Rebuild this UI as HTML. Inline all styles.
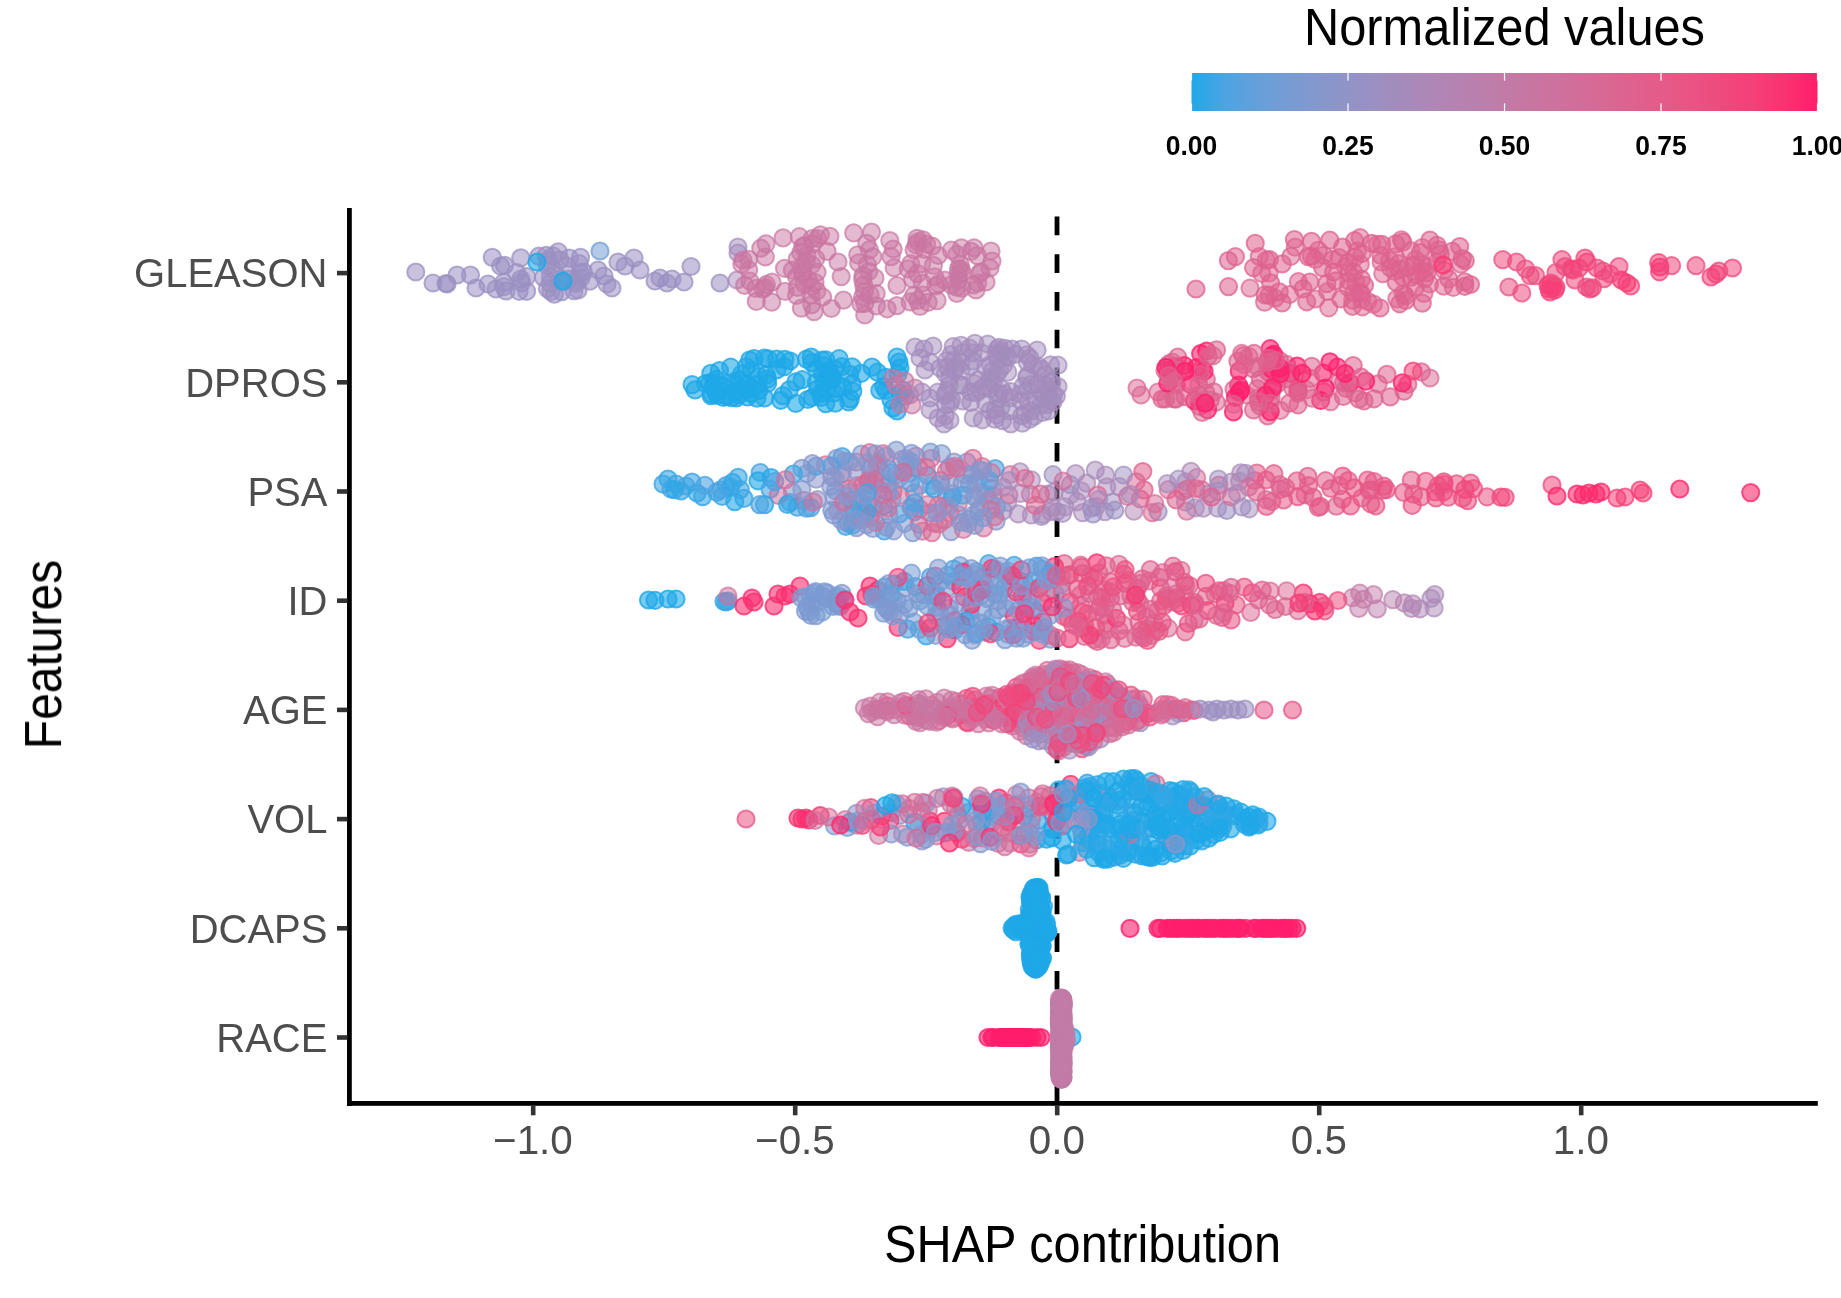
<!DOCTYPE html>
<html><head><meta charset="utf-8"><title>SHAP summary</title>
<style>
html,body{margin:0;padding:0;background:#fff;}
body{width:1841px;height:1298px;overflow:hidden;}
svg{display:block;font-family:"Liberation Sans",sans-serif;}
.at{font-size:39.2px;fill:#4d4d4d;}
.tt{font-size:49px;fill:#000;}
.lt{font-size:26px;font-weight:bold;fill:#000;}
#dots circle{r:8.60px;fill:currentColor;stroke:currentColor;fill-opacity:0.50;stroke-opacity:0.50;stroke-width:2.00px;}
#dots .a{fill-opacity:.45;stroke-opacity:.65}#dots .b{fill-opacity:.5;stroke-opacity:.7}#dots .c{fill-opacity:.55;stroke-opacity:.75}#dots .d{fill-opacity:.6;stroke-opacity:.8}
</style></head><body>
<svg width="1841" height="1298" viewBox="0 0 1841 1298">
<defs><linearGradient id="cb" x1="0" x2="1" y1="0" y2="0"><stop offset="0.000" stop-color="#1ea8e8"/><stop offset="0.050" stop-color="#4aa4e1"/><stop offset="0.100" stop-color="#63a0db"/><stop offset="0.150" stop-color="#759cd4"/><stop offset="0.200" stop-color="#8498ce"/><stop offset="0.250" stop-color="#9193c7"/><stop offset="0.300" stop-color="#9d8fc1"/><stop offset="0.350" stop-color="#a78aba"/><stop offset="0.400" stop-color="#b185b4"/><stop offset="0.450" stop-color="#b980ae"/><stop offset="0.500" stop-color="#c27ba7"/><stop offset="0.550" stop-color="#c975a1"/><stop offset="0.600" stop-color="#d06f9b"/><stop offset="0.650" stop-color="#d76995"/><stop offset="0.700" stop-color="#de628f"/><stop offset="0.750" stop-color="#e45b89"/><stop offset="0.800" stop-color="#ea5383"/><stop offset="0.850" stop-color="#ef497d"/><stop offset="0.900" stop-color="#f53f77"/><stop offset="0.950" stop-color="#fa3171"/><stop offset="1.000" stop-color="#ff1e6b"/></linearGradient></defs>
<rect width="1841" height="1298" fill="#fff"/>
<!-- legend -->
<g opacity="0.999">
<text transform="translate(1504.5,45) scale(0.995,1.065)" text-anchor="middle" class="tt">Normalized values</text>
<rect x="1191.5" y="73.0" width="626.0" height="38.0" fill="url(#cb)"/>
<rect x="1190.9" y="73.0" width="1.2" height="7.6" fill="#fff"/><rect x="1190.9" y="103.4" width="1.2" height="7.6" fill="#fff"/>
<rect x="1347.4" y="73.0" width="1.2" height="7.6" fill="#fff"/><rect x="1347.4" y="103.4" width="1.2" height="7.6" fill="#fff"/>
<rect x="1503.9" y="73.0" width="1.2" height="7.6" fill="#fff"/><rect x="1503.9" y="103.4" width="1.2" height="7.6" fill="#fff"/>
<rect x="1660.4" y="73.0" width="1.2" height="7.6" fill="#fff"/><rect x="1660.4" y="103.4" width="1.2" height="7.6" fill="#fff"/>
<rect x="1816.9" y="73.0" width="1.2" height="7.6" fill="#fff"/><rect x="1816.9" y="103.4" width="1.2" height="7.6" fill="#fff"/>
<text transform="translate(1191.5,155.2) scale(1.02,1.06)" text-anchor="middle" class="lt">0.00</text>
<text transform="translate(1348.0,155.2) scale(1.02,1.06)" text-anchor="middle" class="lt">0.25</text>
<text transform="translate(1504.5,155.2) scale(1.02,1.06)" text-anchor="middle" class="lt">0.50</text>
<text transform="translate(1661.0,155.2) scale(1.02,1.06)" text-anchor="middle" class="lt">0.75</text>
<text transform="translate(1817.5,155.2) scale(1.02,1.06)" text-anchor="middle" class="lt">1.00</text>

</g>
<!-- zero line -->
<line x1="1057" x2="1057" y1="216.6" y2="1101" stroke="#000" stroke-width="4.8" stroke-dasharray="18.6 19.12"/>
<!-- dots -->
<g id="dots">
<g>
<circle class="c" cx="415.8" cy="272.0" r="8.6" color="#9a90c2"/>
<circle class="c" cx="433.0" cy="283.0" r="8.6" color="#9a90c2"/>
<circle class="c" cx="446.0" cy="283.5" r="8.6" color="#9a90c2"/>
<circle class="c" cx="447.0" cy="284.0" r="8.6" color="#9a90c2"/>
<circle class="c" cx="457.0" cy="275.0" r="8.6" color="#9a90c2"/>
<circle class="c" cx="470.5" cy="275.0" r="8.6" color="#9a90c2"/>
<circle class="c" cx="476.0" cy="288.0" r="8.6" color="#9a90c2"/>
<circle class="c" cx="492.3" cy="257.4" r="8.6" color="#9a90c2"/>
<circle class="c" cx="488.0" cy="284.0" r="8.6" color="#9a90c2"/>
<circle class="c" cx="496.0" cy="289.0" r="8.6" color="#9a90c2"/>
<circle class="c" cx="506.0" cy="291.0" r="8.6" color="#9a90c2"/>
<circle class="c" cx="503.7" cy="286.7" r="8.6" color="#9c8fc1"/>
<circle class="c" cx="578.1" cy="289.9" r="8.6" color="#9c8fc1"/>
<circle class="c" cx="538.8" cy="256.2" r="8.6" color="#9b8fc2"/>
<circle class="c" cx="520.8" cy="257.8" r="8.6" color="#9b8fc1"/>
<circle class="c" cx="548.2" cy="260.2" r="8.6" color="#9b8fc2"/>
<circle class="c" cx="569.3" cy="258.1" r="8.6" color="#9990c3"/>
<circle class="c" cx="579.3" cy="263.7" r="8.6" color="#9d8fc1"/>
<circle class="c" cx="552.9" cy="255.9" r="8.6" color="#9b90c2"/>
<circle class="c" cx="500.6" cy="266.0" r="8.6" color="#9a90c3"/>
<circle class="c" cx="554.4" cy="294.1" r="8.6" color="#9c8fc1"/>
<circle class="c" cx="519.1" cy="291.3" r="8.6" color="#9990c3"/>
<circle class="c" cx="575.9" cy="283.5" r="8.6" color="#9b90c2"/>
<circle class="c" cx="583.5" cy="272.1" r="8.6" color="#9a90c2"/>
<circle class="c" cx="580.9" cy="278.0" r="8.6" color="#9c8fc1"/>
<circle class="c" cx="526.6" cy="276.7" r="8.6" color="#9c8fc1"/>
<circle class="c" cx="573.9" cy="290.7" r="8.6" color="#9a90c2"/>
<circle class="c" cx="550.5" cy="276.9" r="8.6" color="#9990c3"/>
<circle class="c" cx="562.8" cy="282.0" r="8.6" color="#9b90c2"/>
<circle class="c" cx="558.2" cy="251.9" r="8.6" color="#9c8fc1"/>
<circle class="c" cx="566.8" cy="266.2" r="8.6" color="#9c8fc1"/>
<circle class="c" cx="589.9" cy="281.2" r="8.6" color="#9c8fc1"/>
<circle class="c" cx="550.9" cy="291.4" r="8.6" color="#9990c3"/>
<circle class="c" cx="560.5" cy="279.1" r="8.6" color="#9a90c3"/>
<circle class="c" cx="546.3" cy="255.4" r="8.6" color="#9b8fc2"/>
<circle class="c" cx="554.6" cy="271.0" r="8.6" color="#9c8fc1"/>
<circle class="c" cx="580.5" cy="257.4" r="8.6" color="#9a90c3"/>
<circle class="c" cx="520.8" cy="279.1" r="8.6" color="#9c8fc1"/>
<circle class="c" cx="526.6" cy="291.3" r="8.6" color="#9990c3"/>
<circle class="c" cx="560.1" cy="260.0" r="8.6" color="#9d8fc1"/>
<circle class="c" cx="543.5" cy="277.5" r="8.6" color="#9b90c2"/>
<circle class="c" cx="547.4" cy="288.6" r="8.6" color="#9b90c2"/>
<circle class="c" cx="580.0" cy="272.7" r="8.6" color="#9b90c2"/>
<circle class="c" cx="547.5" cy="265.7" r="8.6" color="#9d8fc1"/>
<circle class="c" cx="503.8" cy="282.6" r="8.6" color="#9a90c2"/>
<circle class="c" cx="516.6" cy="272.6" r="8.6" color="#9b90c2"/>
<circle class="c" cx="504.5" cy="265.3" r="8.6" color="#9b8fc2"/>
<circle class="c" cx="576.9" cy="281.4" r="8.6" color="#9b90c2"/>
<circle class="c" cx="550.4" cy="283.2" r="8.6" color="#9d8fc1"/>
<circle class="c" cx="521.6" cy="282.6" r="8.6" color="#9990c3"/>
<circle class="c" cx="561.7" cy="291.6" r="8.6" color="#9990c3"/>
<circle class="c" cx="568.6" cy="279.1" r="8.6" color="#9c8fc1"/>
<circle class="d" cx="537.0" cy="262.0" r="8.6" color="#1ea8e8"/>
<circle class="d" cx="563.0" cy="281.0" r="8.6" color="#1ea8e8"/>
<circle class="c" cx="600.0" cy="251.0" r="8.6" color="#729dd6"/>
<circle class="c" cx="598.0" cy="270.0" r="8.6" color="#9a90c2"/>
<circle class="c" cx="607.0" cy="284.0" r="8.6" color="#9a90c2"/>
<circle class="c" cx="612.0" cy="288.0" r="8.6" color="#9a90c2"/>
<circle class="c" cx="618.0" cy="262.0" r="8.6" color="#9a90c2"/>
<circle class="c" cx="625.0" cy="266.0" r="8.6" color="#9a90c2"/>
<circle class="c" cx="634.0" cy="258.0" r="8.6" color="#9a90c2"/>
<circle class="c" cx="640.0" cy="270.0" r="8.6" color="#9a90c2"/>
<circle class="c" cx="655.0" cy="281.0" r="8.6" color="#9a90c2"/>
<circle class="c" cx="660.0" cy="278.0" r="8.6" color="#9a90c2"/>
<circle class="c" cx="667.0" cy="283.0" r="8.6" color="#9a90c2"/>
<circle class="c" cx="672.0" cy="279.0" r="8.6" color="#9a90c2"/>
<circle class="c" cx="684.0" cy="282.0" r="8.6" color="#9a90c2"/>
<circle class="c" cx="691.0" cy="266.5" r="8.6" color="#9a90c2"/>
<circle class="c" cx="604.0" cy="276.0" r="8.6" color="#9a90c2"/>
<circle class="c" cx="720.0" cy="283.0" r="8.6" color="#9a90c2"/>
<circle class="b" cx="737.0" cy="280.0" r="8.6" color="#a989b9"/>
<circle class="b" cx="738.0" cy="247.0" r="8.6" color="#a38cbd"/>
<circle class="b" cx="738.0" cy="253.0" r="8.6" color="#a38cbd"/>
<circle class="b" cx="863.7" cy="285.2" r="8.6" color="#ca74a0"/>
<circle class="b" cx="958.7" cy="279.8" r="8.6" color="#ca75a0"/>
<circle class="b" cx="920.0" cy="306.4" r="8.6" color="#ca74a0"/>
<circle class="b" cx="741.8" cy="264.1" r="8.6" color="#c976a2"/>
<circle class="b" cx="800.7" cy="252.8" r="8.6" color="#c876a2"/>
<circle class="b" cx="864.7" cy="314.9" r="8.6" color="#c976a2"/>
<circle class="b" cx="957.0" cy="254.3" r="8.6" color="#c975a1"/>
<circle class="b" cx="756.3" cy="301.4" r="8.6" color="#c975a1"/>
<circle class="b" cx="838.0" cy="262.0" r="8.6" color="#c876a2"/>
<circle class="b" cx="872.8" cy="256.8" r="8.6" color="#c975a1"/>
<circle class="b" cx="748.7" cy="269.8" r="8.6" color="#c976a2"/>
<circle class="b" cx="760.8" cy="248.2" r="8.6" color="#c975a1"/>
<circle class="b" cx="863.0" cy="275.6" r="8.6" color="#ca75a1"/>
<circle class="b" cx="772.0" cy="282.1" r="8.6" color="#ca75a1"/>
<circle class="b" cx="784.5" cy="268.3" r="8.6" color="#c876a2"/>
<circle class="b" cx="912.6" cy="279.2" r="8.6" color="#c976a2"/>
<circle class="b" cx="876.2" cy="293.6" r="8.6" color="#c975a1"/>
<circle class="b" cx="797.3" cy="287.3" r="8.6" color="#ca74a0"/>
<circle class="b" cx="870.1" cy="294.9" r="8.6" color="#c976a2"/>
<circle class="b" cx="974.1" cy="247.8" r="8.6" color="#c876a2"/>
<circle class="b" cx="841.2" cy="276.6" r="8.6" color="#c876a2"/>
<circle class="b" cx="910.7" cy="263.9" r="8.6" color="#c975a1"/>
<circle class="b" cx="812.2" cy="238.5" r="8.6" color="#cb74a0"/>
<circle class="b" cx="894.1" cy="267.7" r="8.6" color="#ca75a1"/>
<circle class="b" cx="815.8" cy="258.7" r="8.6" color="#c876a2"/>
<circle class="b" cx="951.3" cy="250.2" r="8.6" color="#ca75a1"/>
<circle class="b" cx="810.9" cy="294.9" r="8.6" color="#ca74a0"/>
<circle class="b" cx="817.0" cy="291.0" r="8.6" color="#ca75a1"/>
<circle class="b" cx="921.7" cy="263.6" r="8.6" color="#c975a1"/>
<circle class="b" cx="771.7" cy="302.2" r="8.6" color="#c876a2"/>
<circle class="b" cx="831.3" cy="308.5" r="8.6" color="#c976a2"/>
<circle class="b" cx="960.2" cy="264.6" r="8.6" color="#c976a2"/>
<circle class="b" cx="822.7" cy="297.0" r="8.6" color="#c975a1"/>
<circle class="b" cx="876.3" cy="305.9" r="8.6" color="#c876a2"/>
<circle class="b" cx="913.9" cy="295.3" r="8.6" color="#c876a2"/>
<circle class="b" cx="762.8" cy="289.1" r="8.6" color="#c976a2"/>
<circle class="b" cx="922.3" cy="283.0" r="8.6" color="#c876a2"/>
<circle class="b" cx="802.7" cy="274.4" r="8.6" color="#ca75a1"/>
<circle class="b" cx="817.0" cy="272.3" r="8.6" color="#ca75a1"/>
<circle class="b" cx="922.8" cy="295.1" r="8.6" color="#c975a1"/>
<circle class="b" cx="937.1" cy="300.6" r="8.6" color="#c876a2"/>
<circle class="b" cx="785.0" cy="291.3" r="8.6" color="#c876a2"/>
<circle class="b" cx="977.3" cy="255.6" r="8.6" color="#c975a1"/>
<circle class="b" cx="971.0" cy="251.4" r="8.6" color="#c976a2"/>
<circle class="b" cx="961.5" cy="247.8" r="8.6" color="#c876a2"/>
<circle class="b" cx="765.3" cy="257.0" r="8.6" color="#ca74a0"/>
<circle class="b" cx="802.7" cy="246.5" r="8.6" color="#c876a2"/>
<circle class="b" cx="956.8" cy="293.4" r="8.6" color="#c876a2"/>
<circle class="b" cx="799.4" cy="236.7" r="8.6" color="#ca75a1"/>
<circle class="b" cx="857.7" cy="254.8" r="8.6" color="#c976a1"/>
<circle class="b" cx="858.7" cy="262.9" r="8.6" color="#ca74a0"/>
<circle class="b" cx="924.2" cy="249.5" r="8.6" color="#ca75a1"/>
<circle class="b" cx="804.3" cy="283.6" r="8.6" color="#c975a1"/>
<circle class="b" cx="871.5" cy="232.1" r="8.6" color="#c876a2"/>
<circle class="b" cx="935.9" cy="286.0" r="8.6" color="#ca74a0"/>
<circle class="b" cx="864.8" cy="303.4" r="8.6" color="#ca74a0"/>
<circle class="b" cx="843.5" cy="300.1" r="8.6" color="#c876a2"/>
<circle class="b" cx="817.4" cy="238.5" r="8.6" color="#c976a2"/>
<circle class="b" cx="916.1" cy="244.8" r="8.6" color="#cb74a0"/>
<circle class="b" cx="917.0" cy="238.3" r="8.6" color="#c876a2"/>
<circle class="b" cx="853.7" cy="232.9" r="8.6" color="#ca75a1"/>
<circle class="b" cx="979.3" cy="273.8" r="8.6" color="#c876a2"/>
<circle class="b" cx="867.4" cy="264.7" r="8.6" color="#c975a1"/>
<circle class="b" cx="801.4" cy="308.2" r="8.6" color="#c975a1"/>
<circle class="b" cx="813.0" cy="243.8" r="8.6" color="#c975a1"/>
<circle class="b" cx="889.8" cy="240.5" r="8.6" color="#c975a1"/>
<circle class="b" cx="802.6" cy="265.2" r="8.6" color="#cb74a0"/>
<circle class="b" cx="933.4" cy="265.4" r="8.6" color="#c976a1"/>
<circle class="b" cx="811.9" cy="264.8" r="8.6" color="#c976a2"/>
<circle class="b" cx="922.9" cy="239.8" r="8.6" color="#ca75a1"/>
<circle class="b" cx="917.5" cy="273.7" r="8.6" color="#cb74a0"/>
<circle class="b" cx="896.9" cy="305.6" r="8.6" color="#c876a2"/>
<circle class="b" cx="864.6" cy="291.6" r="8.6" color="#c975a1"/>
<circle class="b" cx="944.8" cy="280.1" r="8.6" color="#c976a1"/>
<circle class="b" cx="797.3" cy="259.0" r="8.6" color="#ca75a0"/>
<circle class="b" cx="866.8" cy="243.3" r="8.6" color="#c876a2"/>
<circle class="b" cx="977.7" cy="283.0" r="8.6" color="#c976a2"/>
<circle class="b" cx="891.1" cy="256.7" r="8.6" color="#c975a1"/>
<circle class="b" cx="874.9" cy="277.9" r="8.6" color="#c876a2"/>
<circle class="b" cx="811.7" cy="286.5" r="8.6" color="#c876a2"/>
<circle class="b" cx="748.7" cy="259.3" r="8.6" color="#c876a2"/>
<circle class="b" cx="862.7" cy="279.4" r="8.6" color="#ca75a0"/>
<circle class="b" cx="744.6" cy="285.4" r="8.6" color="#c876a2"/>
<circle class="b" cx="792.4" cy="270.2" r="8.6" color="#ca74a0"/>
<circle class="b" cx="973.3" cy="285.0" r="8.6" color="#c876a2"/>
<circle class="b" cx="962.0" cy="272.4" r="8.6" color="#ca75a0"/>
<circle class="b" cx="755.9" cy="288.4" r="8.6" color="#ca75a1"/>
<circle class="b" cx="808.1" cy="280.2" r="8.6" color="#ca75a1"/>
<circle class="b" cx="829.9" cy="236.4" r="8.6" color="#c976a2"/>
<circle class="b" cx="827.0" cy="251.4" r="8.6" color="#ca74a0"/>
<circle class="b" cx="766.3" cy="284.7" r="8.6" color="#c975a1"/>
<circle class="b" cx="934.7" cy="276.8" r="8.6" color="#ca75a1"/>
<circle class="b" cx="928.1" cy="302.3" r="8.6" color="#ca74a0"/>
<circle class="b" cx="811.8" cy="304.6" r="8.6" color="#c876a2"/>
<circle class="b" cx="820.4" cy="234.8" r="8.6" color="#ca75a1"/>
<circle class="b" cx="868.7" cy="271.5" r="8.6" color="#c876a2"/>
<circle class="b" cx="961.8" cy="288.1" r="8.6" color="#c975a1"/>
<circle class="b" cx="893.2" cy="249.0" r="8.6" color="#cb74a0"/>
<circle class="b" cx="951.4" cy="284.9" r="8.6" color="#ca75a1"/>
<circle class="b" cx="958.5" cy="268.8" r="8.6" color="#ca75a1"/>
<circle class="b" cx="764.9" cy="287.5" r="8.6" color="#ca74a0"/>
<circle class="b" cx="910.2" cy="301.9" r="8.6" color="#c876a2"/>
<circle class="b" cx="887.2" cy="308.8" r="8.6" color="#c876a2"/>
<circle class="b" cx="908.2" cy="268.9" r="8.6" color="#c976a2"/>
<circle class="b" cx="932.2" cy="246.2" r="8.6" color="#cb74a0"/>
<circle class="b" cx="807.0" cy="255.0" r="8.6" color="#c976a2"/>
<circle class="b" cx="961.0" cy="269.3" r="8.6" color="#c975a1"/>
<circle class="b" cx="958.1" cy="274.6" r="8.6" color="#c976a1"/>
<circle class="b" cx="938.5" cy="283.8" r="8.6" color="#ca75a0"/>
<circle class="b" cx="862.6" cy="296.9" r="8.6" color="#c976a2"/>
<circle class="b" cx="796.6" cy="295.4" r="8.6" color="#ca75a1"/>
<circle class="b" cx="749.9" cy="281.2" r="8.6" color="#cb74a0"/>
<circle class="b" cx="914.1" cy="249.9" r="8.6" color="#ca75a1"/>
<circle class="b" cx="926.6" cy="244.2" r="8.6" color="#ca75a0"/>
<circle class="b" cx="956.5" cy="287.1" r="8.6" color="#c876a2"/>
<circle class="b" cx="815.0" cy="282.6" r="8.6" color="#ca74a0"/>
<circle class="b" cx="804.8" cy="245.4" r="8.6" color="#c975a1"/>
<circle class="b" cx="917.8" cy="241.9" r="8.6" color="#c976a2"/>
<circle class="b" cx="802.6" cy="271.8" r="8.6" color="#c975a1"/>
<circle class="b" cx="783.1" cy="237.9" r="8.6" color="#ca75a1"/>
<circle class="b" cx="766.1" cy="243.8" r="8.6" color="#c876a2"/>
<circle class="b" cx="796.5" cy="276.7" r="8.6" color="#c976a1"/>
<circle class="b" cx="814.1" cy="311.6" r="8.6" color="#c876a2"/>
<circle class="b" cx="897.0" cy="285.5" r="8.6" color="#ca74a0"/>
<circle class="b" cx="917.8" cy="300.4" r="8.6" color="#c876a2"/>
<circle class="b" cx="938.2" cy="255.5" r="8.6" color="#c975a1"/>
<circle class="b" cx="869.4" cy="249.9" r="8.6" color="#c876a2"/>
<circle class="b" cx="860.8" cy="303.7" r="8.6" color="#c975a1"/>
<circle class="b" cx="742.9" cy="260.0" r="8.6" color="#ca75a0"/>
<circle class="b" cx="806.2" cy="261.6" r="8.6" color="#c876a2"/>
<circle class="b" cx="991.0" cy="251.0" r="8.6" color="#c975a1"/>
<circle class="b" cx="992.0" cy="261.0" r="8.6" color="#c975a1"/>
<circle class="b" cx="990.0" cy="268.0" r="8.6" color="#c975a1"/>
<circle class="b" cx="986.0" cy="282.0" r="8.6" color="#c975a1"/>
<circle class="b" cx="976.0" cy="290.0" r="8.6" color="#c975a1"/>
<circle class="b" cx="981.0" cy="272.0" r="8.6" color="#c975a1"/>
<circle class="c" cx="1196.0" cy="289.0" r="8.6" color="#de628f"/>
<circle class="c" cx="1352.5" cy="306.3" r="8.6" color="#df618e"/>
<circle class="b" cx="1460.8" cy="264.2" r="8.6" color="#dd6390"/>
<circle class="b" cx="1315.6" cy="299.0" r="8.6" color="#dd6390"/>
<circle class="c" cx="1403.1" cy="293.8" r="8.6" color="#df618e"/>
<circle class="b" cx="1259.3" cy="256.5" r="8.6" color="#dd638f"/>
<circle class="c" cx="1395.9" cy="243.8" r="8.6" color="#de618e"/>
<circle class="c" cx="1380.9" cy="255.4" r="8.6" color="#de628e"/>
<circle class="c" cx="1282.2" cy="263.9" r="8.6" color="#de628e"/>
<circle class="c" cx="1269.0" cy="295.2" r="8.6" color="#df618e"/>
<circle class="c" cx="1437.0" cy="245.4" r="8.6" color="#de618e"/>
<circle class="c" cx="1464.8" cy="286.3" r="8.6" color="#de628e"/>
<circle class="c" cx="1326.8" cy="283.7" r="8.6" color="#de628e"/>
<circle class="b" cx="1318.3" cy="250.4" r="8.6" color="#dd638f"/>
<circle class="b" cx="1398.7" cy="263.6" r="8.6" color="#dc6490"/>
<circle class="c" cx="1332.8" cy="259.7" r="8.6" color="#de618e"/>
<circle class="c" cx="1426.8" cy="266.6" r="8.6" color="#de628e"/>
<circle class="c" cx="1348.4" cy="262.5" r="8.6" color="#de628e"/>
<circle class="b" cx="1429.6" cy="284.0" r="8.6" color="#dd638f"/>
<circle class="b" cx="1359.0" cy="292.0" r="8.6" color="#dd638f"/>
<circle class="c" cx="1253.6" cy="267.7" r="8.6" color="#de628e"/>
<circle class="b" cx="1275.2" cy="298.2" r="8.6" color="#dd638f"/>
<circle class="c" cx="1424.6" cy="278.6" r="8.6" color="#df618e"/>
<circle class="c" cx="1381.7" cy="244.4" r="8.6" color="#df618e"/>
<circle class="c" cx="1405.8" cy="300.4" r="8.6" color="#df618e"/>
<circle class="b" cx="1394.6" cy="271.1" r="8.6" color="#dd638f"/>
<circle class="c" cx="1340.8" cy="299.0" r="8.6" color="#de628f"/>
<circle class="b" cx="1345.5" cy="266.6" r="8.6" color="#dc6490"/>
<circle class="c" cx="1342.5" cy="247.0" r="8.6" color="#de628f"/>
<circle class="c" cx="1396.2" cy="282.1" r="8.6" color="#de628e"/>
<circle class="b" cx="1422.3" cy="247.6" r="8.6" color="#dd638f"/>
<circle class="b" cx="1362.4" cy="306.8" r="8.6" color="#dd638f"/>
<circle class="b" cx="1415.6" cy="259.6" r="8.6" color="#dd6390"/>
<circle class="b" cx="1269.0" cy="272.9" r="8.6" color="#dd638f"/>
<circle class="c" cx="1322.6" cy="267.6" r="8.6" color="#df618e"/>
<circle class="b" cx="1352.8" cy="300.2" r="8.6" color="#dd628f"/>
<circle class="b" cx="1396.8" cy="298.8" r="8.6" color="#dd638f"/>
<circle class="c" cx="1452.1" cy="251.4" r="8.6" color="#df618e"/>
<circle class="c" cx="1269.4" cy="259.5" r="8.6" color="#dd628f"/>
<circle class="c" cx="1459.7" cy="246.5" r="8.6" color="#de618e"/>
<circle class="c" cx="1364.5" cy="285.3" r="8.6" color="#de628e"/>
<circle class="c" cx="1427.1" cy="272.6" r="8.6" color="#df618e"/>
<circle class="c" cx="1353.6" cy="272.3" r="8.6" color="#de628f"/>
<circle class="c" cx="1329.8" cy="240.2" r="8.6" color="#de628f"/>
<circle class="c" cx="1362.1" cy="253.5" r="8.6" color="#de618e"/>
<circle class="b" cx="1360.1" cy="237.7" r="8.6" color="#dd638f"/>
<circle class="b" cx="1348.8" cy="281.0" r="8.6" color="#dd638f"/>
<circle class="c" cx="1389.7" cy="260.6" r="8.6" color="#de628e"/>
<circle class="c" cx="1354.6" cy="240.7" r="8.6" color="#de618e"/>
<circle class="c" cx="1339.2" cy="257.7" r="8.6" color="#de628e"/>
<circle class="c" cx="1405.4" cy="295.9" r="8.6" color="#dd628f"/>
<circle class="c" cx="1402.8" cy="242.2" r="8.6" color="#de628f"/>
<circle class="c" cx="1228.5" cy="286.6" r="8.6" color="#df618e"/>
<circle class="b" cx="1348.3" cy="287.5" r="8.6" color="#dd6390"/>
<circle class="c" cx="1464.7" cy="281.8" r="8.6" color="#de628e"/>
<circle class="b" cx="1327.6" cy="291.5" r="8.6" color="#dd6390"/>
<circle class="c" cx="1270.6" cy="282.8" r="8.6" color="#de628e"/>
<circle class="b" cx="1440.4" cy="254.1" r="8.6" color="#dd628f"/>
<circle class="c" cx="1421.8" cy="270.9" r="8.6" color="#de628e"/>
<circle class="b" cx="1444.3" cy="270.5" r="8.6" color="#dc6390"/>
<circle class="b" cx="1410.8" cy="250.5" r="8.6" color="#dd6390"/>
<circle class="c" cx="1335.8" cy="280.9" r="8.6" color="#de628f"/>
<circle class="b" cx="1362.0" cy="299.3" r="8.6" color="#dd6390"/>
<circle class="c" cx="1308.3" cy="256.6" r="8.6" color="#de628f"/>
<circle class="c" cx="1422.1" cy="264.6" r="8.6" color="#df618e"/>
<circle class="c" cx="1403.2" cy="277.4" r="8.6" color="#de628f"/>
<circle class="b" cx="1353.8" cy="292.9" r="8.6" color="#dd638f"/>
<circle class="b" cx="1381.1" cy="262.0" r="8.6" color="#dd6390"/>
<circle class="b" cx="1289.6" cy="294.5" r="8.6" color="#dd638f"/>
<circle class="c" cx="1309.9" cy="282.0" r="8.6" color="#de628f"/>
<circle class="b" cx="1328.7" cy="307.8" r="8.6" color="#dd638f"/>
<circle class="b" cx="1323.7" cy="255.3" r="8.6" color="#dd638f"/>
<circle class="c" cx="1228.4" cy="260.6" r="8.6" color="#de628e"/>
<circle class="b" cx="1367.8" cy="301.4" r="8.6" color="#dd638f"/>
<circle class="c" cx="1298.4" cy="281.7" r="8.6" color="#de628f"/>
<circle class="c" cx="1311.5" cy="241.4" r="8.6" color="#de628e"/>
<circle class="b" cx="1360.3" cy="264.4" r="8.6" color="#dd638f"/>
<circle class="c" cx="1410.8" cy="277.5" r="8.6" color="#de628f"/>
<circle class="c" cx="1448.8" cy="279.0" r="8.6" color="#df618e"/>
<circle class="b" cx="1264.6" cy="302.2" r="8.6" color="#dd638f"/>
<circle class="c" cx="1255.2" cy="243.3" r="8.6" color="#df618d"/>
<circle class="b" cx="1261.7" cy="273.4" r="8.6" color="#dd638f"/>
<circle class="c" cx="1303.1" cy="288.8" r="8.6" color="#de628e"/>
<circle class="c" cx="1380.1" cy="308.0" r="8.6" color="#de628e"/>
<circle class="c" cx="1399.6" cy="303.8" r="8.6" color="#de628e"/>
<circle class="c" cx="1470.5" cy="284.5" r="8.6" color="#dd628f"/>
<circle class="b" cx="1355.8" cy="282.4" r="8.6" color="#dd638f"/>
<circle class="c" cx="1265.1" cy="294.9" r="8.6" color="#de628f"/>
<circle class="b" cx="1453.3" cy="287.3" r="8.6" color="#dd638f"/>
<circle class="b" cx="1250.0" cy="288.1" r="8.6" color="#dc6490"/>
<circle class="c" cx="1465.3" cy="260.7" r="8.6" color="#de618e"/>
<circle class="c" cx="1416.2" cy="274.7" r="8.6" color="#de628e"/>
<circle class="b" cx="1290.9" cy="256.3" r="8.6" color="#dd638f"/>
<circle class="b" cx="1394.7" cy="256.8" r="8.6" color="#dd638f"/>
<circle class="b" cx="1315.2" cy="259.4" r="8.6" color="#dd6390"/>
<circle class="c" cx="1371.4" cy="243.3" r="8.6" color="#de618e"/>
<circle class="b" cx="1407.3" cy="267.3" r="8.6" color="#dd638f"/>
<circle class="c" cx="1279.2" cy="291.9" r="8.6" color="#de628e"/>
<circle class="c" cx="1413.5" cy="264.9" r="8.6" color="#de628e"/>
<circle class="b" cx="1401.4" cy="239.8" r="8.6" color="#dd638f"/>
<circle class="c" cx="1422.3" cy="303.2" r="8.6" color="#de628e"/>
<circle class="c" cx="1438.9" cy="249.8" r="8.6" color="#df618d"/>
<circle class="c" cx="1306.7" cy="301.8" r="8.6" color="#de618e"/>
<circle class="c" cx="1354.9" cy="257.1" r="8.6" color="#de628e"/>
<circle class="b" cx="1295.2" cy="247.1" r="8.6" color="#dd638f"/>
<circle class="c" cx="1361.2" cy="293.4" r="8.6" color="#de628f"/>
<circle class="b" cx="1266.3" cy="260.1" r="8.6" color="#dd638f"/>
<circle class="c" cx="1361.4" cy="279.1" r="8.6" color="#df618e"/>
<circle class="b" cx="1357.2" cy="251.0" r="8.6" color="#dd638f"/>
<circle class="b" cx="1443.7" cy="286.2" r="8.6" color="#dd628f"/>
<circle class="c" cx="1235.4" cy="256.7" r="8.6" color="#de628e"/>
<circle class="c" cx="1294.4" cy="239.5" r="8.6" color="#de628f"/>
<circle class="c" cx="1333.6" cy="272.0" r="8.6" color="#de628e"/>
<circle class="b" cx="1390.4" cy="267.8" r="8.6" color="#dd638f"/>
<circle class="b" cx="1373.4" cy="304.1" r="8.6" color="#dd6390"/>
<circle class="c" cx="1462.3" cy="258.6" r="8.6" color="#de628e"/>
<circle class="c" cx="1282.1" cy="302.9" r="8.6" color="#de618e"/>
<circle class="b" cx="1382.8" cy="273.7" r="8.6" color="#dd638f"/>
<circle class="c" cx="1429.9" cy="240.1" r="8.6" color="#de628f"/>
<circle class="b" cx="1377.6" cy="244.4" r="8.6" color="#dd638f"/>
<circle class="b" cx="1400.1" cy="269.4" r="8.6" color="#dd638f"/>
<circle class="c" cx="1311.4" cy="256.1" r="8.6" color="#df618e"/>
<circle class="b" cx="1348.8" cy="273.2" r="8.6" color="#dd638f"/>
<circle class="b" cx="1420.3" cy="252.7" r="8.6" color="#dd6390"/>
<circle class="c" cx="1415.5" cy="287.1" r="8.6" color="#de618e"/>
<circle class="b" cx="1423.9" cy="293.4" r="8.6" color="#dd638f"/>
<circle class="c" cx="1436.8" cy="262.1" r="8.6" color="#de628e"/>
<circle class="d" cx="1443.0" cy="265.0" r="8.6" color="#f73a74"/>
<circle class="c" cx="1502.8" cy="259.7" r="8.6" color="#ec4f80"/>
<circle class="c" cx="1516.5" cy="262.0" r="8.6" color="#ec4f80"/>
<circle class="c" cx="1525.6" cy="268.8" r="8.6" color="#ec4f80"/>
<circle class="c" cx="1530.2" cy="275.6" r="8.6" color="#ec4f80"/>
<circle class="c" cx="1535.5" cy="275.6" r="8.6" color="#ec4f80"/>
<circle class="c" cx="1508.9" cy="287.0" r="8.6" color="#ea5383"/>
<circle class="c" cx="1521.8" cy="293.0" r="8.6" color="#ec4f80"/>
<circle class="c" cx="1548.0" cy="285.0" r="8.6" color="#f53f77"/>
<circle class="c" cx="1552.0" cy="288.0" r="8.6" color="#f53f77"/>
<circle class="c" cx="1555.0" cy="290.0" r="8.6" color="#f53f77"/>
<circle class="c" cx="1550.0" cy="292.0" r="8.6" color="#f53f77"/>
<circle class="c" cx="1553.0" cy="285.0" r="8.6" color="#f53f77"/>
<circle class="c" cx="1549.0" cy="289.0" r="8.6" color="#f53f77"/>
<circle class="c" cx="1556.0" cy="287.0" r="8.6" color="#f53f77"/>
<circle class="c" cx="1551.0" cy="283.0" r="8.6" color="#f53f77"/>
<circle class="c" cx="1562.0" cy="259.7" r="8.6" color="#ef497d"/>
<circle class="c" cx="1565.0" cy="266.5" r="8.6" color="#ef497d"/>
<circle class="c" cx="1571.0" cy="268.8" r="8.6" color="#f34379"/>
<circle class="c" cx="1573.0" cy="270.0" r="8.6" color="#f34379"/>
<circle class="c" cx="1579.0" cy="268.0" r="8.6" color="#f34379"/>
<circle class="c" cx="1585.0" cy="258.0" r="8.6" color="#f34379"/>
<circle class="c" cx="1587.0" cy="262.0" r="8.6" color="#f34379"/>
<circle class="c" cx="1556.0" cy="272.6" r="8.6" color="#ec4f80"/>
<circle class="c" cx="1603.0" cy="271.0" r="8.6" color="#ef497d"/>
<circle class="c" cx="1604.0" cy="278.7" r="8.6" color="#ef497d"/>
<circle class="c" cx="1586.5" cy="287.0" r="8.6" color="#ef497d"/>
<circle class="c" cx="1592.5" cy="287.8" r="8.6" color="#ef497d"/>
<circle class="c" cx="1590.0" cy="289.0" r="8.6" color="#ef497d"/>
<circle class="c" cx="1619.0" cy="266.5" r="8.6" color="#ef497d"/>
<circle class="d" cx="1621.4" cy="280.0" r="8.6" color="#f73a74"/>
<circle class="d" cx="1626.8" cy="283.0" r="8.6" color="#f73a74"/>
<circle class="c" cx="1630.6" cy="286.0" r="8.6" color="#f34379"/>
<circle class="c" cx="1658.7" cy="262.7" r="8.6" color="#f53f77"/>
<circle class="c" cx="1659.5" cy="271.8" r="8.6" color="#f53f77"/>
<circle class="d" cx="1660.0" cy="267.0" r="8.6" color="#f73a74"/>
<circle class="c" cx="1671.6" cy="265.7" r="8.6" color="#ef497d"/>
<circle class="c" cx="1696.0" cy="265.7" r="8.6" color="#ef497d"/>
<circle class="c" cx="1711.0" cy="277.0" r="8.6" color="#f34379"/>
<circle class="c" cx="1718.8" cy="271.0" r="8.6" color="#f34379"/>
<circle class="c" cx="1716.0" cy="274.0" r="8.6" color="#f34379"/>
<circle class="c" cx="1732.5" cy="268.0" r="8.6" color="#ef497d"/>
<circle class="c" cx="1597.0" cy="268.0" r="8.6" color="#ef497d"/>
<circle class="c" cx="1610.0" cy="274.0" r="8.6" color="#ef497d"/>
<circle class="c" cx="1575.0" cy="280.0" r="8.6" color="#ef497d"/>
</g>
<g>
<circle class="d" cx="740.7" cy="389.7" r="8.6" color="#1ea8e8"/>
<circle class="d" cx="886.0" cy="390.3" r="8.6" color="#1ea8e8"/>
<circle class="d" cx="795.9" cy="381.8" r="8.6" color="#1ea8e8"/>
<circle class="d" cx="711.0" cy="395.7" r="8.6" color="#1ea8e8"/>
<circle class="d" cx="692.1" cy="384.6" r="8.6" color="#1ea8e8"/>
<circle class="d" cx="852.0" cy="384.1" r="8.6" color="#1ea8e8"/>
<circle class="d" cx="767.6" cy="383.4" r="8.6" color="#1ea8e8"/>
<circle class="d" cx="754.1" cy="358.5" r="8.6" color="#1ea8e8"/>
<circle class="d" cx="741.5" cy="374.1" r="8.6" color="#1ea8e8"/>
<circle class="d" cx="821.3" cy="393.2" r="8.6" color="#1ea8e8"/>
<circle class="d" cx="719.5" cy="370.6" r="8.6" color="#1ea8e8"/>
<circle class="d" cx="747.6" cy="396.9" r="8.6" color="#1ea8e8"/>
<circle class="d" cx="705.6" cy="383.6" r="8.6" color="#1ea8e8"/>
<circle class="d" cx="734.4" cy="381.5" r="8.6" color="#1ea8e8"/>
<circle class="d" cx="825.8" cy="359.8" r="8.6" color="#1ea8e8"/>
<circle class="d" cx="825.8" cy="403.7" r="8.6" color="#1ea8e8"/>
<circle class="d" cx="784.8" cy="359.4" r="8.6" color="#1ea8e8"/>
<circle class="d" cx="776.6" cy="359.2" r="8.6" color="#1ea8e8"/>
<circle class="d" cx="852.1" cy="366.9" r="8.6" color="#1ea8e8"/>
<circle class="d" cx="746.3" cy="366.9" r="8.6" color="#1ea8e8"/>
<circle class="d" cx="739.6" cy="380.2" r="8.6" color="#1ea8e8"/>
<circle class="d" cx="834.1" cy="393.0" r="8.6" color="#1ea8e8"/>
<circle class="d" cx="839.1" cy="358.7" r="8.6" color="#1ea8e8"/>
<circle class="d" cx="764.6" cy="398.0" r="8.6" color="#1ea8e8"/>
<circle class="d" cx="710.9" cy="373.4" r="8.6" color="#1ea8e8"/>
<circle class="d" cx="816.3" cy="382.5" r="8.6" color="#1ea8e8"/>
<circle class="d" cx="802.1" cy="379.7" r="8.6" color="#1ea8e8"/>
<circle class="d" cx="736.4" cy="397.9" r="8.6" color="#1ea8e8"/>
<circle class="d" cx="822.6" cy="374.5" r="8.6" color="#1ea8e8"/>
<circle class="d" cx="750.8" cy="393.3" r="8.6" color="#1ea8e8"/>
<circle class="d" cx="756.9" cy="398.2" r="8.6" color="#1ea8e8"/>
<circle class="d" cx="849.7" cy="374.4" r="8.6" color="#1ea8e8"/>
<circle class="d" cx="848.7" cy="401.9" r="8.6" color="#1ea8e8"/>
<circle class="d" cx="757.0" cy="384.4" r="8.6" color="#1ea8e8"/>
<circle class="d" cx="722.6" cy="386.3" r="8.6" color="#1ea8e8"/>
<circle class="d" cx="886.0" cy="377.3" r="8.6" color="#1ea8e8"/>
<circle class="d" cx="734.7" cy="384.0" r="8.6" color="#1ea8e8"/>
<circle class="d" cx="751.3" cy="370.8" r="8.6" color="#1ea8e8"/>
<circle class="d" cx="883.7" cy="386.5" r="8.6" color="#1ea8e8"/>
<circle class="d" cx="827.8" cy="376.9" r="8.6" color="#1ea8e8"/>
<circle class="d" cx="718.8" cy="390.9" r="8.6" color="#1ea8e8"/>
<circle class="d" cx="877.5" cy="372.2" r="8.6" color="#1ea8e8"/>
<circle class="d" cx="872.0" cy="367.1" r="8.6" color="#1ea8e8"/>
<circle class="d" cx="824.0" cy="383.0" r="8.6" color="#1ea8e8"/>
<circle class="d" cx="842.8" cy="386.9" r="8.6" color="#1ea8e8"/>
<circle class="d" cx="709.6" cy="382.9" r="8.6" color="#1ea8e8"/>
<circle class="d" cx="837.1" cy="388.6" r="8.6" color="#1ea8e8"/>
<circle class="d" cx="789.3" cy="389.9" r="8.6" color="#1ea8e8"/>
<circle class="d" cx="776.9" cy="369.7" r="8.6" color="#1ea8e8"/>
<circle class="d" cx="806.5" cy="359.1" r="8.6" color="#1ea8e8"/>
<circle class="d" cx="828.9" cy="370.6" r="8.6" color="#1ea8e8"/>
<circle class="d" cx="832.3" cy="379.8" r="8.6" color="#1ea8e8"/>
<circle class="d" cx="759.1" cy="376.6" r="8.6" color="#1ea8e8"/>
<circle class="d" cx="830.5" cy="378.0" r="8.6" color="#1ea8e8"/>
<circle class="d" cx="695.1" cy="389.9" r="8.6" color="#1ea8e8"/>
<circle class="d" cx="780.7" cy="400.3" r="8.6" color="#1ea8e8"/>
<circle class="d" cx="717.3" cy="395.4" r="8.6" color="#1ea8e8"/>
<circle class="d" cx="713.3" cy="386.4" r="8.6" color="#1ea8e8"/>
<circle class="d" cx="784.2" cy="366.7" r="8.6" color="#1ea8e8"/>
<circle class="d" cx="822.1" cy="360.1" r="8.6" color="#1ea8e8"/>
<circle class="d" cx="861.2" cy="373.3" r="8.6" color="#1ea8e8"/>
<circle class="d" cx="795.8" cy="403.4" r="8.6" color="#1ea8e8"/>
<circle class="d" cx="734.8" cy="391.7" r="8.6" color="#1ea8e8"/>
<circle class="d" cx="826.0" cy="390.1" r="8.6" color="#1ea8e8"/>
<circle class="d" cx="715.5" cy="391.8" r="8.6" color="#1ea8e8"/>
<circle class="d" cx="811.8" cy="362.6" r="8.6" color="#1ea8e8"/>
<circle class="d" cx="807.8" cy="399.5" r="8.6" color="#1ea8e8"/>
<circle class="d" cx="766.4" cy="374.9" r="8.6" color="#1ea8e8"/>
<circle class="d" cx="821.4" cy="397.5" r="8.6" color="#1ea8e8"/>
<circle class="d" cx="834.5" cy="368.8" r="8.6" color="#1ea8e8"/>
<circle class="d" cx="830.1" cy="374.8" r="8.6" color="#1ea8e8"/>
<circle class="d" cx="816.4" cy="368.8" r="8.6" color="#1ea8e8"/>
<circle class="d" cx="841.7" cy="366.7" r="8.6" color="#1ea8e8"/>
<circle class="d" cx="751.2" cy="388.0" r="8.6" color="#1ea8e8"/>
<circle class="d" cx="811.2" cy="357.0" r="8.6" color="#1ea8e8"/>
<circle class="d" cx="768.1" cy="358.8" r="8.6" color="#1ea8e8"/>
<circle class="d" cx="879.8" cy="390.5" r="8.6" color="#1ea8e8"/>
<circle class="d" cx="716.1" cy="379.3" r="8.6" color="#1ea8e8"/>
<circle class="d" cx="726.5" cy="396.1" r="8.6" color="#1ea8e8"/>
<circle class="d" cx="817.7" cy="389.0" r="8.6" color="#1ea8e8"/>
<circle class="d" cx="758.8" cy="390.4" r="8.6" color="#1ea8e8"/>
<circle class="d" cx="723.3" cy="397.5" r="8.6" color="#1ea8e8"/>
<circle class="d" cx="748.0" cy="384.5" r="8.6" color="#1ea8e8"/>
<circle class="d" cx="790.1" cy="361.0" r="8.6" color="#1ea8e8"/>
<circle class="d" cx="852.8" cy="391.4" r="8.6" color="#1ea8e8"/>
<circle class="d" cx="746.0" cy="389.7" r="8.6" color="#1ea8e8"/>
<circle class="d" cx="715.3" cy="383.0" r="8.6" color="#1ea8e8"/>
<circle class="d" cx="835.3" cy="403.1" r="8.6" color="#1ea8e8"/>
<circle class="d" cx="730.7" cy="367.2" r="8.6" color="#1ea8e8"/>
<circle class="d" cx="731.6" cy="397.7" r="8.6" color="#1ea8e8"/>
<circle class="d" cx="832.4" cy="377.6" r="8.6" color="#1ea8e8"/>
<circle class="d" cx="767.4" cy="379.1" r="8.6" color="#1ea8e8"/>
<circle class="d" cx="749.6" cy="360.0" r="8.6" color="#1ea8e8"/>
<circle class="d" cx="711.9" cy="394.5" r="8.6" color="#1ea8e8"/>
<circle class="d" cx="812.3" cy="397.5" r="8.6" color="#1ea8e8"/>
<circle class="d" cx="764.5" cy="358.0" r="8.6" color="#1ea8e8"/>
<circle class="d" cx="823.5" cy="365.7" r="8.6" color="#1ea8e8"/>
<circle class="d" cx="782.9" cy="395.6" r="8.6" color="#1ea8e8"/>
<circle class="d" cx="850.3" cy="398.9" r="8.6" color="#1ea8e8"/>
<circle class="d" cx="738.7" cy="394.8" r="8.6" color="#1ea8e8"/>
<circle class="d" cx="897.0" cy="357.0" r="8.6" color="#1ea8e8"/>
<circle class="d" cx="899.0" cy="362.0" r="8.6" color="#1ea8e8"/>
<circle class="d" cx="900.0" cy="368.0" r="8.6" color="#1ea8e8"/>
<circle class="d" cx="898.0" cy="374.0" r="8.6" color="#1ea8e8"/>
<circle class="d" cx="903.0" cy="390.0" r="8.6" color="#1ea8e8"/>
<circle class="d" cx="905.0" cy="396.0" r="8.6" color="#1ea8e8"/>
<circle class="d" cx="900.0" cy="393.0" r="8.6" color="#1ea8e8"/>
<circle class="d" cx="893.0" cy="408.0" r="8.6" color="#1ea8e8"/>
<circle class="d" cx="897.0" cy="411.0" r="8.6" color="#1ea8e8"/>
<circle class="d" cx="891.0" cy="400.0" r="8.6" color="#1ea8e8"/>
<circle class="b" cx="893.0" cy="378.0" r="8.6" color="#c975a1"/>
<circle class="b" cx="896.0" cy="385.0" r="8.6" color="#c975a1"/>
<circle class="b" cx="905.0" cy="381.0" r="8.6" color="#c975a1"/>
<circle class="b" cx="910.0" cy="395.0" r="8.6" color="#c975a1"/>
<circle class="b" cx="912.0" cy="405.0" r="8.6" color="#c975a1"/>
<circle class="b" cx="900.0" cy="404.0" r="8.6" color="#c975a1"/>
<circle class="b" cx="915.0" cy="388.0" r="8.6" color="#c27ba7"/>
<circle class="b" cx="915.0" cy="347.0" r="8.6" color="#a38cbd"/>
<circle class="b" cx="924.0" cy="349.0" r="8.6" color="#a38cbd"/>
<circle class="b" cx="933.0" cy="346.0" r="8.6" color="#a38cbd"/>
<circle class="b" cx="920.0" cy="358.0" r="8.6" color="#a38cbd"/>
<circle class="b" cx="930.0" cy="362.0" r="8.6" color="#a38cbd"/>
<circle class="b" cx="940.0" cy="368.0" r="8.6" color="#a38cbd"/>
<circle class="b" cx="922.0" cy="392.0" r="8.6" color="#a38cbd"/>
<circle class="b" cx="930.0" cy="398.0" r="8.6" color="#a38cbd"/>
<circle class="b" cx="938.0" cy="392.0" r="8.6" color="#a38cbd"/>
<circle class="b" cx="930.0" cy="410.0" r="8.6" color="#a38cbd"/>
<circle class="b" cx="938.0" cy="418.0" r="8.6" color="#a38cbd"/>
<circle class="b" cx="944.0" cy="424.0" r="8.6" color="#a38cbd"/>
<circle class="b" cx="925.0" cy="370.0" r="8.6" color="#a38cbd"/>
<circle class="b" cx="1031.1" cy="384.3" r="8.6" color="#a28dbe"/>
<circle class="b" cx="970.0" cy="366.4" r="8.6" color="#a28cbe"/>
<circle class="b" cx="1021.6" cy="415.9" r="8.6" color="#a38cbd"/>
<circle class="b" cx="1021.7" cy="349.0" r="8.6" color="#a38cbd"/>
<circle class="b" cx="951.5" cy="399.8" r="8.6" color="#a28cbd"/>
<circle class="b" cx="1041.0" cy="404.8" r="8.6" color="#a28cbd"/>
<circle class="b" cx="949.2" cy="385.4" r="8.6" color="#a38cbd"/>
<circle class="b" cx="954.3" cy="370.2" r="8.6" color="#a58bbc"/>
<circle class="b" cx="990.4" cy="364.6" r="8.6" color="#a28cbd"/>
<circle class="b" cx="1053.7" cy="394.8" r="8.6" color="#a38cbd"/>
<circle class="b" cx="1050.6" cy="364.8" r="8.6" color="#a48cbc"/>
<circle class="b" cx="1027.3" cy="362.2" r="8.6" color="#a18dbe"/>
<circle class="b" cx="945.4" cy="373.8" r="8.6" color="#a28cbd"/>
<circle class="b" cx="1037.1" cy="350.0" r="8.6" color="#a28cbd"/>
<circle class="b" cx="1036.1" cy="399.9" r="8.6" color="#a18dbe"/>
<circle class="b" cx="973.3" cy="417.9" r="8.6" color="#a48cbc"/>
<circle class="b" cx="987.8" cy="344.0" r="8.6" color="#a18dbe"/>
<circle class="b" cx="1045.3" cy="374.6" r="8.6" color="#a18dbe"/>
<circle class="b" cx="1023.1" cy="386.0" r="8.6" color="#a38cbd"/>
<circle class="b" cx="1001.0" cy="407.3" r="8.6" color="#a48bbc"/>
<circle class="b" cx="1044.7" cy="395.7" r="8.6" color="#a38cbd"/>
<circle class="b" cx="1011.8" cy="349.0" r="8.6" color="#a18dbe"/>
<circle class="b" cx="1047.0" cy="404.6" r="8.6" color="#a38cbd"/>
<circle class="b" cx="1034.0" cy="416.5" r="8.6" color="#a18dbe"/>
<circle class="b" cx="969.5" cy="348.1" r="8.6" color="#a38cbd"/>
<circle class="b" cx="1000.5" cy="351.7" r="8.6" color="#a18dbe"/>
<circle class="b" cx="981.7" cy="352.8" r="8.6" color="#a58bbc"/>
<circle class="b" cx="1009.6" cy="397.9" r="8.6" color="#a38cbd"/>
<circle class="b" cx="961.0" cy="370.8" r="8.6" color="#a38cbd"/>
<circle class="b" cx="950.0" cy="420.0" r="8.6" color="#a28dbe"/>
<circle class="b" cx="1052.9" cy="401.9" r="8.6" color="#a38cbd"/>
<circle class="b" cx="1029.6" cy="419.3" r="8.6" color="#a18dbe"/>
<circle class="b" cx="995.4" cy="409.5" r="8.6" color="#a18dbe"/>
<circle class="b" cx="946.0" cy="404.7" r="8.6" color="#a38cbd"/>
<circle class="b" cx="950.8" cy="354.7" r="8.6" color="#a48bbc"/>
<circle class="b" cx="1025.1" cy="412.7" r="8.6" color="#a28cbd"/>
<circle class="b" cx="1009.1" cy="411.0" r="8.6" color="#a18dbe"/>
<circle class="b" cx="1026.7" cy="377.9" r="8.6" color="#a18dbe"/>
<circle class="b" cx="994.8" cy="419.1" r="8.6" color="#a58bbc"/>
<circle class="b" cx="961.1" cy="345.4" r="8.6" color="#a58bbc"/>
<circle class="b" cx="960.6" cy="362.9" r="8.6" color="#a48cbc"/>
<circle class="b" cx="1038.7" cy="366.7" r="8.6" color="#a38cbd"/>
<circle class="b" cx="1038.7" cy="389.2" r="8.6" color="#a38cbd"/>
<circle class="b" cx="946.8" cy="391.6" r="8.6" color="#a28cbd"/>
<circle class="b" cx="973.1" cy="352.8" r="8.6" color="#a28dbe"/>
<circle class="b" cx="1048.7" cy="389.6" r="8.6" color="#a38cbd"/>
<circle class="b" cx="989.9" cy="388.6" r="8.6" color="#a18dbe"/>
<circle class="b" cx="962.5" cy="400.9" r="8.6" color="#a48cbc"/>
<circle class="b" cx="1010.5" cy="391.6" r="8.6" color="#a38cbd"/>
<circle class="b" cx="962.9" cy="352.7" r="8.6" color="#a38cbd"/>
<circle class="b" cx="1003.5" cy="365.2" r="8.6" color="#a48bbc"/>
<circle class="b" cx="999.2" cy="347.3" r="8.6" color="#a38cbd"/>
<circle class="b" cx="961.5" cy="385.1" r="8.6" color="#a48cbc"/>
<circle class="b" cx="978.1" cy="379.8" r="8.6" color="#a38cbd"/>
<circle class="b" cx="1058.0" cy="386.6" r="8.6" color="#a38cbd"/>
<circle class="b" cx="1007.8" cy="372.1" r="8.6" color="#a58bbc"/>
<circle class="b" cx="1010.8" cy="423.9" r="8.6" color="#a48cbc"/>
<circle class="b" cx="1020.9" cy="400.9" r="8.6" color="#a48cbd"/>
<circle class="b" cx="1019.9" cy="394.0" r="8.6" color="#a48cbd"/>
<circle class="b" cx="1004.9" cy="348.3" r="8.6" color="#a38cbd"/>
<circle class="b" cx="1000.6" cy="354.2" r="8.6" color="#a28dbe"/>
<circle class="b" cx="959.3" cy="384.6" r="8.6" color="#a48bbc"/>
<circle class="b" cx="1058.0" cy="365.2" r="8.6" color="#a18dbe"/>
<circle class="b" cx="990.2" cy="377.7" r="8.6" color="#a48bbc"/>
<circle class="b" cx="1050.1" cy="381.9" r="8.6" color="#a28dbe"/>
<circle class="b" cx="983.7" cy="386.8" r="8.6" color="#a28dbe"/>
<circle class="b" cx="1051.9" cy="382.6" r="8.6" color="#a38cbd"/>
<circle class="b" cx="976.4" cy="393.0" r="8.6" color="#a28cbe"/>
<circle class="b" cx="998.2" cy="360.2" r="8.6" color="#a28dbe"/>
<circle class="b" cx="1032.9" cy="365.0" r="8.6" color="#a48cbd"/>
<circle class="b" cx="1001.6" cy="389.1" r="8.6" color="#a28cbe"/>
<circle class="b" cx="1002.5" cy="420.6" r="8.6" color="#a38cbd"/>
<circle class="b" cx="974.9" cy="343.3" r="8.6" color="#a58bbc"/>
<circle class="b" cx="953.2" cy="346.5" r="8.6" color="#a38cbd"/>
<circle class="b" cx="1030.9" cy="411.2" r="8.6" color="#a48cbc"/>
<circle class="b" cx="990.4" cy="380.9" r="8.6" color="#a18dbe"/>
<circle class="b" cx="953.6" cy="360.3" r="8.6" color="#a48cbc"/>
<circle class="b" cx="973.3" cy="361.2" r="8.6" color="#a18dbe"/>
<circle class="b" cx="1027.5" cy="390.3" r="8.6" color="#a28dbe"/>
<circle class="b" cx="993.2" cy="383.4" r="8.6" color="#a48cbd"/>
<circle class="b" cx="1008.1" cy="357.4" r="8.6" color="#a18dbe"/>
<circle class="b" cx="1022.3" cy="423.1" r="8.6" color="#a48cbc"/>
<circle class="b" cx="1048.0" cy="400.4" r="8.6" color="#a18dbe"/>
<circle class="b" cx="1005.6" cy="356.2" r="8.6" color="#a48bbc"/>
<circle class="b" cx="1042.7" cy="412.4" r="8.6" color="#a28dbe"/>
<circle class="b" cx="996.7" cy="374.0" r="8.6" color="#a48bbc"/>
<circle class="b" cx="1045.0" cy="385.1" r="8.6" color="#a48cbc"/>
<circle class="b" cx="1037.9" cy="384.3" r="8.6" color="#a48cbc"/>
<circle class="b" cx="997.9" cy="398.1" r="8.6" color="#a28dbe"/>
<circle class="b" cx="997.2" cy="349.0" r="8.6" color="#a58bbc"/>
<circle class="b" cx="985.7" cy="402.9" r="8.6" color="#a28dbe"/>
<circle class="b" cx="1048.4" cy="410.8" r="8.6" color="#a48cbc"/>
<circle class="b" cx="950.1" cy="403.5" r="8.6" color="#a18dbe"/>
<circle class="b" cx="974.4" cy="383.6" r="8.6" color="#a58bbc"/>
<circle class="b" cx="946.6" cy="360.5" r="8.6" color="#a38cbd"/>
<circle class="b" cx="1003.8" cy="394.1" r="8.6" color="#a48cbc"/>
<circle class="b" cx="996.3" cy="414.8" r="8.6" color="#a48bbc"/>
<circle class="b" cx="945.0" cy="395.3" r="8.6" color="#a38cbd"/>
<circle class="b" cx="970.9" cy="392.0" r="8.6" color="#a38cbd"/>
<circle class="b" cx="986.0" cy="367.4" r="8.6" color="#a48cbd"/>
<circle class="b" cx="1028.3" cy="401.3" r="8.6" color="#a38cbd"/>
<circle class="b" cx="990.2" cy="410.6" r="8.6" color="#a28cbe"/>
<circle class="b" cx="947.9" cy="367.0" r="8.6" color="#a58bbc"/>
<circle class="b" cx="1051.1" cy="399.0" r="8.6" color="#a18dbe"/>
<circle class="b" cx="982.3" cy="419.8" r="8.6" color="#a48cbd"/>
<circle class="b" cx="1030.0" cy="358.1" r="8.6" color="#a38cbd"/>
<circle class="b" cx="1026.8" cy="354.8" r="8.6" color="#a48cbc"/>
<circle class="b" cx="979.7" cy="390.1" r="8.6" color="#a48cbc"/>
<circle class="b" cx="955.8" cy="367.1" r="8.6" color="#a28dbe"/>
<circle class="b" cx="945.0" cy="415.9" r="8.6" color="#a28cbd"/>
<circle class="b" cx="998.0" cy="393.4" r="8.6" color="#a38cbd"/>
<circle class="b" cx="1015.1" cy="354.2" r="8.6" color="#a18dbe"/>
<circle class="b" cx="1027.3" cy="375.7" r="8.6" color="#a48cbc"/>
<circle class="b" cx="1041.8" cy="369.4" r="8.6" color="#a48bbc"/>
<circle class="b" cx="970.8" cy="402.4" r="8.6" color="#a28cbd"/>
<circle class="b" cx="996.1" cy="353.8" r="8.6" color="#a28cbd"/>
<circle class="b" cx="999.5" cy="370.1" r="8.6" color="#a28dbe"/>
<circle class="b" cx="1056.3" cy="396.2" r="8.6" color="#a38cbd"/>
<circle class="b" cx="992.3" cy="371.1" r="8.6" color="#a18dbe"/>
<circle class="b" cx="949.6" cy="377.6" r="8.6" color="#a38cbd"/>
<circle class="b" cx="1137.0" cy="388.0" r="8.6" color="#db6591"/>
<circle class="b" cx="1141.0" cy="395.0" r="8.6" color="#db6591"/>
<circle class="b" cx="1158.0" cy="392.0" r="8.6" color="#db6591"/>
<circle class="c" cx="1162.0" cy="399.0" r="8.6" color="#e45b89"/>
<circle class="c" cx="1174.2" cy="378.2" r="8.6" color="#de628e"/>
<circle class="b" cx="1286.5" cy="364.3" r="8.6" color="#dd638f"/>
<circle class="d" cx="1239.2" cy="371.1" r="8.6" color="#fe216c"/>
<circle class="d" cx="1200.6" cy="353.7" r="8.6" color="#ff1e6b"/>
<circle class="c" cx="1286.5" cy="378.6" r="8.6" color="#de628e"/>
<circle class="c" cx="1176.3" cy="385.0" r="8.6" color="#df618e"/>
<circle class="b" cx="1200.1" cy="402.0" r="8.6" color="#dd628f"/>
<circle class="c" cx="1199.4" cy="406.4" r="8.6" color="#de618e"/>
<circle class="c" cx="1165.0" cy="370.7" r="8.6" color="#df618e"/>
<circle class="c" cx="1257.4" cy="388.7" r="8.6" color="#df618e"/>
<circle class="c" cx="1259.9" cy="406.0" r="8.6" color="#de628e"/>
<circle class="d" cx="1238.6" cy="385.2" r="8.6" color="#ff206b"/>
<circle class="b" cx="1280.3" cy="410.3" r="8.6" color="#dd628f"/>
<circle class="c" cx="1177.7" cy="357.2" r="8.6" color="#de618e"/>
<circle class="c" cx="1206.3" cy="379.6" r="8.6" color="#de618e"/>
<circle class="b" cx="1267.5" cy="371.4" r="8.6" color="#dd638f"/>
<circle class="c" cx="1271.1" cy="397.9" r="8.6" color="#de618e"/>
<circle class="b" cx="1216.1" cy="402.2" r="8.6" color="#dc6490"/>
<circle class="b" cx="1246.3" cy="394.8" r="8.6" color="#dd638f"/>
<circle class="d" cx="1233.5" cy="411.9" r="8.6" color="#ff1e6b"/>
<circle class="c" cx="1201.8" cy="368.6" r="8.6" color="#de628e"/>
<circle class="c" cx="1260.3" cy="379.4" r="8.6" color="#de618e"/>
<circle class="b" cx="1234.0" cy="389.3" r="8.6" color="#dd6390"/>
<circle class="c" cx="1278.7" cy="377.1" r="8.6" color="#dd628f"/>
<circle class="c" cx="1267.7" cy="415.9" r="8.6" color="#de628e"/>
<circle class="d" cx="1184.3" cy="365.5" r="8.6" color="#ff1f6b"/>
<circle class="c" cx="1165.6" cy="399.0" r="8.6" color="#de618e"/>
<circle class="d" cx="1196.4" cy="367.6" r="8.6" color="#fe216c"/>
<circle class="b" cx="1272.0" cy="390.0" r="8.6" color="#dd638f"/>
<circle class="d" cx="1190.4" cy="384.3" r="8.6" color="#ff1f6b"/>
<circle class="d" cx="1271.7" cy="355.8" r="8.6" color="#ff1e6b"/>
<circle class="d" cx="1270.2" cy="348.7" r="8.6" color="#ff1f6b"/>
<circle class="d" cx="1207.6" cy="409.6" r="8.6" color="#ff1e6b"/>
<circle class="d" cx="1175.6" cy="366.8" r="8.6" color="#ff1e6b"/>
<circle class="c" cx="1213.7" cy="391.9" r="8.6" color="#de628e"/>
<circle class="b" cx="1241.8" cy="353.3" r="8.6" color="#dd638f"/>
<circle class="c" cx="1298.0" cy="387.7" r="8.6" color="#dd628f"/>
<circle class="d" cx="1291.2" cy="373.3" r="8.6" color="#ff1e6b"/>
<circle class="b" cx="1248.9" cy="356.5" r="8.6" color="#dd638f"/>
<circle class="c" cx="1174.0" cy="398.6" r="8.6" color="#df618e"/>
<circle class="c" cx="1168.6" cy="364.2" r="8.6" color="#dd628f"/>
<circle class="d" cx="1167.8" cy="383.0" r="8.6" color="#ff1e6b"/>
<circle class="d" cx="1204.1" cy="371.1" r="8.6" color="#ff1e6b"/>
<circle class="b" cx="1170.3" cy="378.3" r="8.6" color="#dd638f"/>
<circle class="b" cx="1244.2" cy="364.6" r="8.6" color="#dd638f"/>
<circle class="c" cx="1180.0" cy="370.3" r="8.6" color="#de628f"/>
<circle class="d" cx="1206.7" cy="351.0" r="8.6" color="#ff1e6b"/>
<circle class="b" cx="1175.8" cy="399.1" r="8.6" color="#dd638f"/>
<circle class="d" cx="1194.4" cy="400.7" r="8.6" color="#ff1e6b"/>
<circle class="c" cx="1208.2" cy="356.5" r="8.6" color="#de628f"/>
<circle class="c" cx="1279.5" cy="360.5" r="8.6" color="#de628e"/>
<circle class="b" cx="1258.3" cy="397.8" r="8.6" color="#dc6390"/>
<circle class="b" cx="1172.2" cy="362.1" r="8.6" color="#dd638f"/>
<circle class="c" cx="1271.1" cy="363.8" r="8.6" color="#de628f"/>
<circle class="d" cx="1297.2" cy="366.1" r="8.6" color="#ff1e6b"/>
<circle class="d" cx="1270.2" cy="411.6" r="8.6" color="#ff1e6b"/>
<circle class="b" cx="1270.9" cy="374.2" r="8.6" color="#dd6390"/>
<circle class="d" cx="1271.9" cy="369.3" r="8.6" color="#fe216c"/>
<circle class="c" cx="1167.9" cy="372.6" r="8.6" color="#de628e"/>
<circle class="c" cx="1243.4" cy="355.7" r="8.6" color="#df618e"/>
<circle class="c" cx="1200.4" cy="374.7" r="8.6" color="#df618d"/>
<circle class="c" cx="1276.8" cy="384.3" r="8.6" color="#de628f"/>
<circle class="c" cx="1210.2" cy="400.2" r="8.6" color="#de628e"/>
<circle class="c" cx="1253.1" cy="368.6" r="8.6" color="#de628e"/>
<circle class="d" cx="1298.0" cy="391.3" r="8.6" color="#ff1f6b"/>
<circle class="c" cx="1289.1" cy="371.2" r="8.6" color="#de628e"/>
<circle class="b" cx="1292.9" cy="388.3" r="8.6" color="#dd638f"/>
<circle class="d" cx="1279.9" cy="368.1" r="8.6" color="#fe216c"/>
<circle class="c" cx="1298.0" cy="404.8" r="8.6" color="#de628f"/>
<circle class="d" cx="1166.0" cy="367.3" r="8.6" color="#ff1e6b"/>
<circle class="d" cx="1184.8" cy="371.4" r="8.6" color="#ff1e6b"/>
<circle class="b" cx="1205.9" cy="393.0" r="8.6" color="#dd638f"/>
<circle class="c" cx="1185.0" cy="396.6" r="8.6" color="#dd628f"/>
<circle class="d" cx="1273.6" cy="354.3" r="8.6" color="#ff1e6b"/>
<circle class="d" cx="1235.5" cy="397.3" r="8.6" color="#ff1e6b"/>
<circle class="c" cx="1216.5" cy="349.9" r="8.6" color="#de628e"/>
<circle class="c" cx="1237.9" cy="361.4" r="8.6" color="#df618e"/>
<circle class="d" cx="1272.6" cy="387.5" r="8.6" color="#fe216c"/>
<circle class="d" cx="1280.3" cy="373.7" r="8.6" color="#ff1e6b"/>
<circle class="c" cx="1254.0" cy="353.3" r="8.6" color="#de628e"/>
<circle class="c" cx="1253.5" cy="409.9" r="8.6" color="#de628e"/>
<circle class="c" cx="1275.8" cy="360.5" r="8.6" color="#de628e"/>
<circle class="d" cx="1239.4" cy="392.2" r="8.6" color="#ff1e6b"/>
<circle class="b" cx="1202.1" cy="412.4" r="8.6" color="#dd638f"/>
<circle class="d" cx="1240.8" cy="390.0" r="8.6" color="#ff1e6b"/>
<circle class="c" cx="1173.9" cy="381.6" r="8.6" color="#de628f"/>
<circle class="c" cx="1298.0" cy="393.1" r="8.6" color="#de628e"/>
<circle class="b" cx="1169.0" cy="375.5" r="8.6" color="#dd638f"/>
<circle class="b" cx="1213.0" cy="355.8" r="8.6" color="#dd638f"/>
<circle class="c" cx="1289.5" cy="403.1" r="8.6" color="#df618e"/>
<circle class="c" cx="1198.8" cy="395.1" r="8.6" color="#de628e"/>
<circle class="d" cx="1265.6" cy="395.4" r="8.6" color="#ff1f6b"/>
<circle class="c" cx="1198.7" cy="384.9" r="8.6" color="#de628e"/>
<circle class="c" cx="1267.1" cy="362.5" r="8.6" color="#de628e"/>
<circle class="d" cx="1205.1" cy="403.2" r="8.6" color="#ff1e6b"/>
<circle class="c" cx="1258.4" cy="401.9" r="8.6" color="#df618e"/>
<circle class="b" cx="1257.3" cy="366.8" r="8.6" color="#dd6390"/>
<circle class="b" cx="1270.2" cy="403.4" r="8.6" color="#dd638f"/>
<circle class="c" cx="1233.5" cy="404.4" r="8.6" color="#de628e"/>
<circle class="c" cx="1268.7" cy="358.3" r="8.6" color="#de628f"/>
<circle class="b" cx="1355.1" cy="392.9" r="8.6" color="#dd6390"/>
<circle class="b" cx="1306.5" cy="389.8" r="8.6" color="#dc6490"/>
<circle class="d" cx="1323.3" cy="373.2" r="8.6" color="#fe226c"/>
<circle class="d" cx="1337.6" cy="367.2" r="8.6" color="#ff206b"/>
<circle class="c" cx="1407.8" cy="384.3" r="8.6" color="#de628f"/>
<circle class="c" cx="1378.1" cy="383.8" r="8.6" color="#de628e"/>
<circle class="c" cx="1421.4" cy="371.8" r="8.6" color="#df618e"/>
<circle class="b" cx="1339.7" cy="381.0" r="8.6" color="#dd6390"/>
<circle class="d" cx="1349.9" cy="382.9" r="8.6" color="#ff1e6b"/>
<circle class="c" cx="1310.5" cy="378.4" r="8.6" color="#de628e"/>
<circle class="c" cx="1343.3" cy="396.4" r="8.6" color="#de628f"/>
<circle class="c" cx="1311.8" cy="366.3" r="8.6" color="#de628f"/>
<circle class="c" cx="1374.1" cy="398.8" r="8.6" color="#de618e"/>
<circle class="c" cx="1353.2" cy="365.5" r="8.6" color="#de628e"/>
<circle class="c" cx="1343.6" cy="382.7" r="8.6" color="#df618e"/>
<circle class="c" cx="1404.0" cy="391.2" r="8.6" color="#df618e"/>
<circle class="d" cx="1302.0" cy="373.4" r="8.6" color="#ff1f6b"/>
<circle class="c" cx="1346.0" cy="388.3" r="8.6" color="#df618d"/>
<circle class="c" cx="1386.9" cy="374.4" r="8.6" color="#de628f"/>
<circle class="d" cx="1330.0" cy="361.8" r="8.6" color="#ff1e6b"/>
<circle class="c" cx="1364.1" cy="400.8" r="8.6" color="#de628e"/>
<circle class="b" cx="1323.9" cy="391.9" r="8.6" color="#dd638f"/>
<circle class="c" cx="1390.2" cy="396.9" r="8.6" color="#de628e"/>
<circle class="d" cx="1320.7" cy="400.5" r="8.6" color="#ff1e6b"/>
<circle class="d" cx="1325.4" cy="388.1" r="8.6" color="#ff1e6b"/>
<circle class="b" cx="1312.2" cy="398.1" r="8.6" color="#dd638f"/>
<circle class="d" cx="1402.3" cy="382.9" r="8.6" color="#fe226c"/>
<circle class="d" cx="1365.7" cy="381.1" r="8.6" color="#ff1e6b"/>
<circle class="b" cx="1330.6" cy="401.6" r="8.6" color="#dd638f"/>
<circle class="d" cx="1345.1" cy="373.5" r="8.6" color="#ff1e6b"/>
<circle class="c" cx="1359.0" cy="399.2" r="8.6" color="#de628f"/>
<circle class="c" cx="1361.2" cy="377.2" r="8.6" color="#df618e"/>
<circle class="c" cx="1413.0" cy="371.0" r="8.6" color="#f53f77"/>
<circle class="b" cx="1430.0" cy="378.0" r="8.6" color="#db6591"/>
</g>
<g>
<circle class="d" cx="663.0" cy="484.0" r="8.6" color="#3da6e4"/>
<circle class="d" cx="668.0" cy="479.0" r="8.6" color="#35a6e5"/>
<circle class="d" cx="671.0" cy="489.0" r="8.6" color="#44a5e3"/>
<circle class="d" cx="676.0" cy="484.0" r="8.6" color="#3da6e4"/>
<circle class="d" cx="681.0" cy="491.0" r="8.6" color="#35a6e5"/>
<circle class="d" cx="686.0" cy="486.0" r="8.6" color="#4aa4e1"/>
<circle class="d" cx="692.0" cy="482.0" r="8.6" color="#3da6e4"/>
<circle class="d" cx="697.0" cy="493.0" r="8.6" color="#35a6e5"/>
<circle class="c" cx="969.2" cy="483.9" r="8.6" color="#8896cc"/>
<circle class="b" cx="1104.9" cy="511.7" r="8.6" color="#a38cbd"/>
<circle class="b" cx="1119.2" cy="486.6" r="8.6" color="#ac88b7"/>
<circle class="c" cx="1374.1" cy="481.5" r="8.6" color="#e45b88"/>
<circle class="b" cx="856.8" cy="485.5" r="8.6" color="#d86894"/>
<circle class="c" cx="996.1" cy="521.2" r="8.6" color="#8b95ca"/>
<circle class="c" cx="1456.5" cy="483.8" r="8.6" color="#eb5081"/>
<circle class="c" cx="870.4" cy="518.2" r="8.6" color="#8099cf"/>
<circle class="d" cx="927.5" cy="475.5" r="8.6" color="#25a8e7"/>
<circle class="d" cx="760.2" cy="472.5" r="8.6" color="#4ca4e1"/>
<circle class="b" cx="934.3" cy="523.3" r="8.6" color="#d16f9a"/>
<circle class="b" cx="1239.7" cy="481.3" r="8.6" color="#af86b5"/>
<circle class="c" cx="1487.0" cy="496.8" r="8.6" color="#e85584"/>
<circle class="c" cx="909.1" cy="473.2" r="8.6" color="#8996cb"/>
<circle class="c" cx="1218.8" cy="485.2" r="8.6" color="#e15e8b"/>
<circle class="c" cx="1500.9" cy="497.1" r="8.6" color="#f34379"/>
<circle class="c" cx="1140.3" cy="499.0" r="8.6" color="#e05f8c"/>
<circle class="c" cx="1283.6" cy="500.0" r="8.6" color="#e35c89"/>
<circle class="c" cx="952.3" cy="493.9" r="8.6" color="#7f99d0"/>
<circle class="b" cx="911.7" cy="508.1" r="8.6" color="#cf719c"/>
<circle class="b" cx="982.3" cy="466.5" r="8.6" color="#d66a96"/>
<circle class="c" cx="1348.3" cy="480.6" r="8.6" color="#e15e8b"/>
<circle class="c" cx="1256.2" cy="491.9" r="8.6" color="#e15e8b"/>
<circle class="c" cx="975.5" cy="498.1" r="8.6" color="#8199cf"/>
<circle class="d" cx="790.1" cy="502.5" r="8.6" color="#3fa5e4"/>
<circle class="c" cx="904.6" cy="523.3" r="8.6" color="#8597cd"/>
<circle class="b" cx="1062.6" cy="513.3" r="8.6" color="#a78aba"/>
<circle class="d" cx="758.0" cy="480.8" r="8.6" color="#21a8e8"/>
<circle class="c" cx="1313.0" cy="497.4" r="8.6" color="#e35b89"/>
<circle class="d" cx="899.5" cy="514.0" r="8.6" color="#51a3e0"/>
<circle class="b" cx="918.7" cy="467.4" r="8.6" color="#d36d99"/>
<circle class="b" cx="842.3" cy="473.6" r="8.6" color="#ce719d"/>
<circle class="c" cx="861.2" cy="511.7" r="8.6" color="#7d9ad1"/>
<circle class="b" cx="1112.7" cy="502.0" r="8.6" color="#a08dbf"/>
<circle class="b" cx="1203.2" cy="508.1" r="8.6" color="#a989b9"/>
<circle class="c" cx="1403.7" cy="492.4" r="8.6" color="#e85584"/>
<circle class="c" cx="966.9" cy="462.1" r="8.6" color="#7e9ad1"/>
<circle class="c" cx="1342.4" cy="499.2" r="8.6" color="#e65886"/>
<circle class="b" cx="916.0" cy="456.0" r="8.6" color="#d46c97"/>
<circle class="d" cx="875.0" cy="479.5" r="8.6" color="#3ba6e4"/>
<circle class="c" cx="1375.8" cy="505.8" r="8.6" color="#ea5282"/>
<circle class="b" cx="1075.7" cy="473.5" r="8.6" color="#a889b9"/>
<circle class="b" cx="943.4" cy="506.3" r="8.6" color="#d66a96"/>
<circle class="c" cx="873.9" cy="507.6" r="8.6" color="#7a9bd2"/>
<circle class="c" cx="1307.8" cy="476.4" r="8.6" color="#e15e8b"/>
<circle class="b" cx="856.4" cy="462.2" r="8.6" color="#d66a96"/>
<circle class="c" cx="1182.9" cy="491.4" r="8.6" color="#de618e"/>
<circle class="b" cx="958.5" cy="502.9" r="8.6" color="#d26e9a"/>
<circle class="c" cx="1421.4" cy="496.8" r="8.6" color="#e45b89"/>
<circle class="c" cx="1256.8" cy="473.0" r="8.6" color="#e15f8c"/>
<circle class="b" cx="1136.2" cy="481.8" r="8.6" color="#db6591"/>
<circle class="c" cx="980.0" cy="508.2" r="8.6" color="#7e99d0"/>
<circle class="c" cx="878.3" cy="462.4" r="8.6" color="#8099d0"/>
<circle class="c" cx="856.5" cy="527.6" r="8.6" color="#8e95c9"/>
<circle class="c" cx="941.6" cy="453.5" r="8.6" color="#7e9ad0"/>
<circle class="c" cx="849.2" cy="462.1" r="8.6" color="#8797cc"/>
<circle class="b" cx="900.2" cy="495.5" r="8.6" color="#d66a96"/>
<circle class="b" cx="1007.7" cy="502.5" r="8.6" color="#9d8fc0"/>
<circle class="c" cx="1273.9" cy="473.7" r="8.6" color="#e25d8a"/>
<circle class="b" cx="983.5" cy="527.9" r="8.6" color="#d66a95"/>
<circle class="d" cx="743.9" cy="498.4" r="8.6" color="#3ba6e4"/>
<circle class="b" cx="1020.1" cy="471.8" r="8.6" color="#a989b9"/>
<circle class="c" cx="1308.5" cy="485.5" r="8.6" color="#e45a88"/>
<circle class="d" cx="771.1" cy="477.6" r="8.6" color="#28a7e7"/>
<circle class="c" cx="978.3" cy="511.5" r="8.6" color="#8897cc"/>
<circle class="b" cx="1201.9" cy="489.8" r="8.6" color="#dd638f"/>
<circle class="d" cx="852.3" cy="499.8" r="8.6" color="#3fa5e4"/>
<circle class="d" cx="884.3" cy="531.0" r="8.6" color="#4da4e1"/>
<circle class="b" cx="1168.3" cy="489.7" r="8.6" color="#d76995"/>
<circle class="d" cx="770.0" cy="489.4" r="8.6" color="#46a5e2"/>
<circle class="d" cx="883.6" cy="506.0" r="8.6" color="#2da7e6"/>
<circle class="c" cx="830.8" cy="486.5" r="8.6" color="#8797cc"/>
<circle class="b" cx="1008.9" cy="495.0" r="8.6" color="#db6591"/>
<circle class="c" cx="886.1" cy="456.2" r="8.6" color="#8298cf"/>
<circle class="b" cx="1082.6" cy="512.6" r="8.6" color="#a989b9"/>
<circle class="b" cx="1105.6" cy="475.0" r="8.6" color="#a889ba"/>
<circle class="b" cx="1178.6" cy="479.1" r="8.6" color="#a28dbe"/>
<circle class="c" cx="979.1" cy="478.5" r="8.6" color="#8996cb"/>
<circle class="c" cx="896.1" cy="474.8" r="8.6" color="#8e94c9"/>
<circle class="c" cx="911.5" cy="453.4" r="8.6" color="#7e9ad1"/>
<circle class="b" cx="1185.9" cy="481.9" r="8.6" color="#a28cbe"/>
<circle class="d" cx="722.1" cy="496.3" r="8.6" color="#3da6e4"/>
<circle class="c" cx="951.0" cy="531.6" r="8.6" color="#8b95ca"/>
<circle class="c" cx="1470.7" cy="483.1" r="8.6" color="#ea5182"/>
<circle class="b" cx="1056.8" cy="511.7" r="8.6" color="#a38cbd"/>
<circle class="b" cx="972.8" cy="458.3" r="8.6" color="#d86894"/>
<circle class="c" cx="1003.3" cy="510.8" r="8.6" color="#9d8fc1"/>
<circle class="c" cx="1448.2" cy="497.2" r="8.6" color="#e85685"/>
<circle class="c" cx="792.4" cy="492.2" r="8.6" color="#7f99d0"/>
<circle class="d" cx="726.2" cy="485.5" r="8.6" color="#4ba4e1"/>
<circle class="b" cx="1081.1" cy="490.9" r="8.6" color="#a78aba"/>
<circle class="c" cx="958.3" cy="514.7" r="8.6" color="#8e95c9"/>
<circle class="b" cx="1010.3" cy="474.5" r="8.6" color="#d36d98"/>
<circle class="d" cx="842.2" cy="456.5" r="8.6" color="#47a5e2"/>
<circle class="b" cx="1077.1" cy="501.7" r="8.6" color="#ac88b7"/>
<circle class="c" cx="861.4" cy="454.0" r="8.6" color="#7a9bd2"/>
<circle class="c" cx="1254.6" cy="480.5" r="8.6" color="#e05f8c"/>
<circle class="c" cx="1093.1" cy="513.9" r="8.6" color="#9b8fc2"/>
<circle class="c" cx="929.3" cy="512.9" r="8.6" color="#8b95ca"/>
<circle class="b" cx="927.5" cy="504.6" r="8.6" color="#d26d99"/>
<circle class="b" cx="1106.8" cy="486.9" r="8.6" color="#a68bbb"/>
<circle class="b" cx="1185.5" cy="502.0" r="8.6" color="#a68bbb"/>
<circle class="c" cx="912.7" cy="467.7" r="8.6" color="#7b9ad2"/>
<circle class="b" cx="944.5" cy="520.0" r="8.6" color="#d86894"/>
<circle class="b" cx="1249.3" cy="508.8" r="8.6" color="#a18dbe"/>
<circle class="c" cx="972.3" cy="474.4" r="8.6" color="#8b95ca"/>
<circle class="c" cx="833.5" cy="514.8" r="8.6" color="#7d9ad1"/>
<circle class="c" cx="1462.6" cy="498.2" r="8.6" color="#ee4c7e"/>
<circle class="b" cx="1086.6" cy="483.2" r="8.6" color="#ac88b7"/>
<circle class="d" cx="887.8" cy="484.4" r="8.6" color="#57a2de"/>
<circle class="c" cx="989.2" cy="500.0" r="8.6" color="#8498ce"/>
<circle class="b" cx="883.3" cy="453.7" r="8.6" color="#d36d98"/>
<circle class="b" cx="878.5" cy="489.0" r="8.6" color="#d56b97"/>
<circle class="c" cx="962.1" cy="483.1" r="8.6" color="#8099d0"/>
<circle class="c" cx="835.5" cy="490.7" r="8.6" color="#7f99d0"/>
<circle class="c" cx="836.8" cy="458.4" r="8.6" color="#8298cf"/>
<circle class="b" cx="1217.6" cy="508.1" r="8.6" color="#a38cbd"/>
<circle class="c" cx="972.6" cy="515.3" r="8.6" color="#8b96cb"/>
<circle class="c" cx="1330.9" cy="488.5" r="8.6" color="#e35c89"/>
<circle class="b" cx="1047.8" cy="494.2" r="8.6" color="#aa89b9"/>
<circle class="b" cx="1054.0" cy="492.1" r="8.6" color="#ac88b7"/>
<circle class="c" cx="872.9" cy="528.5" r="8.6" color="#8597cd"/>
<circle class="c" cx="1320.3" cy="506.3" r="8.6" color="#e85484"/>
<circle class="b" cx="1240.7" cy="472.9" r="8.6" color="#ae87b6"/>
<circle class="c" cx="1285.8" cy="487.7" r="8.6" color="#e0608d"/>
<circle class="b" cx="1042.7" cy="514.3" r="8.6" color="#a08dbe"/>
<circle class="b" cx="914.2" cy="492.8" r="8.6" color="#d26e9a"/>
<circle class="d" cx="870.4" cy="469.2" r="8.6" color="#4aa4e1"/>
<circle class="c" cx="1383.8" cy="486.1" r="8.6" color="#e85584"/>
<circle class="b" cx="931.0" cy="458.3" r="8.6" color="#d26e99"/>
<circle class="b" cx="1208.8" cy="493.8" r="8.6" color="#a18dbe"/>
<circle class="c" cx="1435.9" cy="498.0" r="8.6" color="#ed4e7f"/>
<circle class="b" cx="1217.7" cy="491.2" r="8.6" color="#a08dbf"/>
<circle class="c" cx="807.2" cy="473.3" r="8.6" color="#7c9ad1"/>
<circle class="c" cx="949.3" cy="467.1" r="8.6" color="#8b96cb"/>
<circle class="c" cx="1370.8" cy="503.8" r="8.6" color="#e65886"/>
<circle class="b" cx="1031.4" cy="479.9" r="8.6" color="#a78aba"/>
<circle class="b" cx="1030.4" cy="494.4" r="8.6" color="#d36d99"/>
<circle class="c" cx="919.7" cy="485.5" r="8.6" color="#7c9ad1"/>
<circle class="c" cx="931.2" cy="485.9" r="8.6" color="#8199cf"/>
<circle class="c" cx="892.1" cy="498.7" r="8.6" color="#8199cf"/>
<circle class="c" cx="1361.9" cy="498.0" r="8.6" color="#e45b89"/>
<circle class="d" cx="674.5" cy="489.7" r="8.6" color="#2ea7e6"/>
<circle class="b" cx="1070.5" cy="494.8" r="8.6" color="#a88aba"/>
<circle class="d" cx="797.4" cy="507.2" r="8.6" color="#44a5e3"/>
<circle class="c" cx="817.5" cy="499.5" r="8.6" color="#8b95ca"/>
<circle class="c" cx="992.4" cy="488.3" r="8.6" color="#7a9bd2"/>
<circle class="b" cx="1096.2" cy="506.5" r="8.6" color="#aa88b8"/>
<circle class="b" cx="1095.3" cy="470.0" r="8.6" color="#a58bbc"/>
<circle class="b" cx="940.7" cy="480.4" r="8.6" color="#d36d99"/>
<circle class="c" cx="954.0" cy="462.1" r="8.6" color="#8a96cb"/>
<circle class="c" cx="893.8" cy="530.8" r="8.6" color="#8498ce"/>
<circle class="b" cx="1041.6" cy="516.4" r="8.6" color="#a58bbb"/>
<circle class="c" cx="1318.4" cy="507.5" r="8.6" color="#e35c8a"/>
<circle class="c" cx="816.3" cy="479.2" r="8.6" color="#8d95c9"/>
<circle class="d" cx="995.2" cy="468.6" r="8.6" color="#52a3df"/>
<circle class="c" cx="1411.3" cy="480.0" r="8.6" color="#e45a88"/>
<circle class="b" cx="1167.3" cy="483.6" r="8.6" color="#a68bbb"/>
<circle class="c" cx="965.5" cy="474.9" r="8.6" color="#8498ce"/>
<circle class="c" cx="1266.1" cy="480.0" r="8.6" color="#e55a88"/>
<circle class="d" cx="738.2" cy="477.4" r="8.6" color="#3ca6e4"/>
<circle class="b" cx="869.5" cy="452.7" r="8.6" color="#d66a95"/>
<circle class="c" cx="862.1" cy="519.6" r="8.6" color="#8597cd"/>
<circle class="b" cx="893.0" cy="491.1" r="8.6" color="#d76995"/>
<circle class="b" cx="920.0" cy="509.1" r="8.6" color="#d56b96"/>
<circle class="b" cx="1097.7" cy="495.1" r="8.6" color="#db6591"/>
<circle class="b" cx="1245.6" cy="473.4" r="8.6" color="#a28dbe"/>
<circle class="b" cx="1133.9" cy="511.2" r="8.6" color="#b086b4"/>
<circle class="c" cx="1369.0" cy="490.3" r="8.6" color="#e55a88"/>
<circle class="c" cx="946.1" cy="497.0" r="8.6" color="#8996cc"/>
<circle class="b" cx="870.4" cy="515.9" r="8.6" color="#d46c98"/>
<circle class="c" cx="1053.0" cy="474.7" r="8.6" color="#9c8fc1"/>
<circle class="b" cx="1196.6" cy="477.7" r="8.6" color="#d76995"/>
<circle class="b" cx="922.5" cy="531.1" r="8.6" color="#d36d98"/>
<circle class="c" cx="1296.9" cy="480.9" r="8.6" color="#e25d8a"/>
<circle class="c" cx="1325.6" cy="480.7" r="8.6" color="#e15f8c"/>
<circle class="b" cx="931.9" cy="532.6" r="8.6" color="#d76995"/>
<circle class="b" cx="1009.2" cy="480.5" r="8.6" color="#a38cbd"/>
<circle class="c" cx="871.2" cy="498.9" r="8.6" color="#799bd3"/>
<circle class="d" cx="716.8" cy="492.1" r="8.6" color="#41a5e3"/>
<circle class="c" cx="1425.8" cy="481.4" r="8.6" color="#e85584"/>
<circle class="b" cx="778.3" cy="495.3" r="8.6" color="#d56b97"/>
<circle class="b" cx="1123.6" cy="475.0" r="8.6" color="#9e8ec0"/>
<circle class="b" cx="1031.3" cy="514.9" r="8.6" color="#a68abb"/>
<circle class="c" cx="849.8" cy="492.0" r="8.6" color="#7a9bd2"/>
<circle class="c" cx="801.9" cy="468.4" r="8.6" color="#7e9ad1"/>
<circle class="b" cx="1020.8" cy="493.4" r="8.6" color="#a989b9"/>
<circle class="c" cx="1158.1" cy="511.7" r="8.6" color="#9d8fc1"/>
<circle class="c" cx="1367.6" cy="480.1" r="8.6" color="#e85685"/>
<circle class="c" cx="1342.7" cy="476.0" r="8.6" color="#eb5182"/>
<circle class="b" cx="1018.2" cy="513.9" r="8.6" color="#a989b9"/>
<circle class="c" cx="1467.6" cy="500.6" r="8.6" color="#ed4d7f"/>
<circle class="c" cx="834.1" cy="497.0" r="8.6" color="#8298cf"/>
<circle class="d" cx="910.5" cy="483.0" r="8.6" color="#58a2de"/>
<circle class="b" cx="847.9" cy="523.1" r="8.6" color="#d46c98"/>
<circle class="b" cx="1248.8" cy="487.2" r="8.6" color="#d66a96"/>
<circle class="c" cx="1266.5" cy="506.4" r="8.6" color="#e75785"/>
<circle class="d" cx="730.4" cy="487.5" r="8.6" color="#38a6e5"/>
<circle class="c" cx="1226.8" cy="510.4" r="8.6" color="#9d8fc1"/>
<circle class="d" cx="734.7" cy="501.7" r="8.6" color="#25a8e7"/>
<circle class="b" cx="1127.6" cy="496.4" r="8.6" color="#d36d98"/>
<circle class="b" cx="901.7" cy="459.5" r="8.6" color="#d66b96"/>
<circle class="b" cx="825.5" cy="464.9" r="8.6" color="#d76995"/>
<circle class="d" cx="793.5" cy="474.0" r="8.6" color="#3ea6e4"/>
<circle class="b" cx="803.6" cy="500.3" r="8.6" color="#d46c98"/>
<circle class="d" cx="952.6" cy="497.5" r="8.6" color="#34a6e5"/>
<circle class="b" cx="880.8" cy="470.8" r="8.6" color="#d46c97"/>
<circle class="b" cx="881.7" cy="483.3" r="8.6" color="#d16f9a"/>
<circle class="c" cx="1144.1" cy="489.9" r="8.6" color="#de628f"/>
<circle class="c" cx="985.7" cy="494.4" r="8.6" color="#7b9ad2"/>
<circle class="b" cx="1154.8" cy="503.7" r="8.6" color="#d76995"/>
<circle class="b" cx="861.0" cy="502.7" r="8.6" color="#d76995"/>
<circle class="b" cx="993.4" cy="495.5" r="8.6" color="#ce719d"/>
<circle class="c" cx="888.5" cy="491.7" r="8.6" color="#7a9bd2"/>
<circle class="c" cx="1473.5" cy="488.6" r="8.6" color="#ed4e7f"/>
<circle class="c" cx="1336.3" cy="506.1" r="8.6" color="#e0608d"/>
<circle class="c" cx="968.2" cy="519.4" r="8.6" color="#7d9ad1"/>
<circle class="b" cx="994.7" cy="516.7" r="8.6" color="#d56c97"/>
<circle class="c" cx="831.8" cy="510.4" r="8.6" color="#8298ce"/>
<circle class="b" cx="1187.2" cy="489.0" r="8.6" color="#d56b96"/>
<circle class="d" cx="787.6" cy="504.4" r="8.6" color="#34a6e5"/>
<circle class="c" cx="857.3" cy="471.9" r="8.6" color="#8996cb"/>
<circle class="b" cx="862.9" cy="484.9" r="8.6" color="#d16f9a"/>
<circle class="c" cx="840.5" cy="474.3" r="8.6" color="#8a96cb"/>
<circle class="d" cx="810.8" cy="507.6" r="8.6" color="#59a2de"/>
<circle class="b" cx="991.4" cy="472.7" r="8.6" color="#d16f9a"/>
<circle class="d" cx="891.9" cy="473.2" r="8.6" color="#46a5e2"/>
<circle class="d" cx="816.2" cy="466.3" r="8.6" color="#51a3e0"/>
<circle class="d" cx="764.6" cy="504.6" r="8.6" color="#2ea7e6"/>
<circle class="d" cx="914.5" cy="511.8" r="8.6" color="#46a5e2"/>
<circle class="c" cx="1271.8" cy="501.5" r="8.6" color="#e25d8a"/>
<circle class="b" cx="954.7" cy="466.3" r="8.6" color="#ce719d"/>
<circle class="b" cx="919.1" cy="524.5" r="8.6" color="#d66a96"/>
<circle class="d" cx="934.5" cy="488.6" r="8.6" color="#38a6e5"/>
<circle class="b" cx="963.4" cy="529.5" r="8.6" color="#d16f9b"/>
<circle class="d" cx="702.7" cy="496.6" r="8.6" color="#38a6e5"/>
<circle class="c" cx="1305.1" cy="494.7" r="8.6" color="#e0608d"/>
<circle class="c" cx="1435.3" cy="491.9" r="8.6" color="#ed4e7f"/>
<circle class="c" cx="949.6" cy="483.1" r="8.6" color="#8a96cb"/>
<circle class="c" cx="870.5" cy="485.3" r="8.6" color="#8498ce"/>
<circle class="b" cx="868.4" cy="480.4" r="8.6" color="#d76a95"/>
<circle class="c" cx="1382.7" cy="490.1" r="8.6" color="#e45a88"/>
<circle class="b" cx="1279.7" cy="484.7" r="8.6" color="#dc6490"/>
<circle class="c" cx="1280.6" cy="489.4" r="8.6" color="#e05f8c"/>
<circle class="d" cx="962.9" cy="495.2" r="8.6" color="#54a3df"/>
<circle class="b" cx="939.0" cy="524.0" r="8.6" color="#d36d98"/>
<circle class="c" cx="886.4" cy="527.1" r="8.6" color="#8597cd"/>
<circle class="b" cx="875.6" cy="522.2" r="8.6" color="#d16f9a"/>
<circle class="c" cx="976.0" cy="483.1" r="8.6" color="#799bd2"/>
<circle class="c" cx="980.1" cy="492.8" r="8.6" color="#8c95ca"/>
<circle class="b" cx="1052.3" cy="507.3" r="8.6" color="#ad87b7"/>
<circle class="b" cx="1050.6" cy="511.6" r="8.6" color="#ad87b7"/>
<circle class="d" cx="774.8" cy="481.6" r="8.6" color="#4ca4e1"/>
<circle class="c" cx="910.8" cy="506.8" r="8.6" color="#8896cc"/>
<circle class="b" cx="1231.3" cy="496.8" r="8.6" color="#da6692"/>
<circle class="b" cx="883.1" cy="495.2" r="8.6" color="#d76a95"/>
<circle class="d" cx="852.3" cy="525.2" r="8.6" color="#54a3df"/>
<circle class="b" cx="1152.1" cy="512.7" r="8.6" color="#d86994"/>
<circle class="c" cx="1354.0" cy="487.9" r="8.6" color="#ea5282"/>
<circle class="b" cx="1231.3" cy="482.1" r="8.6" color="#ae87b6"/>
<circle class="b" cx="867.8" cy="505.5" r="8.6" color="#cf719c"/>
<circle class="c" cx="912.7" cy="532.7" r="8.6" color="#7e99d0"/>
<circle class="b" cx="946.3" cy="471.1" r="8.6" color="#d86994"/>
<circle class="c" cx="1070.3" cy="484.7" r="8.6" color="#9c8fc1"/>
<circle class="b" cx="853.2" cy="515.0" r="8.6" color="#ce729d"/>
<circle class="c" cx="930.4" cy="452.0" r="8.6" color="#7a9bd2"/>
<circle class="c" cx="1142.8" cy="471.6" r="8.6" color="#df608d"/>
<circle class="d" cx="845.8" cy="526.4" r="8.6" color="#48a4e2"/>
<circle class="d" cx="704.9" cy="485.4" r="8.6" color="#4ea4e1"/>
<circle class="b" cx="785.6" cy="479.6" r="8.6" color="#d76995"/>
<circle class="d" cx="759.8" cy="504.6" r="8.6" color="#4ea4e1"/>
<circle class="c" cx="1413.5" cy="494.1" r="8.6" color="#e85584"/>
<circle class="c" cx="1412.2" cy="505.3" r="8.6" color="#eb5081"/>
<circle class="b" cx="926.2" cy="467.4" r="8.6" color="#d46c97"/>
<circle class="c" cx="1176.0" cy="499.8" r="8.6" color="#de618e"/>
<circle class="b" cx="950.1" cy="513.2" r="8.6" color="#d76995"/>
<circle class="c" cx="845.0" cy="461.0" r="8.6" color="#8498ce"/>
<circle class="d" cx="866.5" cy="511.8" r="8.6" color="#37a6e5"/>
<circle class="b" cx="849.4" cy="489.0" r="8.6" color="#d36d99"/>
<circle class="c" cx="905.9" cy="458.7" r="8.6" color="#8597cd"/>
<circle class="c" cx="1464.9" cy="489.4" r="8.6" color="#f1477b"/>
<circle class="d" cx="806.6" cy="508.1" r="8.6" color="#4ca4e1"/>
<circle class="c" cx="888.8" cy="514.1" r="8.6" color="#8398ce"/>
<circle class="c" cx="896.3" cy="450.1" r="8.6" color="#8099cf"/>
<circle class="c" cx="898.9" cy="478.1" r="8.6" color="#7e99d0"/>
<circle class="d" cx="720.8" cy="489.8" r="8.6" color="#4aa4e1"/>
<circle class="c" cx="996.5" cy="506.7" r="8.6" color="#7b9ad2"/>
<circle class="c" cx="866.9" cy="524.8" r="8.6" color="#8797cc"/>
<circle class="c" cx="911.0" cy="461.7" r="8.6" color="#8099d0"/>
<circle class="c" cx="1297.8" cy="496.7" r="8.6" color="#e75786"/>
<circle class="b" cx="1035.3" cy="505.4" r="8.6" color="#da6692"/>
<circle class="c" cx="1438.1" cy="485.7" r="8.6" color="#e95484"/>
<circle class="b" cx="1186.7" cy="511.2" r="8.6" color="#d56b96"/>
<circle class="b" cx="1040.6" cy="494.1" r="8.6" color="#da6692"/>
<circle class="c" cx="1444.0" cy="484.4" r="8.6" color="#e65887"/>
<circle class="b" cx="1191.0" cy="471.3" r="8.6" color="#ad87b7"/>
<circle class="c" cx="846.6" cy="507.9" r="8.6" color="#8797cc"/>
<circle class="b" cx="867.5" cy="483.2" r="8.6" color="#d86894"/>
<circle class="c" cx="907.1" cy="464.9" r="8.6" color="#7a9bd2"/>
<circle class="c" cx="948.1" cy="507.0" r="8.6" color="#8c95ca"/>
<circle class="c" cx="1443.8" cy="481.9" r="8.6" color="#f0487c"/>
<circle class="b" cx="813.3" cy="501.9" r="8.6" color="#d0709b"/>
<circle class="c" cx="1091.4" cy="507.9" r="8.6" color="#9b8fc2"/>
<circle class="c" cx="875.7" cy="453.8" r="8.6" color="#8298ce"/>
<circle class="d" cx="831.5" cy="465.8" r="8.6" color="#59a2de"/>
<circle class="c" cx="1505.1" cy="497.4" r="8.6" color="#ef4a7d"/>
<circle class="c" cx="974.0" cy="495.7" r="8.6" color="#8a96cb"/>
<circle class="b" cx="1195.3" cy="507.9" r="8.6" color="#a889ba"/>
<circle class="d" cx="853.0" cy="509.5" r="8.6" color="#3ca6e4"/>
<circle class="b" cx="938.1" cy="505.7" r="8.6" color="#d0709b"/>
<circle class="d" cx="867.6" cy="492.6" r="8.6" color="#46a5e2"/>
<circle class="c" cx="1371.6" cy="489.9" r="8.6" color="#e45b89"/>
<circle class="b" cx="1241.9" cy="507.0" r="8.6" color="#9f8ebf"/>
<circle class="b" cx="1098.8" cy="499.4" r="8.6" color="#a28dbe"/>
<circle class="b" cx="876.6" cy="465.3" r="8.6" color="#ce719d"/>
<circle class="c" cx="1339.6" cy="485.7" r="8.6" color="#e35c8a"/>
<circle class="c" cx="837.5" cy="510.3" r="8.6" color="#8e94c9"/>
<circle class="c" cx="867.4" cy="462.7" r="8.6" color="#8e95c9"/>
<circle class="c" cx="960.9" cy="522.5" r="8.6" color="#8498ce"/>
<circle class="c" cx="1350.5" cy="505.9" r="8.6" color="#eb5081"/>
<circle class="b" cx="1195.8" cy="488.5" r="8.6" color="#d96893"/>
<circle class="d" cx="990.0" cy="481.1" r="8.6" color="#57a2de"/>
<circle class="c" cx="974.5" cy="525.5" r="8.6" color="#8298cf"/>
<circle class="c" cx="979.8" cy="470.1" r="8.6" color="#8b96cb"/>
<circle class="b" cx="903.2" cy="472.1" r="8.6" color="#d76995"/>
<circle class="c" cx="1114.7" cy="510.2" r="8.6" color="#9a90c2"/>
<circle class="c" cx="812.4" cy="463.5" r="8.6" color="#8b96ca"/>
<circle class="c" cx="857.4" cy="519.9" r="8.6" color="#8996cc"/>
<circle class="d" cx="914.6" cy="502.8" r="8.6" color="#48a4e2"/>
<circle class="c" cx="1386.4" cy="489.7" r="8.6" color="#ea5383"/>
<circle class="c" cx="888.6" cy="468.8" r="8.6" color="#7d9ad1"/>
<circle class="b" cx="990.9" cy="509.8" r="8.6" color="#d36d99"/>
<circle class="c" cx="968.1" cy="523.5" r="8.6" color="#8c95ca"/>
<circle class="c" cx="982.4" cy="470.5" r="8.6" color="#8897cc"/>
<circle class="b" cx="1003.0" cy="487.2" r="8.6" color="#a889ba"/>
<circle class="d" cx="732.5" cy="482.4" r="8.6" color="#33a7e6"/>
<circle class="b" cx="1065.0" cy="506.9" r="8.6" color="#a58bbc"/>
<circle class="b" cx="1237.4" cy="493.3" r="8.6" color="#ad87b7"/>
<circle class="b" cx="957.2" cy="468.5" r="8.6" color="#cf719c"/>
<circle class="b" cx="1218.4" cy="479.1" r="8.6" color="#9e8ec0"/>
<circle class="c" cx="937.0" cy="513.0" r="8.6" color="#8597cd"/>
<circle class="b" cx="843.4" cy="501.8" r="8.6" color="#d66a96"/>
<circle class="b" cx="1266.2" cy="499.7" r="8.6" color="#db6591"/>
<circle class="b" cx="1130.2" cy="494.4" r="8.6" color="#a58bbb"/>
<circle class="c" cx="1443.8" cy="491.7" r="8.6" color="#ed4d7f"/>
<circle class="b" cx="1063.1" cy="481.1" r="8.6" color="#d06f9b"/>
<circle class="c" cx="864.1" cy="495.9" r="8.6" color="#799bd3"/>
<circle class="c" cx="835.0" cy="478.5" r="8.6" color="#8e94c9"/>
<circle class="c" cx="831.8" cy="476.9" r="8.6" color="#8a96cb"/>
<circle class="c" cx="801.8" cy="489.6" r="8.6" color="#8099d0"/>
<circle class="b" cx="888.0" cy="508.2" r="8.6" color="#d56b96"/>
<circle class="c" cx="841.1" cy="520.1" r="8.6" color="#8996cb"/>
<circle class="c" cx="1211.6" cy="497.1" r="8.6" color="#de628e"/>
<circle class="c" cx="983.0" cy="517.6" r="8.6" color="#7e99d0"/>
<circle class="c" cx="846.4" cy="495.9" r="8.6" color="#8099d0"/>
<circle class="c" cx="940.9" cy="484.4" r="8.6" color="#7f99d0"/>
<circle class="d" cx="740.3" cy="489.6" r="8.6" color="#3ba6e4"/>
<circle class="b" cx="1025.1" cy="478.3" r="8.6" color="#da6692"/>
<circle class="c" cx="1552.0" cy="485.0" r="8.6" color="#ef497d"/>
<circle class="d" cx="1557.0" cy="496.0" r="8.6" color="#fc2b6e"/>
<circle class="d" cx="1577.0" cy="494.0" r="8.6" color="#fc2b6e"/>
<circle class="d" cx="1583.0" cy="495.0" r="8.6" color="#fc2b6e"/>
<circle class="d" cx="1589.0" cy="493.0" r="8.6" color="#fc2b6e"/>
<circle class="d" cx="1596.0" cy="494.0" r="8.6" color="#fc2b6e"/>
<circle class="d" cx="1601.0" cy="492.0" r="8.6" color="#fc2b6e"/>
<circle class="c" cx="1617.0" cy="498.0" r="8.6" color="#f53f77"/>
<circle class="c" cx="1625.0" cy="497.0" r="8.6" color="#f53f77"/>
<circle class="c" cx="1640.0" cy="490.0" r="8.6" color="#f53f77"/>
<circle class="c" cx="1643.0" cy="493.0" r="8.6" color="#f53f77"/>
<circle class="d" cx="1679.8" cy="489.0" r="8.6" color="#fc2b6e"/>
<circle class="d" cx="1750.7" cy="492.6" r="8.6" color="#fc2b6e"/>
</g>
<g>
<circle class="d" cx="648.5" cy="600.0" r="8.6" color="#1ea8e8"/>
<circle class="d" cx="655.0" cy="600.3" r="8.6" color="#1ea8e8"/>
<circle class="d" cx="668.0" cy="599.0" r="8.6" color="#1ea8e8"/>
<circle class="d" cx="676.0" cy="599.0" r="8.6" color="#1ea8e8"/>
<circle class="d" cx="724.0" cy="601.5" r="8.6" color="#3da6e4"/>
<circle class="d" cx="726.0" cy="602.0" r="8.6" color="#3da6e4"/>
<circle class="d" cx="728.0" cy="601.0" r="8.6" color="#3da6e4"/>
<circle class="b" cx="728.0" cy="596.0" r="8.6" color="#d06f9b"/>
<circle class="d" cx="744.0" cy="606.0" r="8.6" color="#fa3171"/>
<circle class="d" cx="752.0" cy="598.0" r="8.6" color="#fa3171"/>
<circle class="d" cx="754.0" cy="602.0" r="8.6" color="#fa3171"/>
<circle class="d" cx="774.0" cy="606.0" r="8.6" color="#fa3171"/>
<circle class="d" cx="778.0" cy="594.0" r="8.6" color="#fa3171"/>
<circle class="d" cx="785.0" cy="596.0" r="8.6" color="#fa3171"/>
<circle class="d" cx="790.0" cy="594.0" r="8.6" color="#fa3171"/>
<circle class="d" cx="800.0" cy="586.0" r="8.6" color="#fa3171"/>
<circle class="c" cx="805.5" cy="611.2" r="8.6" color="#8199cf"/>
<circle class="c" cx="815.6" cy="591.6" r="8.6" color="#769cd4"/>
<circle class="c" cx="825.8" cy="598.7" r="8.6" color="#7b9ad2"/>
<circle class="c" cx="840.3" cy="606.5" r="8.6" color="#8199cf"/>
<circle class="c" cx="836.7" cy="601.9" r="8.6" color="#789bd3"/>
<circle class="c" cx="807.1" cy="606.9" r="8.6" color="#789bd3"/>
<circle class="c" cx="816.0" cy="615.6" r="8.6" color="#7f99d0"/>
<circle class="c" cx="817.8" cy="602.5" r="8.6" color="#7c9ad2"/>
<circle class="c" cx="838.1" cy="595.8" r="8.6" color="#7d9ad1"/>
<circle class="c" cx="837.9" cy="605.8" r="8.6" color="#7f99d0"/>
<circle class="c" cx="805.6" cy="596.9" r="8.6" color="#8099d0"/>
<circle class="c" cx="844.1" cy="599.1" r="8.6" color="#799bd3"/>
<circle class="c" cx="833.0" cy="606.4" r="8.6" color="#7e9ad1"/>
<circle class="c" cx="809.2" cy="611.6" r="8.6" color="#7d9ad1"/>
<circle class="c" cx="822.5" cy="611.8" r="8.6" color="#769cd4"/>
<circle class="c" cx="812.1" cy="602.7" r="8.6" color="#7d9ad1"/>
<circle class="c" cx="837.4" cy="603.4" r="8.6" color="#7b9ad2"/>
<circle class="c" cx="824.5" cy="591.9" r="8.6" color="#7a9ad2"/>
<circle class="c" cx="822.6" cy="596.0" r="8.6" color="#799bd3"/>
<circle class="c" cx="827.5" cy="593.1" r="8.6" color="#7f99d0"/>
<circle class="c" cx="841.8" cy="593.4" r="8.6" color="#7b9ad2"/>
<circle class="c" cx="810.6" cy="595.7" r="8.6" color="#8199cf"/>
<circle class="c" cx="810.7" cy="615.3" r="8.6" color="#7b9ad2"/>
<circle class="c" cx="801.4" cy="597.9" r="8.6" color="#7a9bd2"/>
<circle class="c" cx="814.2" cy="593.3" r="8.6" color="#779bd3"/>
<circle class="c" cx="835.6" cy="597.5" r="8.6" color="#7a9bd2"/>
<circle class="d" cx="845.0" cy="600.0" r="8.6" color="#fa3171"/>
<circle class="d" cx="850.0" cy="612.0" r="8.6" color="#fa3171"/>
<circle class="d" cx="858.0" cy="618.0" r="8.6" color="#fa3171"/>
<circle class="d" cx="866.0" cy="596.0" r="8.6" color="#fa3171"/>
<circle class="d" cx="870.0" cy="586.0" r="8.6" color="#fa3171"/>
<circle class="d" cx="878.0" cy="590.0" r="8.6" color="#fa3171"/>
<circle class="c" cx="1097.3" cy="641.4" r="8.6" color="#e15e8b"/>
<circle class="b" cx="1352.4" cy="597.7" r="8.6" color="#c578a5"/>
<circle class="c" cx="1160.7" cy="600.8" r="8.6" color="#e15e8b"/>
<circle class="c" cx="995.6" cy="569.3" r="8.6" color="#8398ce"/>
<circle class="c" cx="1039.3" cy="640.3" r="8.6" color="#f53d76"/>
<circle class="d" cx="1078.6" cy="621.3" r="8.6" color="#f83773"/>
<circle class="c" cx="992.3" cy="617.1" r="8.6" color="#7e9ad1"/>
<circle class="d" cx="964.5" cy="597.1" r="8.6" color="#f83873"/>
<circle class="c" cx="1055.2" cy="593.9" r="8.6" color="#7e9ad1"/>
<circle class="c" cx="904.5" cy="604.5" r="8.6" color="#779bd3"/>
<circle class="b" cx="1270.2" cy="591.0" r="8.6" color="#dd638f"/>
<circle class="b" cx="1104.1" cy="615.5" r="8.6" color="#da6692"/>
<circle class="c" cx="914.2" cy="622.2" r="8.6" color="#749cd5"/>
<circle class="b" cx="1098.9" cy="572.9" r="8.6" color="#dd628f"/>
<circle class="d" cx="926.2" cy="635.9" r="8.6" color="#38a6e5"/>
<circle class="b" cx="1404.3" cy="602.9" r="8.6" color="#b682b0"/>
<circle class="c" cx="1006.8" cy="575.8" r="8.6" color="#7b9ad2"/>
<circle class="c" cx="932.5" cy="595.4" r="8.6" color="#8298cf"/>
<circle class="c" cx="953.6" cy="581.5" r="8.6" color="#7a9bd2"/>
<circle class="c" cx="877.7" cy="598.7" r="8.6" color="#7c9ad1"/>
<circle class="c" cx="1185.3" cy="631.8" r="8.6" color="#e15e8b"/>
<circle class="c" cx="1132.9" cy="602.5" r="8.6" color="#df618d"/>
<circle class="c" cx="970.7" cy="617.6" r="8.6" color="#8398ce"/>
<circle class="c" cx="1042.4" cy="569.2" r="8.6" color="#769cd4"/>
<circle class="c" cx="1231.1" cy="619.9" r="8.6" color="#e95383"/>
<circle class="c" cx="1285.5" cy="606.5" r="8.6" color="#de628e"/>
<circle class="c" cx="1061.0" cy="584.8" r="8.6" color="#779bd3"/>
<circle class="d" cx="982.7" cy="577.0" r="8.6" color="#f83673"/>
<circle class="c" cx="1023.0" cy="638.1" r="8.6" color="#8298cf"/>
<circle class="c" cx="1024.6" cy="582.7" r="8.6" color="#759cd4"/>
<circle class="d" cx="1137.3" cy="588.0" r="8.6" color="#f73b75"/>
<circle class="b" cx="1149.4" cy="580.9" r="8.6" color="#db6591"/>
<circle class="c" cx="1019.5" cy="581.2" r="8.6" color="#8099cf"/>
<circle class="c" cx="883.6" cy="613.1" r="8.6" color="#7a9bd2"/>
<circle class="d" cx="988.6" cy="563.7" r="8.6" color="#49a4e2"/>
<circle class="c" cx="971.2" cy="568.5" r="8.6" color="#7d9ad1"/>
<circle class="d" cx="1175.4" cy="571.7" r="8.6" color="#f73a75"/>
<circle class="c" cx="1189.4" cy="585.5" r="8.6" color="#e15f8c"/>
<circle class="d" cx="1225.0" cy="602.9" r="8.6" color="#f93472"/>
<circle class="c" cx="1119.2" cy="630.7" r="8.6" color="#eb5181"/>
<circle class="d" cx="1303.3" cy="593.1" r="8.6" color="#f63b75"/>
<circle class="d" cx="1004.5" cy="588.1" r="8.6" color="#3ea6e4"/>
<circle class="c" cx="1244.3" cy="587.1" r="8.6" color="#e85584"/>
<circle class="c" cx="1042.7" cy="584.3" r="8.6" color="#8298cf"/>
<circle class="c" cx="1064.3" cy="563.6" r="8.6" color="#e15e8b"/>
<circle class="c" cx="960.1" cy="565.7" r="8.6" color="#799bd3"/>
<circle class="c" cx="919.7" cy="601.1" r="8.6" color="#739dd5"/>
<circle class="c" cx="1252.1" cy="592.9" r="8.6" color="#eb5181"/>
<circle class="c" cx="1087.6" cy="613.9" r="8.6" color="#ed4e7f"/>
<circle class="d" cx="915.3" cy="586.6" r="8.6" color="#36a6e5"/>
<circle class="c" cx="1097.9" cy="596.3" r="8.6" color="#e0608c"/>
<circle class="c" cx="1005.7" cy="608.3" r="8.6" color="#8298cf"/>
<circle class="c" cx="1143.9" cy="637.7" r="8.6" color="#ea5282"/>
<circle class="c" cx="946.8" cy="588.5" r="8.6" color="#8398ce"/>
<circle class="b" cx="1431.0" cy="598.4" r="8.6" color="#a68bbb"/>
<circle class="c" cx="982.9" cy="611.9" r="8.6" color="#729dd5"/>
<circle class="b" cx="1168.2" cy="628.2" r="8.6" color="#db6591"/>
<circle class="b" cx="1269.1" cy="604.6" r="8.6" color="#dc6490"/>
<circle class="c" cx="1205.9" cy="596.3" r="8.6" color="#df618d"/>
<circle class="c" cx="1207.9" cy="610.7" r="8.6" color="#f53e76"/>
<circle class="d" cx="994.3" cy="593.8" r="8.6" color="#39a6e5"/>
<circle class="c" cx="1063.7" cy="616.3" r="8.6" color="#de628e"/>
<circle class="c" cx="970.0" cy="611.2" r="8.6" color="#8298cf"/>
<circle class="c" cx="894.3" cy="584.0" r="8.6" color="#759cd4"/>
<circle class="d" cx="960.8" cy="587.4" r="8.6" color="#f93472"/>
<circle class="c" cx="1009.7" cy="581.0" r="8.6" color="#8199cf"/>
<circle class="c" cx="972.1" cy="640.2" r="8.6" color="#7e99d0"/>
<circle class="c" cx="905.8" cy="587.4" r="8.6" color="#8298ce"/>
<circle class="c" cx="1222.1" cy="617.4" r="8.6" color="#e75685"/>
<circle class="d" cx="1026.4" cy="608.3" r="8.6" color="#f73874"/>
<circle class="b" cx="1434.1" cy="607.9" r="8.6" color="#a78aba"/>
<circle class="c" cx="984.7" cy="632.2" r="8.6" color="#7a9bd2"/>
<circle class="c" cx="1106.2" cy="623.3" r="8.6" color="#e75685"/>
<circle class="c" cx="1084.9" cy="626.1" r="8.6" color="#e75685"/>
<circle class="d" cx="1191.5" cy="605.5" r="8.6" color="#f73a74"/>
<circle class="c" cx="897.2" cy="601.3" r="8.6" color="#7d9ad1"/>
<circle class="c" cx="935.3" cy="576.2" r="8.6" color="#f63c75"/>
<circle class="c" cx="1142.1" cy="578.9" r="8.6" color="#de618e"/>
<circle class="b" cx="1124.7" cy="638.5" r="8.6" color="#db6591"/>
<circle class="c" cx="1051.1" cy="579.6" r="8.6" color="#8198cf"/>
<circle class="d" cx="1023.0" cy="620.2" r="8.6" color="#f83773"/>
<circle class="c" cx="1160.5" cy="587.8" r="8.6" color="#e75785"/>
<circle class="c" cx="965.8" cy="577.4" r="8.6" color="#8298cf"/>
<circle class="c" cx="1082.6" cy="573.6" r="8.6" color="#de628f"/>
<circle class="c" cx="1205.8" cy="583.3" r="8.6" color="#ed4e7f"/>
<circle class="d" cx="995.9" cy="632.2" r="8.6" color="#31a7e6"/>
<circle class="d" cx="962.9" cy="572.2" r="8.6" color="#fa3271"/>
<circle class="c" cx="1050.6" cy="635.4" r="8.6" color="#e85584"/>
<circle class="c" cx="939.4" cy="611.4" r="8.6" color="#7c9ad2"/>
<circle class="c" cx="917.8" cy="593.7" r="8.6" color="#8498ce"/>
<circle class="c" cx="1083.0" cy="628.8" r="8.6" color="#e05f8c"/>
<circle class="c" cx="1104.1" cy="589.8" r="8.6" color="#e05f8c"/>
<circle class="d" cx="1096.8" cy="562.8" r="8.6" color="#fa3070"/>
<circle class="b" cx="1377.2" cy="608.9" r="8.6" color="#bc7eac"/>
<circle class="c" cx="1123.9" cy="574.2" r="8.6" color="#ec4f80"/>
<circle class="d" cx="1087.6" cy="586.2" r="8.6" color="#f73974"/>
<circle class="d" cx="1033.7" cy="631.4" r="8.6" color="#f73974"/>
<circle class="d" cx="898.1" cy="627.5" r="8.6" color="#f73974"/>
<circle class="c" cx="944.2" cy="625.7" r="8.6" color="#f53f77"/>
<circle class="b" cx="1184.4" cy="594.7" r="8.6" color="#db6591"/>
<circle class="c" cx="885.6" cy="607.2" r="8.6" color="#7a9bd2"/>
<circle class="b" cx="1411.6" cy="608.4" r="8.6" color="#ae87b6"/>
<circle class="c" cx="949.1" cy="607.8" r="8.6" color="#7c9ad1"/>
<circle class="c" cx="1128.1" cy="580.7" r="8.6" color="#e15e8b"/>
<circle class="d" cx="988.3" cy="626.9" r="8.6" color="#3da6e4"/>
<circle class="c" cx="1110.5" cy="581.7" r="8.6" color="#e95483"/>
<circle class="b" cx="1146.9" cy="617.3" r="8.6" color="#dc6490"/>
<circle class="c" cx="1034.8" cy="610.5" r="8.6" color="#7c9ad1"/>
<circle class="c" cx="975.2" cy="635.0" r="8.6" color="#8398ce"/>
<circle class="c" cx="974.1" cy="574.5" r="8.6" color="#789bd3"/>
<circle class="c" cx="1015.4" cy="628.0" r="8.6" color="#799bd3"/>
<circle class="d" cx="1031.9" cy="581.4" r="8.6" color="#38a6e5"/>
<circle class="c" cx="1110.6" cy="597.9" r="8.6" color="#de618e"/>
<circle class="c" cx="974.5" cy="589.6" r="8.6" color="#7f99d0"/>
<circle class="c" cx="1199.3" cy="619.0" r="8.6" color="#e05f8c"/>
<circle class="d" cx="955.0" cy="620.6" r="8.6" color="#f83673"/>
<circle class="d" cx="904.2" cy="581.3" r="8.6" color="#48a4e2"/>
<circle class="c" cx="1120.8" cy="595.7" r="8.6" color="#df618e"/>
<circle class="d" cx="884.7" cy="586.9" r="8.6" color="#52a3e0"/>
<circle class="d" cx="971.3" cy="604.1" r="8.6" color="#f93372"/>
<circle class="c" cx="1166.4" cy="595.9" r="8.6" color="#df608d"/>
<circle class="c" cx="1236.1" cy="604.8" r="8.6" color="#e85584"/>
<circle class="c" cx="1094.1" cy="579.0" r="8.6" color="#eb5081"/>
<circle class="c" cx="1110.9" cy="639.7" r="8.6" color="#e15f8c"/>
<circle class="c" cx="1324.8" cy="610.8" r="8.6" color="#ec5080"/>
<circle class="c" cx="1159.6" cy="577.4" r="8.6" color="#e95383"/>
<circle class="c" cx="987.4" cy="598.7" r="8.6" color="#8099d0"/>
<circle class="b" cx="1286.7" cy="590.9" r="8.6" color="#db6591"/>
<circle class="c" cx="1069.9" cy="574.5" r="8.6" color="#e85584"/>
<circle class="c" cx="1008.2" cy="634.4" r="8.6" color="#7f99d0"/>
<circle class="d" cx="1036.5" cy="566.2" r="8.6" color="#50a3e0"/>
<circle class="b" cx="1363.3" cy="599.3" r="8.6" color="#c579a5"/>
<circle class="c" cx="919.5" cy="629.5" r="8.6" color="#789bd3"/>
<circle class="b" cx="1080.9" cy="605.3" r="8.6" color="#db6591"/>
<circle class="b" cx="1162.7" cy="572.5" r="8.6" color="#db6591"/>
<circle class="b" cx="1107.1" cy="629.6" r="8.6" color="#dd638f"/>
<circle class="d" cx="1033.5" cy="624.9" r="8.6" color="#f83673"/>
<circle class="d" cx="1116.5" cy="618.3" r="8.6" color="#f73a74"/>
<circle class="c" cx="927.7" cy="606.2" r="8.6" color="#769cd4"/>
<circle class="c" cx="1027.1" cy="592.4" r="8.6" color="#769cd4"/>
<circle class="d" cx="937.1" cy="596.8" r="8.6" color="#40a5e3"/>
<circle class="c" cx="1068.1" cy="618.3" r="8.6" color="#e85584"/>
<circle class="c" cx="1069.8" cy="601.9" r="8.6" color="#f53f77"/>
<circle class="d" cx="1014.2" cy="565.4" r="8.6" color="#44a5e3"/>
<circle class="c" cx="1028.8" cy="634.2" r="8.6" color="#7d9ad1"/>
<circle class="c" cx="927.3" cy="585.7" r="8.6" color="#f53d76"/>
<circle class="d" cx="955.0" cy="629.9" r="8.6" color="#30a7e6"/>
<circle class="c" cx="1009.8" cy="628.7" r="8.6" color="#749cd4"/>
<circle class="d" cx="961.5" cy="624.6" r="8.6" color="#f83773"/>
<circle class="c" cx="1147.6" cy="640.4" r="8.6" color="#e85584"/>
<circle class="d" cx="890.5" cy="594.0" r="8.6" color="#40a5e4"/>
<circle class="c" cx="911.4" cy="573.2" r="8.6" color="#769cd4"/>
<circle class="c" cx="975.1" cy="597.4" r="8.6" color="#729dd5"/>
<circle class="d" cx="1022.3" cy="595.9" r="8.6" color="#f73874"/>
<circle class="c" cx="900.0" cy="614.6" r="8.6" color="#7f99d0"/>
<circle class="d" cx="1319.9" cy="602.4" r="8.6" color="#f63b75"/>
<circle class="c" cx="1137.3" cy="599.0" r="8.6" color="#de628f"/>
<circle class="c" cx="1155.7" cy="630.3" r="8.6" color="#e0608c"/>
<circle class="b" cx="1062.4" cy="592.8" r="8.6" color="#db6591"/>
<circle class="c" cx="1050.5" cy="639.2" r="8.6" color="#7d9ad1"/>
<circle class="c" cx="1007.5" cy="571.0" r="8.6" color="#7d9ad1"/>
<circle class="b" cx="1109.9" cy="591.9" r="8.6" color="#dc6490"/>
<circle class="c" cx="1258.5" cy="599.9" r="8.6" color="#de618e"/>
<circle class="c" cx="990.6" cy="633.6" r="8.6" color="#f44077"/>
<circle class="b" cx="1176.1" cy="593.8" r="8.6" color="#dd6390"/>
<circle class="b" cx="1392.8" cy="599.7" r="8.6" color="#b881ae"/>
<circle class="b" cx="1359.8" cy="593.2" r="8.6" color="#c37aa6"/>
<circle class="c" cx="1214.9" cy="593.7" r="8.6" color="#df608d"/>
<circle class="d" cx="1054.5" cy="566.6" r="8.6" color="#f93572"/>
<circle class="c" cx="1337.9" cy="600.5" r="8.6" color="#ec5081"/>
<circle class="b" cx="1434.8" cy="594.5" r="8.6" color="#ac88b7"/>
<circle class="c" cx="998.5" cy="594.2" r="8.6" color="#739cd5"/>
<circle class="c" cx="1067.2" cy="575.5" r="8.6" color="#ec4f80"/>
<circle class="d" cx="1043.1" cy="602.8" r="8.6" color="#f83874"/>
<circle class="c" cx="1099.7" cy="607.0" r="8.6" color="#ec4f80"/>
<circle class="d" cx="1310.0" cy="603.7" r="8.6" color="#f93572"/>
<circle class="c" cx="1042.2" cy="633.8" r="8.6" color="#7f99d0"/>
<circle class="d" cx="1069.4" cy="638.7" r="8.6" color="#f73974"/>
<circle class="c" cx="1229.8" cy="593.3" r="8.6" color="#de628f"/>
<circle class="b" cx="1373.5" cy="594.6" r="8.6" color="#c17ba8"/>
<circle class="c" cx="1188.4" cy="623.5" r="8.6" color="#eb5081"/>
<circle class="d" cx="907.7" cy="629.1" r="8.6" color="#52a3e0"/>
<circle class="c" cx="893.0" cy="598.3" r="8.6" color="#7e99d0"/>
<circle class="b" cx="1177.7" cy="603.3" r="8.6" color="#db6591"/>
<circle class="d" cx="947.2" cy="638.6" r="8.6" color="#fa3271"/>
<circle class="c" cx="889.7" cy="611.8" r="8.6" color="#7d9ad1"/>
<circle class="b" cx="1080.7" cy="594.7" r="8.6" color="#db6591"/>
<circle class="c" cx="984.3" cy="585.3" r="8.6" color="#7f99d0"/>
<circle class="d" cx="1042.6" cy="621.9" r="8.6" color="#f93472"/>
<circle class="c" cx="1032.1" cy="599.2" r="8.6" color="#7c9ad1"/>
<circle class="d" cx="1014.4" cy="615.9" r="8.6" color="#f73a75"/>
<circle class="b" cx="1101.3" cy="639.0" r="8.6" color="#db6591"/>
<circle class="d" cx="930.4" cy="577.1" r="8.6" color="#50a3e0"/>
<circle class="c" cx="1081.5" cy="567.1" r="8.6" color="#f53d76"/>
<circle class="d" cx="982.0" cy="589.7" r="8.6" color="#f83773"/>
<circle class="c" cx="1157.4" cy="610.9" r="8.6" color="#de628e"/>
<circle class="c" cx="1005.0" cy="639.6" r="8.6" color="#789bd3"/>
<circle class="c" cx="1184.3" cy="582.2" r="8.6" color="#ea5282"/>
<circle class="c" cx="1153.9" cy="622.5" r="8.6" color="#de628e"/>
<circle class="b" cx="1181.0" cy="570.4" r="8.6" color="#dd638f"/>
<circle class="c" cx="1173.0" cy="566.2" r="8.6" color="#df618d"/>
<circle class="c" cx="1044.0" cy="627.6" r="8.6" color="#7b9ad2"/>
<circle class="b" cx="1216.6" cy="615.4" r="8.6" color="#dd638f"/>
<circle class="c" cx="1038.5" cy="588.5" r="8.6" color="#f44178"/>
<circle class="c" cx="898.0" cy="577.3" r="8.6" color="#f44178"/>
<circle class="c" cx="1262.2" cy="590.1" r="8.6" color="#e05f8c"/>
<circle class="c" cx="1104.9" cy="607.6" r="8.6" color="#df618e"/>
<circle class="c" cx="1101.8" cy="597.8" r="8.6" color="#e85585"/>
<circle class="b" cx="1420.0" cy="608.8" r="8.6" color="#ae87b6"/>
<circle class="c" cx="1124.9" cy="583.2" r="8.6" color="#e95483"/>
<circle class="c" cx="1050.5" cy="615.2" r="8.6" color="#7a9bd2"/>
<circle class="b" cx="1094.0" cy="639.3" r="8.6" color="#da6692"/>
<circle class="c" cx="1012.0" cy="575.7" r="8.6" color="#f44178"/>
<circle class="c" cx="936.2" cy="593.9" r="8.6" color="#749cd5"/>
<circle class="b" cx="1223.9" cy="590.6" r="8.6" color="#dc6490"/>
<circle class="d" cx="947.4" cy="575.2" r="8.6" color="#4fa3e0"/>
<circle class="c" cx="1194.5" cy="602.3" r="8.6" color="#e75685"/>
<circle class="c" cx="886.6" cy="599.4" r="8.6" color="#7e9ad1"/>
<circle class="c" cx="871.8" cy="594.1" r="8.6" color="#f53e76"/>
<circle class="b" cx="1118.9" cy="564.3" r="8.6" color="#dc6490"/>
<circle class="c" cx="1013.0" cy="603.9" r="8.6" color="#749cd5"/>
<circle class="c" cx="1016.4" cy="592.1" r="8.6" color="#f44178"/>
<circle class="b" cx="1061.2" cy="576.2" r="8.6" color="#db6692"/>
<circle class="c" cx="1167.0" cy="598.6" r="8.6" color="#e95484"/>
<circle class="c" cx="976.5" cy="593.2" r="8.6" color="#f53e76"/>
<circle class="c" cx="998.2" cy="600.9" r="8.6" color="#8498ce"/>
<circle class="c" cx="1045.8" cy="576.9" r="8.6" color="#749cd5"/>
<circle class="c" cx="1082.4" cy="612.3" r="8.6" color="#ec4f80"/>
<circle class="b" cx="1171.4" cy="587.5" r="8.6" color="#da6692"/>
<circle class="c" cx="1112.8" cy="610.0" r="8.6" color="#df618e"/>
<circle class="c" cx="1181.8" cy="606.0" r="8.6" color="#f53e76"/>
<circle class="c" cx="1113.3" cy="586.8" r="8.6" color="#ec5081"/>
<circle class="b" cx="1123.5" cy="625.0" r="8.6" color="#db6591"/>
<circle class="c" cx="1021.3" cy="585.6" r="8.6" color="#7d9ad1"/>
<circle class="c" cx="1021.2" cy="569.9" r="8.6" color="#f63c75"/>
<circle class="c" cx="892.7" cy="615.8" r="8.6" color="#7f99d0"/>
<circle class="b" cx="1139.0" cy="622.3" r="8.6" color="#dd638f"/>
<circle class="c" cx="936.8" cy="607.2" r="8.6" color="#729dd5"/>
<circle class="c" cx="1176.6" cy="597.8" r="8.6" color="#ea5383"/>
<circle class="d" cx="953.6" cy="569.1" r="8.6" color="#54a3df"/>
<circle class="b" cx="1130.7" cy="595.5" r="8.6" color="#dd6390"/>
<circle class="c" cx="1072.6" cy="624.1" r="8.6" color="#e85584"/>
<circle class="d" cx="976.2" cy="633.3" r="8.6" color="#54a3df"/>
<circle class="c" cx="1041.8" cy="565.8" r="8.6" color="#739cd5"/>
<circle class="b" cx="1151.3" cy="635.4" r="8.6" color="#dc6390"/>
<circle class="c" cx="1090.2" cy="576.0" r="8.6" color="#e85484"/>
<circle class="c" cx="958.6" cy="603.2" r="8.6" color="#8498ce"/>
<circle class="c" cx="1041.6" cy="631.0" r="8.6" color="#7b9ad2"/>
<circle class="c" cx="1324.3" cy="606.2" r="8.6" color="#ec5080"/>
<circle class="b" cx="1089.6" cy="593.6" r="8.6" color="#dc6490"/>
<circle class="c" cx="1195.0" cy="604.5" r="8.6" color="#e05f8c"/>
<circle class="b" cx="1297.9" cy="610.7" r="8.6" color="#dc6491"/>
<circle class="d" cx="991.9" cy="568.4" r="8.6" color="#f73a74"/>
<circle class="c" cx="888.8" cy="583.6" r="8.6" color="#8099d0"/>
<circle class="b" cx="1358.8" cy="608.5" r="8.6" color="#c479a6"/>
<circle class="b" cx="1250.7" cy="612.4" r="8.6" color="#db6591"/>
<circle class="c" cx="1125.1" cy="569.7" r="8.6" color="#ec4f80"/>
<circle class="c" cx="1018.2" cy="610.0" r="8.6" color="#7e9ad1"/>
<circle class="c" cx="947.7" cy="623.6" r="8.6" color="#799bd3"/>
<circle class="d" cx="966.1" cy="621.0" r="8.6" color="#35a6e5"/>
<circle class="c" cx="1013.3" cy="634.6" r="8.6" color="#f53d76"/>
<circle class="c" cx="874.2" cy="599.1" r="8.6" color="#739cd5"/>
<circle class="c" cx="1139.9" cy="603.7" r="8.6" color="#df618e"/>
<circle class="c" cx="923.8" cy="594.6" r="8.6" color="#799bd2"/>
<circle class="c" cx="968.6" cy="578.4" r="8.6" color="#8298cf"/>
<circle class="c" cx="1137.5" cy="611.5" r="8.6" color="#ed4e7f"/>
<circle class="c" cx="943.0" cy="601.3" r="8.6" color="#f63d76"/>
<circle class="c" cx="909.1" cy="608.4" r="8.6" color="#7c9ad1"/>
<circle class="c" cx="1020.9" cy="628.3" r="8.6" color="#8298cf"/>
<circle class="c" cx="981.3" cy="623.0" r="8.6" color="#799bd2"/>
<circle class="c" cx="1084.5" cy="636.5" r="8.6" color="#df618e"/>
<circle class="c" cx="1185.9" cy="585.7" r="8.6" color="#e05f8c"/>
<circle class="c" cx="1275.2" cy="609.5" r="8.6" color="#de618e"/>
<circle class="b" cx="1171.0" cy="602.0" r="8.6" color="#dd638f"/>
<circle class="c" cx="1016.4" cy="638.2" r="8.6" color="#739cd5"/>
<circle class="c" cx="950.2" cy="615.0" r="8.6" color="#7f99d0"/>
<circle class="c" cx="1218.8" cy="590.8" r="8.6" color="#e75785"/>
<circle class="c" cx="965.1" cy="634.6" r="8.6" color="#789bd3"/>
<circle class="c" cx="941.9" cy="580.8" r="8.6" color="#749cd5"/>
<circle class="c" cx="1063.9" cy="607.6" r="8.6" color="#8498ce"/>
<circle class="b" cx="1046.2" cy="592.6" r="8.6" color="#db6591"/>
<circle class="c" cx="1029.3" cy="567.9" r="8.6" color="#749cd5"/>
<circle class="c" cx="1095.7" cy="627.8" r="8.6" color="#e95383"/>
<circle class="d" cx="1051.0" cy="573.4" r="8.6" color="#4ca4e1"/>
<circle class="c" cx="1106.4" cy="565.8" r="8.6" color="#df608d"/>
<circle class="d" cx="1314.9" cy="610.9" r="8.6" color="#fb2f70"/>
<circle class="c" cx="976.1" cy="571.6" r="8.6" color="#769cd4"/>
<circle class="b" cx="1412.8" cy="603.9" r="8.6" color="#b384b2"/>
<circle class="c" cx="1089.8" cy="635.0" r="8.6" color="#f63c75"/>
<circle class="c" cx="1304.5" cy="602.3" r="8.6" color="#df608d"/>
<circle class="c" cx="1032.3" cy="607.6" r="8.6" color="#739cd5"/>
<circle class="c" cx="960.6" cy="576.2" r="8.6" color="#749cd5"/>
<circle class="c" cx="1140.4" cy="583.4" r="8.6" color="#df618d"/>
<circle class="c" cx="930.3" cy="627.9" r="8.6" color="#f44077"/>
<circle class="c" cx="935.7" cy="635.3" r="8.6" color="#8398ce"/>
<circle class="c" cx="1150.4" cy="569.5" r="8.6" color="#de628e"/>
<circle class="c" cx="948.8" cy="629.1" r="8.6" color="#799bd2"/>
<circle class="c" cx="1150.4" cy="609.3" r="8.6" color="#df618e"/>
<circle class="d" cx="1052.3" cy="606.6" r="8.6" color="#fb3070"/>
<circle class="b" cx="1223.8" cy="612.7" r="8.6" color="#dc6490"/>
<circle class="c" cx="989.5" cy="580.1" r="8.6" color="#7a9bd2"/>
<circle class="c" cx="1162.3" cy="622.1" r="8.6" color="#e75685"/>
<circle class="c" cx="1000.4" cy="566.0" r="8.6" color="#7a9bd2"/>
<circle class="c" cx="998.2" cy="586.3" r="8.6" color="#7a9bd2"/>
<circle class="c" cx="1163.7" cy="605.7" r="8.6" color="#e85584"/>
<circle class="c" cx="1046.7" cy="580.4" r="8.6" color="#8298cf"/>
<circle class="c" cx="981.4" cy="595.2" r="8.6" color="#7a9bd2"/>
<circle class="c" cx="935.9" cy="615.5" r="8.6" color="#8398ce"/>
<circle class="c" cx="1147.1" cy="628.7" r="8.6" color="#df618d"/>
<circle class="d" cx="1024.3" cy="613.8" r="8.6" color="#f63b75"/>
<circle class="c" cx="1159.0" cy="631.4" r="8.6" color="#e85584"/>
<circle class="d" cx="1135.4" cy="595.0" r="8.6" color="#f73874"/>
<circle class="c" cx="1141.5" cy="635.8" r="8.6" color="#e15e8b"/>
<circle class="c" cx="997.7" cy="609.9" r="8.6" color="#7c9ad1"/>
<circle class="c" cx="983.3" cy="629.2" r="8.6" color="#7a9bd2"/>
<circle class="d" cx="1298.9" cy="603.1" r="8.6" color="#f63b75"/>
<circle class="b" cx="1194.1" cy="620.2" r="8.6" color="#dd638f"/>
<circle class="c" cx="954.1" cy="626.8" r="8.6" color="#789bd3"/>
<circle class="c" cx="1141.2" cy="630.4" r="8.6" color="#e95484"/>
<circle class="c" cx="1097.0" cy="611.4" r="8.6" color="#de628e"/>
<circle class="c" cx="1057.2" cy="638.0" r="8.6" color="#dd628f"/>
<circle class="c" cx="1007.2" cy="628.3" r="8.6" color="#7c9ad1"/>
<circle class="b" cx="1077.0" cy="626.7" r="8.6" color="#db6591"/>
<circle class="c" cx="873.7" cy="596.3" r="8.6" color="#799bd2"/>
<circle class="b" cx="1080.8" cy="565.2" r="8.6" color="#dd638f"/>
<circle class="c" cx="938.4" cy="568.1" r="8.6" color="#7f99d0"/>
<circle class="c" cx="1056.4" cy="575.4" r="8.6" color="#e65786"/>
<circle class="c" cx="1077.5" cy="589.3" r="8.6" color="#e95383"/>
<circle class="c" cx="1231.2" cy="587.3" r="8.6" color="#de618e"/>
<circle class="b" cx="1135.8" cy="637.2" r="8.6" color="#da6692"/>
<circle class="c" cx="887.5" cy="609.8" r="8.6" color="#8298cf"/>
<circle class="c" cx="927.9" cy="623.1" r="8.6" color="#f63c75"/>
</g>
<g>
<circle class="b" cx="1085.8" cy="732.9" r="8.6" color="#cd729e"/>
<circle class="c" cx="1107.8" cy="691.7" r="8.6" color="#9094c8"/>
<circle class="b" cx="1065.8" cy="720.0" r="8.6" color="#d36d98"/>
<circle class="b" cx="984.9" cy="718.6" r="8.6" color="#cd729e"/>
<circle class="b" cx="1070.8" cy="731.2" r="8.6" color="#cf709c"/>
<circle class="c" cx="1073.2" cy="678.1" r="8.6" color="#f44077"/>
<circle class="b" cx="1077.0" cy="672.6" r="8.6" color="#d86894"/>
<circle class="b" cx="1025.7" cy="689.3" r="8.6" color="#a18dbe"/>
<circle class="c" cx="1050.5" cy="698.1" r="8.6" color="#9293c7"/>
<circle class="c" cx="1079.3" cy="689.3" r="8.6" color="#f34379"/>
<circle class="b" cx="966.5" cy="711.9" r="8.6" color="#ca75a1"/>
<circle class="b" cx="1035.8" cy="675.1" r="8.6" color="#d16e9a"/>
<circle class="c" cx="1025.9" cy="717.4" r="8.6" color="#f0497c"/>
<circle class="b" cx="1093.6" cy="697.6" r="8.6" color="#d86894"/>
<circle class="b" cx="1084.3" cy="707.5" r="8.6" color="#d06f9b"/>
<circle class="b" cx="1044.9" cy="740.5" r="8.6" color="#d16f9a"/>
<circle class="b" cx="1111.4" cy="703.6" r="8.6" color="#d56b97"/>
<circle class="b" cx="1012.4" cy="725.9" r="8.6" color="#cf719c"/>
<circle class="b" cx="1100.3" cy="728.4" r="8.6" color="#d06f9b"/>
<circle class="b" cx="1041.7" cy="703.8" r="8.6" color="#cf719c"/>
<circle class="b" cx="887.6" cy="701.9" r="8.6" color="#ca74a0"/>
<circle class="c" cx="939.0" cy="720.7" r="8.6" color="#e85584"/>
<circle class="b" cx="887.0" cy="711.7" r="8.6" color="#c678a4"/>
<circle class="c" cx="1098.8" cy="715.2" r="8.6" color="#9990c3"/>
<circle class="b" cx="918.6" cy="699.7" r="8.6" color="#c579a5"/>
<circle class="b" cx="991.1" cy="698.2" r="8.6" color="#c777a3"/>
<circle class="c" cx="1156.5" cy="712.9" r="8.6" color="#9791c4"/>
<circle class="c" cx="1100.2" cy="739.0" r="8.6" color="#9a90c2"/>
<circle class="b" cx="975.2" cy="699.9" r="8.6" color="#d16e9a"/>
<circle class="c" cx="1067.3" cy="681.3" r="8.6" color="#f53e76"/>
<circle class="b" cx="937.4" cy="702.4" r="8.6" color="#c677a4"/>
<circle class="b" cx="1048.4" cy="713.1" r="8.6" color="#d36d98"/>
<circle class="c" cx="1072.0" cy="743.4" r="8.6" color="#9990c3"/>
<circle class="c" cx="1094.7" cy="679.7" r="8.6" color="#f1477b"/>
<circle class="b" cx="1132.1" cy="699.6" r="8.6" color="#d86894"/>
<circle class="b" cx="1138.2" cy="712.1" r="8.6" color="#a68abb"/>
<circle class="c" cx="1063.6" cy="688.8" r="8.6" color="#9791c4"/>
<circle class="b" cx="1023.6" cy="728.2" r="8.6" color="#ce719d"/>
<circle class="b" cx="952.6" cy="718.9" r="8.6" color="#d0709b"/>
<circle class="b" cx="1138.9" cy="713.5" r="8.6" color="#da6792"/>
<circle class="c" cx="1071.1" cy="690.8" r="8.6" color="#ed4e7f"/>
<circle class="b" cx="1091.8" cy="690.3" r="8.6" color="#ce729d"/>
<circle class="c" cx="1039.8" cy="714.6" r="8.6" color="#9c8fc1"/>
<circle class="c" cx="1069.7" cy="702.0" r="8.6" color="#f2457a"/>
<circle class="c" cx="968.1" cy="722.6" r="8.6" color="#eb5181"/>
<circle class="b" cx="1032.8" cy="708.2" r="8.6" color="#d66a95"/>
<circle class="b" cx="1126.7" cy="709.0" r="8.6" color="#d76995"/>
<circle class="b" cx="981.5" cy="715.1" r="8.6" color="#c975a1"/>
<circle class="b" cx="1060.6" cy="685.9" r="8.6" color="#d0709c"/>
<circle class="b" cx="926.6" cy="713.5" r="8.6" color="#c677a3"/>
<circle class="b" cx="1104.0" cy="706.4" r="8.6" color="#a38cbd"/>
<circle class="c" cx="1072.9" cy="710.4" r="8.6" color="#f44077"/>
<circle class="b" cx="1110.6" cy="713.5" r="8.6" color="#d06f9b"/>
<circle class="b" cx="1055.7" cy="680.7" r="8.6" color="#9e8ec0"/>
<circle class="c" cx="1060.1" cy="702.6" r="8.6" color="#ec5080"/>
<circle class="b" cx="951.6" cy="700.2" r="8.6" color="#cc739f"/>
<circle class="b" cx="988.8" cy="722.9" r="8.6" color="#cb74a0"/>
<circle class="b" cx="1056.2" cy="715.3" r="8.6" color="#d0709c"/>
<circle class="c" cx="1033.9" cy="702.2" r="8.6" color="#ed4e7f"/>
<circle class="c" cx="1000.0" cy="697.7" r="8.6" color="#f34278"/>
<circle class="b" cx="1048.7" cy="676.0" r="8.6" color="#ce719d"/>
<circle class="c" cx="1063.8" cy="712.5" r="8.6" color="#ef4a7d"/>
<circle class="b" cx="1114.5" cy="727.9" r="8.6" color="#ce719d"/>
<circle class="b" cx="935.0" cy="708.3" r="8.6" color="#cd729e"/>
<circle class="c" cx="1057.3" cy="729.6" r="8.6" color="#ec4f80"/>
<circle class="c" cx="1058.2" cy="741.6" r="8.6" color="#9393c6"/>
<circle class="c" cx="1089.0" cy="723.0" r="8.6" color="#9293c7"/>
<circle class="c" cx="887.1" cy="705.8" r="8.6" color="#e95483"/>
<circle class="b" cx="1103.1" cy="719.1" r="8.6" color="#ce729d"/>
<circle class="b" cx="1022.1" cy="683.8" r="8.6" color="#d96793"/>
<circle class="c" cx="1040.2" cy="690.5" r="8.6" color="#9b8fc2"/>
<circle class="b" cx="1051.8" cy="722.7" r="8.6" color="#d96793"/>
<circle class="b" cx="876.7" cy="709.1" r="8.6" color="#ce729d"/>
<circle class="b" cx="870.5" cy="706.1" r="8.6" color="#ca75a0"/>
<circle class="b" cx="1093.8" cy="741.4" r="8.6" color="#d66a96"/>
<circle class="b" cx="1081.9" cy="682.9" r="8.6" color="#cd729e"/>
<circle class="c" cx="1086.2" cy="746.4" r="8.6" color="#8d95c9"/>
<circle class="b" cx="1115.3" cy="691.4" r="8.6" color="#d66a95"/>
<circle class="c" cx="1051.4" cy="704.3" r="8.6" color="#f34278"/>
<circle class="b" cx="1065.6" cy="727.2" r="8.6" color="#da6792"/>
<circle class="b" cx="1058.6" cy="750.9" r="8.6" color="#d76995"/>
<circle class="c" cx="1013.0" cy="704.6" r="8.6" color="#8e94c9"/>
<circle class="b" cx="1124.5" cy="711.1" r="8.6" color="#d46c98"/>
<circle class="c" cx="1194.0" cy="710.3" r="8.6" color="#f2457a"/>
<circle class="b" cx="1047.3" cy="670.4" r="8.6" color="#d96793"/>
<circle class="c" cx="1166.9" cy="709.5" r="8.6" color="#ee4c7e"/>
<circle class="b" cx="931.7" cy="705.2" r="8.6" color="#cb739f"/>
<circle class="c" cx="1033.8" cy="685.9" r="8.6" color="#9791c4"/>
<circle class="b" cx="1066.7" cy="686.8" r="8.6" color="#d0709b"/>
<circle class="b" cx="1018.7" cy="706.2" r="8.6" color="#cc739e"/>
<circle class="b" cx="950.8" cy="706.9" r="8.6" color="#c975a1"/>
<circle class="b" cx="1167.3" cy="704.5" r="8.6" color="#db6591"/>
<circle class="b" cx="1075.5" cy="695.5" r="8.6" color="#d26e99"/>
<circle class="b" cx="1046.5" cy="727.8" r="8.6" color="#ce719d"/>
<circle class="b" cx="903.3" cy="708.8" r="8.6" color="#cc739f"/>
<circle class="b" cx="1040.7" cy="723.6" r="8.6" color="#d16f9a"/>
<circle class="b" cx="1001.6" cy="717.0" r="8.6" color="#cb749f"/>
<circle class="b" cx="944.2" cy="698.0" r="8.6" color="#c876a2"/>
<circle class="b" cx="936.5" cy="722.1" r="8.6" color="#c777a3"/>
<circle class="c" cx="1028.2" cy="699.0" r="8.6" color="#9692c5"/>
<circle class="c" cx="1038.4" cy="728.5" r="8.6" color="#ed4d7f"/>
<circle class="c" cx="1078.8" cy="681.0" r="8.6" color="#9592c5"/>
<circle class="b" cx="1103.4" cy="703.4" r="8.6" color="#d46c97"/>
<circle class="b" cx="1115.7" cy="704.1" r="8.6" color="#d36d99"/>
<circle class="c" cx="1135.3" cy="705.5" r="8.6" color="#9891c3"/>
<circle class="b" cx="1136.0" cy="698.6" r="8.6" color="#a68bbb"/>
<circle class="c" cx="967.6" cy="714.5" r="8.6" color="#eb5081"/>
<circle class="c" cx="1086.3" cy="701.6" r="8.6" color="#9c8fc1"/>
<circle class="c" cx="1131.8" cy="713.4" r="8.6" color="#f34178"/>
<circle class="c" cx="1162.8" cy="704.7" r="8.6" color="#e15f8c"/>
<circle class="b" cx="1022.7" cy="723.9" r="8.6" color="#a18dbe"/>
<circle class="c" cx="1183.8" cy="712.6" r="8.6" color="#ef497c"/>
<circle class="b" cx="1071.4" cy="698.7" r="8.6" color="#cd729e"/>
<circle class="c" cx="1079.8" cy="707.9" r="8.6" color="#ef4b7d"/>
<circle class="b" cx="1043.3" cy="698.5" r="8.6" color="#ce719d"/>
<circle class="b" cx="872.1" cy="711.8" r="8.6" color="#cb74a0"/>
<circle class="b" cx="1121.6" cy="723.9" r="8.6" color="#d56b97"/>
<circle class="c" cx="1058.4" cy="725.2" r="8.6" color="#9194c8"/>
<circle class="b" cx="1101.7" cy="691.6" r="8.6" color="#d16f9a"/>
<circle class="b" cx="1095.2" cy="719.9" r="8.6" color="#d46c98"/>
<circle class="c" cx="1084.8" cy="694.1" r="8.6" color="#9c8fc1"/>
<circle class="b" cx="1139.7" cy="706.8" r="8.6" color="#da6692"/>
<circle class="b" cx="1060.0" cy="668.8" r="8.6" color="#d36d99"/>
<circle class="b" cx="1044.5" cy="674.5" r="8.6" color="#d66a95"/>
<circle class="b" cx="1034.3" cy="721.8" r="8.6" color="#d96793"/>
<circle class="c" cx="1140.3" cy="722.6" r="8.6" color="#9592c5"/>
<circle class="c" cx="909.7" cy="715.8" r="8.6" color="#f0487c"/>
<circle class="c" cx="1053.5" cy="746.8" r="8.6" color="#8c95ca"/>
<circle class="c" cx="1033.5" cy="728.3" r="8.6" color="#f43f77"/>
<circle class="b" cx="1039.1" cy="676.7" r="8.6" color="#d36d98"/>
<circle class="c" cx="1082.0" cy="748.7" r="8.6" color="#eb5081"/>
<circle class="b" cx="1091.9" cy="688.4" r="8.6" color="#cd729e"/>
<circle class="c" cx="1013.3" cy="692.5" r="8.6" color="#9193c7"/>
<circle class="c" cx="1078.6" cy="738.4" r="8.6" color="#ee4c7e"/>
<circle class="b" cx="982.5" cy="707.9" r="8.6" color="#d16e9a"/>
<circle class="b" cx="916.0" cy="710.5" r="8.6" color="#c578a4"/>
<circle class="b" cx="868.4" cy="713.6" r="8.6" color="#c976a1"/>
<circle class="b" cx="894.1" cy="714.7" r="8.6" color="#c578a4"/>
<circle class="b" cx="907.3" cy="707.0" r="8.6" color="#c578a4"/>
<circle class="b" cx="1136.0" cy="721.7" r="8.6" color="#d76995"/>
<circle class="c" cx="1092.4" cy="710.1" r="8.6" color="#ee4c7e"/>
<circle class="b" cx="917.1" cy="717.6" r="8.6" color="#c777a3"/>
<circle class="b" cx="1067.8" cy="674.2" r="8.6" color="#d66a96"/>
<circle class="c" cx="1055.2" cy="672.6" r="8.6" color="#9a90c3"/>
<circle class="b" cx="1139.2" cy="704.2" r="8.6" color="#9e8ec0"/>
<circle class="b" cx="918.6" cy="703.3" r="8.6" color="#c678a4"/>
<circle class="b" cx="1116.8" cy="719.5" r="8.6" color="#d16f9b"/>
<circle class="c" cx="1072.7" cy="688.8" r="8.6" color="#8d95c9"/>
<circle class="b" cx="1089.3" cy="677.6" r="8.6" color="#da6692"/>
<circle class="b" cx="1019.8" cy="731.3" r="8.6" color="#cf709c"/>
<circle class="c" cx="1119.6" cy="695.9" r="8.6" color="#8d95c9"/>
<circle class="b" cx="877.6" cy="716.7" r="8.6" color="#ca75a1"/>
<circle class="b" cx="992.1" cy="695.3" r="8.6" color="#cb74a0"/>
<circle class="b" cx="1022.3" cy="702.6" r="8.6" color="#cf719d"/>
<circle class="b" cx="1093.8" cy="736.2" r="8.6" color="#d26d99"/>
<circle class="c" cx="1088.4" cy="747.0" r="8.6" color="#9193c7"/>
<circle class="c" cx="992.7" cy="708.6" r="8.6" color="#f24479"/>
<circle class="c" cx="1089.2" cy="717.4" r="8.6" color="#ec4f80"/>
<circle class="c" cx="1016.4" cy="687.2" r="8.6" color="#eb5081"/>
<circle class="b" cx="975.7" cy="707.0" r="8.6" color="#ce719d"/>
<circle class="b" cx="1032.5" cy="677.3" r="8.6" color="#d0709b"/>
<circle class="c" cx="1088.3" cy="680.0" r="8.6" color="#8e94c9"/>
<circle class="b" cx="1075.5" cy="717.3" r="8.6" color="#d76995"/>
<circle class="b" cx="944.4" cy="710.6" r="8.6" color="#cc739f"/>
<circle class="c" cx="998.6" cy="708.9" r="8.6" color="#ef4a7d"/>
<circle class="b" cx="1058.7" cy="735.9" r="8.6" color="#d96793"/>
<circle class="b" cx="904.7" cy="715.2" r="8.6" color="#c975a1"/>
<circle class="b" cx="1113.9" cy="696.9" r="8.6" color="#d46c98"/>
<circle class="b" cx="1069.5" cy="669.8" r="8.6" color="#da6692"/>
<circle class="b" cx="1101.0" cy="706.8" r="8.6" color="#cf719c"/>
<circle class="c" cx="988.1" cy="703.7" r="8.6" color="#f1477b"/>
<circle class="c" cx="1097.3" cy="692.1" r="8.6" color="#f34379"/>
<circle class="c" cx="1010.1" cy="714.5" r="8.6" color="#ef4a7d"/>
<circle class="c" cx="1066.9" cy="740.6" r="8.6" color="#9891c4"/>
<circle class="b" cx="1097.7" cy="721.8" r="8.6" color="#d06f9b"/>
<circle class="b" cx="978.2" cy="723.7" r="8.6" color="#d06f9b"/>
<circle class="c" cx="993.9" cy="720.1" r="8.6" color="#f44178"/>
<circle class="b" cx="1079.9" cy="717.0" r="8.6" color="#d46c97"/>
<circle class="c" cx="1018.9" cy="718.7" r="8.6" color="#ed4e7f"/>
<circle class="b" cx="1095.8" cy="684.6" r="8.6" color="#d16e9a"/>
<circle class="b" cx="1006.8" cy="715.5" r="8.6" color="#ca75a0"/>
<circle class="b" cx="1171.6" cy="705.3" r="8.6" color="#db6591"/>
<circle class="b" cx="1006.7" cy="698.6" r="8.6" color="#d16f9b"/>
<circle class="c" cx="1045.8" cy="689.9" r="8.6" color="#f53d76"/>
<circle class="b" cx="1041.0" cy="733.9" r="8.6" color="#ce729d"/>
<circle class="b" cx="1033.8" cy="681.3" r="8.6" color="#cd729e"/>
<circle class="b" cx="1036.5" cy="701.0" r="8.6" color="#d26e9a"/>
<circle class="c" cx="972.8" cy="696.3" r="8.6" color="#f34278"/>
<circle class="c" cx="1025.4" cy="708.9" r="8.6" color="#ef4a7d"/>
<circle class="b" cx="1072.9" cy="672.7" r="8.6" color="#d36d99"/>
<circle class="b" cx="929.0" cy="709.9" r="8.6" color="#c379a6"/>
<circle class="b" cx="960.2" cy="704.2" r="8.6" color="#c975a1"/>
<circle class="b" cx="1024.5" cy="714.2" r="8.6" color="#d0709b"/>
<circle class="c" cx="1080.4" cy="728.8" r="8.6" color="#9c8fc1"/>
<circle class="b" cx="1103.8" cy="711.1" r="8.6" color="#ce729d"/>
<circle class="c" cx="1017.3" cy="701.9" r="8.6" color="#9b90c2"/>
<circle class="c" cx="960.6" cy="714.7" r="8.6" color="#ed4d7f"/>
<circle class="b" cx="952.8" cy="710.6" r="8.6" color="#ce719d"/>
<circle class="b" cx="1108.0" cy="684.7" r="8.6" color="#d0709b"/>
<circle class="b" cx="1172.7" cy="716.0" r="8.6" color="#9d8ec0"/>
<circle class="c" cx="1080.7" cy="743.7" r="8.6" color="#ef497c"/>
<circle class="b" cx="1012.4" cy="723.1" r="8.6" color="#ce729d"/>
<circle class="c" cx="1043.4" cy="712.6" r="8.6" color="#f53f77"/>
<circle class="b" cx="942.8" cy="715.4" r="8.6" color="#d16e9a"/>
<circle class="c" cx="1127.2" cy="710.7" r="8.6" color="#9592c5"/>
<circle class="b" cx="1081.5" cy="712.1" r="8.6" color="#ce719d"/>
<circle class="b" cx="1178.7" cy="713.3" r="8.6" color="#9d8ec0"/>
<circle class="c" cx="1087.1" cy="727.6" r="8.6" color="#9592c5"/>
<circle class="b" cx="983.6" cy="712.1" r="8.6" color="#cf709c"/>
<circle class="b" cx="1016.7" cy="698.4" r="8.6" color="#d56c97"/>
<circle class="c" cx="1006.8" cy="694.4" r="8.6" color="#ee4c7e"/>
<circle class="c" cx="1009.4" cy="717.6" r="8.6" color="#f2457a"/>
<circle class="c" cx="1008.6" cy="696.4" r="8.6" color="#ef4a7d"/>
<circle class="b" cx="1119.3" cy="711.4" r="8.6" color="#ce719d"/>
<circle class="c" cx="1007.0" cy="723.6" r="8.6" color="#f34379"/>
<circle class="b" cx="1069.5" cy="750.1" r="8.6" color="#9f8ebf"/>
<circle class="b" cx="1017.5" cy="711.2" r="8.6" color="#d96793"/>
<circle class="b" cx="1106.0" cy="699.4" r="8.6" color="#d96793"/>
<circle class="c" cx="966.7" cy="698.3" r="8.6" color="#ec5080"/>
<circle class="c" cx="1113.5" cy="718.6" r="8.6" color="#9b8fc2"/>
<circle class="c" cx="997.0" cy="715.3" r="8.6" color="#ec4f80"/>
<circle class="b" cx="1138.5" cy="720.1" r="8.6" color="#da6692"/>
<circle class="c" cx="1095.3" cy="729.0" r="8.6" color="#9692c5"/>
<circle class="c" cx="1072.3" cy="712.5" r="8.6" color="#f0497c"/>
<circle class="b" cx="1055.6" cy="669.0" r="8.6" color="#d16f9b"/>
<circle class="b" cx="1069.0" cy="715.4" r="8.6" color="#d86994"/>
<circle class="c" cx="1066.3" cy="672.9" r="8.6" color="#eb5081"/>
<circle class="b" cx="1026.0" cy="682.3" r="8.6" color="#d16f9a"/>
<circle class="b" cx="1090.0" cy="699.4" r="8.6" color="#cf719d"/>
<circle class="b" cx="864.4" cy="708.0" r="8.6" color="#c976a1"/>
<circle class="c" cx="1037.8" cy="709.6" r="8.6" color="#f0487c"/>
<circle class="b" cx="926.2" cy="720.3" r="8.6" color="#c479a6"/>
<circle class="c" cx="1014.1" cy="712.5" r="8.6" color="#f53e76"/>
<circle class="c" cx="1027.1" cy="721.3" r="8.6" color="#9d8fc1"/>
<circle class="b" cx="1044.5" cy="694.6" r="8.6" color="#d46c97"/>
<circle class="b" cx="1089.7" cy="702.2" r="8.6" color="#d96793"/>
<circle class="b" cx="904.4" cy="701.4" r="8.6" color="#ce719d"/>
<circle class="b" cx="1084.3" cy="721.2" r="8.6" color="#a28cbd"/>
<circle class="c" cx="1127.6" cy="721.3" r="8.6" color="#ef497c"/>
<circle class="b" cx="986.3" cy="696.2" r="8.6" color="#cf719c"/>
<circle class="b" cx="1113.6" cy="732.4" r="8.6" color="#ce729d"/>
<circle class="b" cx="895.8" cy="709.7" r="8.6" color="#cd729d"/>
<circle class="c" cx="1073.3" cy="736.7" r="8.6" color="#f44077"/>
<circle class="c" cx="1042.6" cy="680.8" r="8.6" color="#f53f77"/>
<circle class="b" cx="1064.7" cy="670.2" r="8.6" color="#d26e9a"/>
<circle class="b" cx="1001.7" cy="723.8" r="8.6" color="#cd729e"/>
<circle class="b" cx="1076.1" cy="743.2" r="8.6" color="#d16f9a"/>
<circle class="c" cx="1048.0" cy="697.4" r="8.6" color="#8c95ca"/>
<circle class="b" cx="1064.0" cy="698.3" r="8.6" color="#9f8ebf"/>
<circle class="b" cx="1105.5" cy="681.9" r="8.6" color="#ce729d"/>
<circle class="b" cx="879.9" cy="702.2" r="8.6" color="#cb749f"/>
<circle class="b" cx="886.6" cy="709.9" r="8.6" color="#ce719d"/>
<circle class="c" cx="1130.9" cy="695.2" r="8.6" color="#ed4e7f"/>
<circle class="c" cx="1173.5" cy="709.6" r="8.6" color="#9c8fc1"/>
<circle class="c" cx="1073.3" cy="686.6" r="8.6" color="#9094c8"/>
<circle class="b" cx="1045.3" cy="702.3" r="8.6" color="#a28dbe"/>
<circle class="c" cx="966.5" cy="722.2" r="8.6" color="#ec4f80"/>
<circle class="b" cx="1031.9" cy="703.2" r="8.6" color="#cd729e"/>
<circle class="b" cx="1050.5" cy="734.6" r="8.6" color="#a08dbf"/>
<circle class="b" cx="972.1" cy="719.5" r="8.6" color="#c777a3"/>
<circle class="b" cx="1123.1" cy="714.6" r="8.6" color="#d76994"/>
<circle class="c" cx="1062.9" cy="705.5" r="8.6" color="#9791c4"/>
<circle class="b" cx="1029.1" cy="704.0" r="8.6" color="#d16f9b"/>
<circle class="b" cx="952.3" cy="717.4" r="8.6" color="#d16e9a"/>
<circle class="b" cx="1035.8" cy="677.9" r="8.6" color="#cd729e"/>
<circle class="c" cx="1101.0" cy="712.4" r="8.6" color="#8f94c9"/>
<circle class="b" cx="1077.3" cy="707.2" r="8.6" color="#d96793"/>
<circle class="c" cx="1149.8" cy="717.0" r="8.6" color="#ee4c7e"/>
<circle class="c" cx="1117.4" cy="707.2" r="8.6" color="#9592c5"/>
<circle class="b" cx="929.8" cy="721.3" r="8.6" color="#cc739f"/>
<circle class="b" cx="1060.4" cy="718.3" r="8.6" color="#d16f9a"/>
<circle class="b" cx="1057.5" cy="706.9" r="8.6" color="#d56b96"/>
<circle class="b" cx="1026.4" cy="735.7" r="8.6" color="#cd729e"/>
<circle class="b" cx="1083.9" cy="704.0" r="8.6" color="#d56b97"/>
<circle class="b" cx="1109.7" cy="733.6" r="8.6" color="#d46c97"/>
<circle class="b" cx="966.5" cy="708.6" r="8.6" color="#c777a3"/>
<circle class="b" cx="954.5" cy="710.4" r="8.6" color="#cc739f"/>
<circle class="b" cx="1115.7" cy="713.3" r="8.6" color="#d06f9b"/>
<circle class="b" cx="1029.3" cy="701.9" r="8.6" color="#d76995"/>
<circle class="c" cx="947.6" cy="715.3" r="8.6" color="#ef4a7d"/>
<circle class="b" cx="1073.4" cy="698.9" r="8.6" color="#d0709b"/>
<circle class="b" cx="990.9" cy="716.9" r="8.6" color="#ce719d"/>
<circle class="c" cx="1147.8" cy="713.3" r="8.6" color="#ee4c7e"/>
<circle class="c" cx="1029.4" cy="687.2" r="8.6" color="#ee4c7e"/>
<circle class="c" cx="1121.5" cy="696.6" r="8.6" color="#9c8fc1"/>
<circle class="b" cx="1028.6" cy="716.3" r="8.6" color="#d76995"/>
<circle class="c" cx="1076.6" cy="698.1" r="8.6" color="#f2457a"/>
<circle class="b" cx="1077.3" cy="684.0" r="8.6" color="#a18dbe"/>
<circle class="c" cx="1053.3" cy="710.3" r="8.6" color="#ec4f80"/>
<circle class="b" cx="1161.7" cy="709.7" r="8.6" color="#d66a96"/>
<circle class="b" cx="940.9" cy="715.3" r="8.6" color="#c777a3"/>
<circle class="c" cx="1069.5" cy="741.9" r="8.6" color="#9691c4"/>
<circle class="b" cx="1163.6" cy="713.2" r="8.6" color="#d76a95"/>
<circle class="b" cx="1046.9" cy="694.7" r="8.6" color="#da6792"/>
<circle class="b" cx="1036.0" cy="709.9" r="8.6" color="#9d8fc1"/>
<circle class="c" cx="1103.5" cy="685.3" r="8.6" color="#f53d76"/>
<circle class="b" cx="1110.9" cy="709.2" r="8.6" color="#d86894"/>
<circle class="b" cx="1029.1" cy="727.6" r="8.6" color="#9d8ec0"/>
<circle class="b" cx="1063.4" cy="747.4" r="8.6" color="#d56b97"/>
<circle class="b" cx="879.1" cy="709.9" r="8.6" color="#cc739f"/>
<circle class="b" cx="1092.4" cy="729.8" r="8.6" color="#cd729e"/>
<circle class="c" cx="1143.3" cy="699.3" r="8.6" color="#e15f8c"/>
<circle class="b" cx="1110.4" cy="727.4" r="8.6" color="#da6793"/>
<circle class="b" cx="1033.0" cy="733.5" r="8.6" color="#d46c97"/>
<circle class="c" cx="1032.8" cy="739.0" r="8.6" color="#9293c7"/>
<circle class="b" cx="1181.1" cy="709.7" r="8.6" color="#d96793"/>
<circle class="c" cx="1082.3" cy="735.3" r="8.6" color="#f34278"/>
<circle class="b" cx="925.8" cy="698.9" r="8.6" color="#cd729e"/>
<circle class="b" cx="1048.9" cy="681.9" r="8.6" color="#d76995"/>
<circle class="c" cx="1060.9" cy="677.9" r="8.6" color="#8f94c9"/>
<circle class="c" cx="1176.5" cy="708.9" r="8.6" color="#e15e8b"/>
<circle class="c" cx="1057.0" cy="749.3" r="8.6" color="#ed4d7f"/>
<circle class="c" cx="1080.9" cy="698.8" r="8.6" color="#9492c5"/>
<circle class="b" cx="1128.4" cy="725.0" r="8.6" color="#d86894"/>
<circle class="b" cx="920.0" cy="722.7" r="8.6" color="#c777a3"/>
<circle class="c" cx="1016.3" cy="693.5" r="8.6" color="#ed4d7f"/>
<circle class="b" cx="1030.6" cy="681.2" r="8.6" color="#d76995"/>
<circle class="b" cx="920.5" cy="716.3" r="8.6" color="#cd739e"/>
<circle class="b" cx="1185.1" cy="707.6" r="8.6" color="#d66a96"/>
<circle class="c" cx="1036.6" cy="717.0" r="8.6" color="#f0487b"/>
<circle class="b" cx="1039.9" cy="679.0" r="8.6" color="#d36d99"/>
<circle class="c" cx="1077.8" cy="740.3" r="8.6" color="#ee4c7e"/>
<circle class="b" cx="1052.2" cy="693.5" r="8.6" color="#a18dbe"/>
<circle class="b" cx="1055.3" cy="670.3" r="8.6" color="#a38cbd"/>
<circle class="b" cx="987.2" cy="710.4" r="8.6" color="#c976a2"/>
<circle class="b" cx="1080.8" cy="674.1" r="8.6" color="#d0709b"/>
<circle class="c" cx="1054.2" cy="701.6" r="8.6" color="#9393c6"/>
<circle class="c" cx="1060.6" cy="676.7" r="8.6" color="#f1477b"/>
<circle class="c" cx="1021.1" cy="693.3" r="8.6" color="#f34379"/>
<circle class="b" cx="1076.9" cy="736.9" r="8.6" color="#d46c97"/>
<circle class="c" cx="905.8" cy="705.4" r="8.6" color="#ee4b7e"/>
<circle class="b" cx="1119.6" cy="708.2" r="8.6" color="#da6793"/>
<circle class="c" cx="1026.3" cy="700.9" r="8.6" color="#f44178"/>
<circle class="b" cx="1191.2" cy="709.9" r="8.6" color="#d96793"/>
<circle class="c" cx="1058.0" cy="692.1" r="8.6" color="#f0487b"/>
<circle class="b" cx="921.4" cy="705.2" r="8.6" color="#c37aa6"/>
<circle class="b" cx="1041.6" cy="719.2" r="8.6" color="#ce719d"/>
<circle class="b" cx="995.4" cy="719.3" r="8.6" color="#c975a1"/>
<circle class="b" cx="1087.6" cy="714.8" r="8.6" color="#cd729e"/>
<circle class="b" cx="1111.8" cy="688.9" r="8.6" color="#a28dbe"/>
<circle class="c" cx="1096.2" cy="732.9" r="8.6" color="#f53e76"/>
<circle class="c" cx="1045.5" cy="719.4" r="8.6" color="#ed4e7f"/>
<circle class="b" cx="1161.4" cy="714.8" r="8.6" color="#d76995"/>
<circle class="c" cx="1122.6" cy="708.6" r="8.6" color="#ee4c7e"/>
<circle class="c" cx="1038.8" cy="740.8" r="8.6" color="#9791c4"/>
<circle class="c" cx="1100.5" cy="689.4" r="8.6" color="#f2447a"/>
<circle class="c" cx="1118.5" cy="689.8" r="8.6" color="#ef4a7d"/>
<circle class="b" cx="914.1" cy="715.4" r="8.6" color="#cd729d"/>
<circle class="b" cx="1122.0" cy="727.0" r="8.6" color="#d66a96"/>
<circle class="b" cx="960.0" cy="709.4" r="8.6" color="#cc739f"/>
<circle class="b" cx="945.1" cy="717.5" r="8.6" color="#cc739f"/>
<circle class="c" cx="1072.1" cy="734.6" r="8.6" color="#f2457a"/>
<circle class="b" cx="918.5" cy="706.2" r="8.6" color="#c777a3"/>
<circle class="c" cx="1133.5" cy="708.4" r="8.6" color="#9392c6"/>
<circle class="b" cx="1060.8" cy="686.5" r="8.6" color="#d26d99"/>
<circle class="c" cx="1077.7" cy="683.4" r="8.6" color="#8e94c9"/>
<circle class="b" cx="915.7" cy="721.3" r="8.6" color="#cc739f"/>
<circle class="b" cx="956.5" cy="701.5" r="8.6" color="#d06f9b"/>
<circle class="c" cx="1089.0" cy="741.6" r="8.6" color="#ec4e80"/>
<circle class="c" cx="1010.7" cy="698.8" r="8.6" color="#ef4a7d"/>
<circle class="b" cx="1061.7" cy="715.3" r="8.6" color="#d86894"/>
<circle class="c" cx="977.3" cy="712.4" r="8.6" color="#ee4c7e"/>
<circle class="b" cx="900.3" cy="702.8" r="8.6" color="#c579a5"/>
<circle class="c" cx="1069.7" cy="681.4" r="8.6" color="#f1467a"/>
<circle class="b" cx="1091.5" cy="709.8" r="8.6" color="#d66a96"/>
<circle class="c" cx="1092.3" cy="683.3" r="8.6" color="#ee4c7e"/>
<circle class="c" cx="1058.9" cy="742.6" r="8.6" color="#ed4d7f"/>
<circle class="b" cx="1067.2" cy="734.0" r="8.6" color="#9d8fc0"/>
<circle class="b" cx="1073.9" cy="684.1" r="8.6" color="#d66a96"/>
<circle class="c" cx="984.1" cy="705.1" r="8.6" color="#f1467b"/>
<circle class="c" cx="1200.0" cy="709.0" r="8.6" color="#9d8fc1"/>
<circle class="c" cx="1209.0" cy="710.0" r="8.6" color="#9d8fc1"/>
<circle class="c" cx="1217.0" cy="709.0" r="8.6" color="#9d8fc1"/>
<circle class="c" cx="1224.0" cy="710.0" r="8.6" color="#9d8fc1"/>
<circle class="c" cx="1231.0" cy="709.0" r="8.6" color="#9d8fc1"/>
<circle class="c" cx="1238.0" cy="710.0" r="8.6" color="#9d8fc1"/>
<circle class="c" cx="1245.0" cy="709.0" r="8.6" color="#9d8fc1"/>
<circle class="c" cx="1213.0" cy="712.0" r="8.6" color="#9d8fc1"/>
<circle class="c" cx="1264.0" cy="710.0" r="8.6" color="#e75685"/>
<circle class="c" cx="1292.5" cy="710.0" r="8.6" color="#e75685"/>
</g>
<g>
<circle class="c" cx="746.0" cy="819.0" r="8.6" color="#ea5383"/>
<circle class="d" cx="798.0" cy="818.0" r="8.6" color="#fa3171"/>
<circle class="d" cx="802.0" cy="819.0" r="8.6" color="#fa3171"/>
<circle class="d" cx="806.0" cy="818.0" r="8.6" color="#fa3171"/>
<circle class="d" cx="809.0" cy="820.0" r="8.6" color="#fa3171"/>
<circle class="d" cx="1200.4" cy="833.2" r="8.6" color="#1ea8e8"/>
<circle class="d" cx="820.2" cy="815.5" r="8.6" color="#f83773"/>
<circle class="b" cx="992.1" cy="822.8" r="8.6" color="#d36d99"/>
<circle class="c" cx="1070.9" cy="812.0" r="8.6" color="#799bd3"/>
<circle class="b" cx="928.3" cy="810.5" r="8.6" color="#d26e9a"/>
<circle class="c" cx="890.9" cy="812.7" r="8.6" color="#8298cf"/>
<circle class="d" cx="1099.0" cy="852.7" r="8.6" color="#20a8e8"/>
<circle class="b" cx="1082.2" cy="835.1" r="8.6" color="#d16f9a"/>
<circle class="c" cx="1202.0" cy="806.4" r="8.6" color="#9b8fc2"/>
<circle class="b" cx="902.5" cy="834.1" r="8.6" color="#d0709b"/>
<circle class="d" cx="1099.4" cy="793.2" r="8.6" color="#1ea8e8"/>
<circle class="d" cx="1118.3" cy="813.5" r="8.6" color="#23a8e8"/>
<circle class="d" cx="1233.7" cy="808.8" r="8.6" color="#26a8e7"/>
<circle class="d" cx="1173.5" cy="791.5" r="8.6" color="#23a8e8"/>
<circle class="b" cx="1041.2" cy="796.7" r="8.6" color="#d76a95"/>
<circle class="d" cx="1230.6" cy="828.9" r="8.6" color="#1ea8e8"/>
<circle class="d" cx="1070.7" cy="784.3" r="8.6" color="#f73a74"/>
<circle class="d" cx="1210.6" cy="810.7" r="8.6" color="#2ba7e7"/>
<circle class="d" cx="1154.9" cy="792.1" r="8.6" color="#1ea8e8"/>
<circle class="d" cx="1127.9" cy="852.5" r="8.6" color="#1ea8e8"/>
<circle class="b" cx="1004.8" cy="846.6" r="8.6" color="#d26e99"/>
<circle class="d" cx="1142.2" cy="822.4" r="8.6" color="#27a7e7"/>
<circle class="d" cx="1112.3" cy="840.5" r="8.6" color="#2aa7e7"/>
<circle class="d" cx="1093.1" cy="814.3" r="8.6" color="#20a8e8"/>
<circle class="d" cx="1046.5" cy="839.2" r="8.6" color="#1ea8e8"/>
<circle class="d" cx="986.9" cy="812.0" r="8.6" color="#fb2f70"/>
<circle class="d" cx="1191.9" cy="817.6" r="8.6" color="#2ca7e7"/>
<circle class="b" cx="977.0" cy="825.4" r="8.6" color="#d46c98"/>
<circle class="d" cx="1058.8" cy="789.8" r="8.6" color="#35a6e5"/>
<circle class="d" cx="1150.7" cy="845.0" r="8.6" color="#24a8e7"/>
<circle class="d" cx="1258.9" cy="817.0" r="8.6" color="#24a8e7"/>
<circle class="d" cx="1103.6" cy="859.4" r="8.6" color="#1ea8e8"/>
<circle class="c" cx="929.9" cy="821.2" r="8.6" color="#f44077"/>
<circle class="d" cx="1036.4" cy="839.9" r="8.6" color="#2da7e6"/>
<circle class="b" cx="815.2" cy="820.3" r="8.6" color="#ce719d"/>
<circle class="b" cx="1128.3" cy="784.0" r="8.6" color="#d66a96"/>
<circle class="d" cx="1184.2" cy="804.8" r="8.6" color="#1ea8e8"/>
<circle class="b" cx="1052.7" cy="814.8" r="8.6" color="#d56b96"/>
<circle class="d" cx="1091.3" cy="791.6" r="8.6" color="#1fa8e8"/>
<circle class="d" cx="1104.2" cy="800.1" r="8.6" color="#26a8e7"/>
<circle class="d" cx="1179.7" cy="839.5" r="8.6" color="#1ea8e8"/>
<circle class="d" cx="1245.5" cy="820.8" r="8.6" color="#1ea8e8"/>
<circle class="d" cx="1177.9" cy="819.7" r="8.6" color="#1ea8e8"/>
<circle class="b" cx="909.4" cy="808.6" r="8.6" color="#d66a95"/>
<circle class="b" cx="856.8" cy="825.2" r="8.6" color="#cb74a0"/>
<circle class="d" cx="944.2" cy="821.4" r="8.6" color="#fa3371"/>
<circle class="d" cx="1152.0" cy="821.5" r="8.6" color="#22a8e8"/>
<circle class="d" cx="1038.1" cy="820.2" r="8.6" color="#1ea8e8"/>
<circle class="d" cx="1122.2" cy="798.9" r="8.6" color="#24a8e7"/>
<circle class="b" cx="1064.8" cy="798.7" r="8.6" color="#d76995"/>
<circle class="b" cx="936.8" cy="835.8" r="8.6" color="#d26e99"/>
<circle class="d" cx="1178.7" cy="845.4" r="8.6" color="#1ea8e8"/>
<circle class="d" cx="956.7" cy="833.0" r="8.6" color="#f93472"/>
<circle class="c" cx="834.6" cy="825.9" r="8.6" color="#8099cf"/>
<circle class="b" cx="968.7" cy="842.4" r="8.6" color="#d0709b"/>
<circle class="d" cx="1132.3" cy="820.5" r="8.6" color="#2da7e6"/>
<circle class="b" cx="1031.6" cy="818.3" r="8.6" color="#d66a96"/>
<circle class="d" cx="999.0" cy="798.1" r="8.6" color="#fb2f70"/>
<circle class="d" cx="1061.7" cy="809.6" r="8.6" color="#27a8e7"/>
<circle class="b" cx="1028.8" cy="797.9" r="8.6" color="#d86894"/>
<circle class="d" cx="1090.5" cy="840.9" r="8.6" color="#1ea8e8"/>
<circle class="d" cx="1169.9" cy="790.6" r="8.6" color="#1ea8e8"/>
<circle class="c" cx="953.9" cy="797.4" r="8.6" color="#8398ce"/>
<circle class="d" cx="1143.0" cy="846.9" r="8.6" color="#1ea8e8"/>
<circle class="b" cx="1008.8" cy="833.0" r="8.6" color="#d76994"/>
<circle class="c" cx="978.6" cy="803.7" r="8.6" color="#8a96cb"/>
<circle class="b" cx="1019.2" cy="835.6" r="8.6" color="#d96793"/>
<circle class="d" cx="1123.2" cy="834.5" r="8.6" color="#1ea8e8"/>
<circle class="b" cx="828.7" cy="817.0" r="8.6" color="#d66a96"/>
<circle class="d" cx="1053.2" cy="827.4" r="8.6" color="#31a7e6"/>
<circle class="d" cx="1094.2" cy="819.1" r="8.6" color="#1ea8e8"/>
<circle class="d" cx="1220.1" cy="832.3" r="8.6" color="#1ea8e8"/>
<circle class="b" cx="1144.5" cy="794.0" r="8.6" color="#cd729e"/>
<circle class="d" cx="1065.8" cy="789.1" r="8.6" color="#1ea8e8"/>
<circle class="d" cx="1107.2" cy="823.8" r="8.6" color="#1ea8e8"/>
<circle class="c" cx="943.4" cy="796.9" r="8.6" color="#8f94c9"/>
<circle class="c" cx="871.4" cy="819.5" r="8.6" color="#f34278"/>
<circle class="d" cx="1213.7" cy="834.3" r="8.6" color="#24a8e7"/>
<circle class="c" cx="899.6" cy="815.3" r="8.6" color="#8398ce"/>
<circle class="d" cx="1082.6" cy="815.8" r="8.6" color="#29a7e7"/>
<circle class="c" cx="968.8" cy="812.6" r="8.6" color="#8498ce"/>
<circle class="d" cx="1157.9" cy="795.1" r="8.6" color="#23a8e8"/>
<circle class="c" cx="870.9" cy="807.5" r="8.6" color="#f53f77"/>
<circle class="c" cx="1063.0" cy="825.9" r="8.6" color="#8598cd"/>
<circle class="d" cx="1161.1" cy="852.8" r="8.6" color="#2ba7e7"/>
<circle class="d" cx="1184.4" cy="797.6" r="8.6" color="#2ca7e6"/>
<circle class="d" cx="1147.5" cy="807.6" r="8.6" color="#1ea8e8"/>
<circle class="d" cx="1150.0" cy="857.4" r="8.6" color="#2fa7e6"/>
<circle class="b" cx="1079.6" cy="852.5" r="8.6" color="#d26e99"/>
<circle class="c" cx="926.2" cy="803.4" r="8.6" color="#7d9ad1"/>
<circle class="d" cx="1088.6" cy="806.2" r="8.6" color="#1ea8e8"/>
<circle class="c" cx="977.8" cy="798.9" r="8.6" color="#7b9ad2"/>
<circle class="d" cx="1201.8" cy="841.0" r="8.6" color="#2ca7e6"/>
<circle class="b" cx="957.7" cy="815.6" r="8.6" color="#d36d99"/>
<circle class="d" cx="914.8" cy="822.2" r="8.6" color="#26a8e7"/>
<circle class="b" cx="1071.7" cy="819.6" r="8.6" color="#d56b97"/>
<circle class="c" cx="856.6" cy="813.4" r="8.6" color="#8c95ca"/>
<circle class="b" cx="1217.0" cy="805.1" r="8.6" color="#d0709c"/>
<circle class="d" cx="1252.7" cy="814.8" r="8.6" color="#1ea8e8"/>
<circle class="c" cx="984.6" cy="827.8" r="8.6" color="#8298ce"/>
<circle class="d" cx="1160.3" cy="806.6" r="8.6" color="#1ea8e8"/>
<circle class="c" cx="980.5" cy="843.6" r="8.6" color="#8a96cb"/>
<circle class="d" cx="1222.9" cy="821.5" r="8.6" color="#1ea8e8"/>
<circle class="d" cx="1066.6" cy="855.0" r="8.6" color="#1ea8e8"/>
<circle class="d" cx="1186.3" cy="830.3" r="8.6" color="#1ea8e8"/>
<circle class="d" cx="1091.5" cy="808.2" r="8.6" color="#33a7e6"/>
<circle class="c" cx="1020.9" cy="844.0" r="8.6" color="#f44178"/>
<circle class="d" cx="981.3" cy="821.8" r="8.6" color="#1ea8e8"/>
<circle class="d" cx="1130.4" cy="841.2" r="8.6" color="#33a7e6"/>
<circle class="c" cx="907.3" cy="837.1" r="8.6" color="#8398ce"/>
<circle class="c" cx="881.6" cy="816.2" r="8.6" color="#f63d76"/>
<circle class="d" cx="1170.9" cy="851.0" r="8.6" color="#2fa7e6"/>
<circle class="d" cx="1205.7" cy="830.9" r="8.6" color="#1ea8e8"/>
<circle class="d" cx="1101.5" cy="824.2" r="8.6" color="#1ea8e8"/>
<circle class="b" cx="1036.4" cy="802.0" r="8.6" color="#d26e9a"/>
<circle class="c" cx="1006.1" cy="802.8" r="8.6" color="#f44178"/>
<circle class="d" cx="1101.7" cy="814.6" r="8.6" color="#1ea8e8"/>
<circle class="b" cx="1050.2" cy="795.5" r="8.6" color="#d96793"/>
<circle class="b" cx="929.9" cy="829.5" r="8.6" color="#ca75a1"/>
<circle class="c" cx="922.0" cy="841.0" r="8.6" color="#9094c8"/>
<circle class="d" cx="1206.6" cy="820.6" r="8.6" color="#1ea8e8"/>
<circle class="d" cx="1118.4" cy="828.5" r="8.6" color="#1ea8e8"/>
<circle class="d" cx="1194.7" cy="823.3" r="8.6" color="#31a7e6"/>
<circle class="c" cx="1017.1" cy="804.0" r="8.6" color="#8597cd"/>
<circle class="b" cx="998.0" cy="843.4" r="8.6" color="#cd729e"/>
<circle class="d" cx="1134.9" cy="813.3" r="8.6" color="#1ea8e8"/>
<circle class="d" cx="1155.9" cy="813.6" r="8.6" color="#1ea8e8"/>
<circle class="b" cx="1009.6" cy="817.2" r="8.6" color="#d16f9a"/>
<circle class="d" cx="999.0" cy="815.7" r="8.6" color="#28a7e7"/>
<circle class="b" cx="1028.7" cy="832.6" r="8.6" color="#d76995"/>
<circle class="c" cx="889.9" cy="820.5" r="8.6" color="#f34279"/>
<circle class="d" cx="1097.7" cy="784.5" r="8.6" color="#2ea7e6"/>
<circle class="d" cx="1097.2" cy="837.3" r="8.6" color="#1ea8e8"/>
<circle class="c" cx="891.3" cy="833.8" r="8.6" color="#8597cd"/>
<circle class="d" cx="1082.6" cy="842.7" r="8.6" color="#31a7e6"/>
<circle class="d" cx="1062.4" cy="840.7" r="8.6" color="#1ea8e8"/>
<circle class="c" cx="1073.9" cy="794.5" r="8.6" color="#8498ce"/>
<circle class="c" cx="918.6" cy="826.0" r="8.6" color="#8398ce"/>
<circle class="c" cx="874.5" cy="813.0" r="8.6" color="#759cd4"/>
<circle class="c" cx="1109.2" cy="796.9" r="8.6" color="#9990c3"/>
<circle class="d" cx="1195.2" cy="797.0" r="8.6" color="#1ea8e8"/>
<circle class="d" cx="1086.7" cy="849.4" r="8.6" color="#2da7e6"/>
<circle class="d" cx="1107.2" cy="848.9" r="8.6" color="#2fa7e6"/>
<circle class="d" cx="1137.4" cy="791.1" r="8.6" color="#1ea8e8"/>
<circle class="d" cx="1140.5" cy="785.6" r="8.6" color="#1ea8e8"/>
<circle class="b" cx="1016.2" cy="794.7" r="8.6" color="#d16e9a"/>
<circle class="c" cx="1062.6" cy="814.0" r="8.6" color="#8f94c8"/>
<circle class="c" cx="1076.3" cy="801.6" r="8.6" color="#9194c8"/>
<circle class="d" cx="1199.3" cy="815.4" r="8.6" color="#1ea8e8"/>
<circle class="d" cx="1140.6" cy="841.4" r="8.6" color="#2da7e6"/>
<circle class="d" cx="1126.3" cy="836.6" r="8.6" color="#30a7e6"/>
<circle class="c" cx="921.2" cy="834.8" r="8.6" color="#8498ce"/>
<circle class="d" cx="1129.0" cy="849.0" r="8.6" color="#2ea7e6"/>
<circle class="d" cx="1151.0" cy="781.5" r="8.6" color="#1ea8e8"/>
<circle class="b" cx="914.7" cy="802.4" r="8.6" color="#d46c98"/>
<circle class="d" cx="1085.3" cy="787.9" r="8.6" color="#1ea8e8"/>
<circle class="c" cx="952.1" cy="824.6" r="8.6" color="#8f94c8"/>
<circle class="b" cx="937.3" cy="798.4" r="8.6" color="#ce719d"/>
<circle class="b" cx="1029.7" cy="844.1" r="8.6" color="#d16f9b"/>
<circle class="d" cx="1129.9" cy="791.5" r="8.6" color="#1ea8e8"/>
<circle class="d" cx="1183.2" cy="850.4" r="8.6" color="#26a8e7"/>
<circle class="d" cx="1151.1" cy="803.5" r="8.6" color="#1ea8e8"/>
<circle class="b" cx="1060.4" cy="801.5" r="8.6" color="#d0709c"/>
<circle class="d" cx="1178.2" cy="811.1" r="8.6" color="#23a8e8"/>
<circle class="c" cx="961.9" cy="839.1" r="8.6" color="#f44178"/>
<circle class="c" cx="992.2" cy="808.3" r="8.6" color="#8199cf"/>
<circle class="d" cx="1181.5" cy="822.9" r="8.6" color="#34a6e5"/>
<circle class="b" cx="1057.8" cy="798.8" r="8.6" color="#d86994"/>
<circle class="d" cx="1136.7" cy="780.8" r="8.6" color="#34a7e5"/>
<circle class="d" cx="1079.4" cy="803.8" r="8.6" color="#2ba7e7"/>
<circle class="b" cx="1156.0" cy="783.9" r="8.6" color="#da6692"/>
<circle class="c" cx="945.8" cy="832.6" r="8.6" color="#8199cf"/>
<circle class="b" cx="1031.0" cy="809.2" r="8.6" color="#d56b96"/>
<circle class="d" cx="1135.5" cy="854.1" r="8.6" color="#1ea8e8"/>
<circle class="c" cx="896.6" cy="803.9" r="8.6" color="#8099cf"/>
<circle class="c" cx="996.1" cy="801.2" r="8.6" color="#8a96cb"/>
<circle class="b" cx="1078.9" cy="794.3" r="8.6" color="#d46c98"/>
<circle class="d" cx="1190.0" cy="846.1" r="8.6" color="#1ea8e8"/>
<circle class="d" cx="1103.2" cy="822.8" r="8.6" color="#1ea8e8"/>
<circle class="d" cx="1179.5" cy="800.6" r="8.6" color="#1ea8e8"/>
<circle class="b" cx="1059.7" cy="826.1" r="8.6" color="#d66b96"/>
<circle class="d" cx="1251.7" cy="825.0" r="8.6" color="#1ea8e8"/>
<circle class="c" cx="925.7" cy="839.2" r="8.6" color="#7f99d0"/>
<circle class="d" cx="1088.2" cy="835.7" r="8.6" color="#31a7e6"/>
<circle class="b" cx="1129.6" cy="834.4" r="8.6" color="#d26d99"/>
<circle class="c" cx="991.1" cy="816.3" r="8.6" color="#789bd3"/>
<circle class="d" cx="1179.1" cy="833.1" r="8.6" color="#1ea8e8"/>
<circle class="c" cx="1086.4" cy="813.7" r="8.6" color="#8f94c8"/>
<circle class="d" cx="1187.7" cy="815.6" r="8.6" color="#1ea8e8"/>
<circle class="d" cx="1149.7" cy="790.2" r="8.6" color="#1ea8e8"/>
<circle class="d" cx="1196.5" cy="839.8" r="8.6" color="#22a8e8"/>
<circle class="d" cx="1119.0" cy="805.4" r="8.6" color="#23a8e8"/>
<circle class="d" cx="1095.4" cy="831.8" r="8.6" color="#25a8e7"/>
<circle class="d" cx="1106.0" cy="781.5" r="8.6" color="#1ea8e8"/>
<circle class="d" cx="1188.9" cy="811.6" r="8.6" color="#1ea8e8"/>
<circle class="d" cx="1114.1" cy="857.2" r="8.6" color="#2ba7e7"/>
<circle class="d" cx="1232.7" cy="815.6" r="8.6" color="#1ea8e8"/>
<circle class="d" cx="1189.5" cy="806.5" r="8.6" color="#2aa7e7"/>
<circle class="d" cx="1119.2" cy="849.3" r="8.6" color="#27a8e7"/>
<circle class="d" cx="1161.5" cy="828.4" r="8.6" color="#1ea8e8"/>
<circle class="d" cx="1235.9" cy="814.6" r="8.6" color="#32a7e6"/>
<circle class="d" cx="1183.6" cy="827.4" r="8.6" color="#1ea8e8"/>
<circle class="d" cx="1104.2" cy="812.4" r="8.6" color="#23a8e8"/>
<circle class="d" cx="1173.2" cy="805.4" r="8.6" color="#33a7e6"/>
<circle class="c" cx="847.4" cy="827.4" r="8.6" color="#779bd3"/>
<circle class="d" cx="1090.0" cy="786.3" r="8.6" color="#30a7e6"/>
<circle class="d" cx="1120.7" cy="848.9" r="8.6" color="#33a7e6"/>
<circle class="d" cx="1167.4" cy="813.3" r="8.6" color="#1ea8e8"/>
<circle class="b" cx="1024.5" cy="834.4" r="8.6" color="#d56b96"/>
<circle class="b" cx="1010.3" cy="843.0" r="8.6" color="#d06f9b"/>
<circle class="b" cx="1046.5" cy="806.0" r="8.6" color="#d26e9a"/>
<circle class="c" cx="1000.0" cy="806.1" r="8.6" color="#7b9ad2"/>
<circle class="d" cx="1162.3" cy="817.1" r="8.6" color="#1ea8e8"/>
<circle class="d" cx="982.5" cy="811.7" r="8.6" color="#32a7e6"/>
<circle class="d" cx="1170.7" cy="811.8" r="8.6" color="#1ea8e8"/>
<circle class="d" cx="1094.1" cy="857.6" r="8.6" color="#1ea8e8"/>
<circle class="b" cx="1056.2" cy="811.4" r="8.6" color="#d76995"/>
<circle class="d" cx="1132.3" cy="812.5" r="8.6" color="#34a6e5"/>
<circle class="d" cx="1130.9" cy="778.6" r="8.6" color="#1ea8e8"/>
<circle class="d" cx="1244.3" cy="824.3" r="8.6" color="#27a7e7"/>
<circle class="d" cx="1226.2" cy="806.2" r="8.6" color="#1ea8e8"/>
<circle class="d" cx="1123.4" cy="858.3" r="8.6" color="#21a8e8"/>
<circle class="d" cx="1152.7" cy="857.2" r="8.6" color="#1ea8e8"/>
<circle class="b" cx="916.1" cy="838.2" r="8.6" color="#d26e9a"/>
<circle class="c" cx="954.1" cy="830.7" r="8.6" color="#7a9bd2"/>
<circle class="d" cx="962.0" cy="806.6" r="8.6" color="#21a8e8"/>
<circle class="d" cx="1142.1" cy="855.9" r="8.6" color="#27a7e7"/>
<circle class="d" cx="1092.2" cy="820.6" r="8.6" color="#1ea8e8"/>
<circle class="d" cx="1023.8" cy="815.9" r="8.6" color="#31a7e6"/>
<circle class="d" cx="1094.4" cy="826.1" r="8.6" color="#29a7e7"/>
<circle class="b" cx="955.3" cy="808.0" r="8.6" color="#d76995"/>
<circle class="b" cx="864.7" cy="808.4" r="8.6" color="#d06f9b"/>
<circle class="d" cx="849.9" cy="822.2" r="8.6" color="#1ea8e8"/>
<circle class="d" cx="1132.4" cy="799.3" r="8.6" color="#2ca7e7"/>
<circle class="d" cx="1179.3" cy="794.9" r="8.6" color="#1ea8e8"/>
<circle class="d" cx="1190.6" cy="791.9" r="8.6" color="#1ea8e8"/>
<circle class="d" cx="1175.3" cy="808.5" r="8.6" color="#25a8e7"/>
<circle class="d" cx="1119.4" cy="839.7" r="8.6" color="#1ea8e8"/>
<circle class="b" cx="950.8" cy="804.3" r="8.6" color="#ca74a0"/>
<circle class="d" cx="1130.3" cy="824.6" r="8.6" color="#24a8e7"/>
<circle class="b" cx="1015.8" cy="820.1" r="8.6" color="#d56b96"/>
<circle class="d" cx="1052.1" cy="829.3" r="8.6" color="#22a8e8"/>
<circle class="c" cx="1014.5" cy="812.1" r="8.6" color="#9193c7"/>
<circle class="b" cx="1000.4" cy="833.2" r="8.6" color="#cc739e"/>
<circle class="d" cx="1170.4" cy="845.0" r="8.6" color="#1ea8e8"/>
<circle class="d" cx="1040.3" cy="806.3" r="8.6" color="#f93371"/>
<circle class="d" cx="1186.4" cy="836.1" r="8.6" color="#29a7e7"/>
<circle class="c" cx="1027.6" cy="805.7" r="8.6" color="#8897cc"/>
<circle class="d" cx="1091.2" cy="818.1" r="8.6" color="#1ea8e8"/>
<circle class="d" cx="1183.8" cy="846.0" r="8.6" color="#33a7e6"/>
<circle class="d" cx="1108.6" cy="802.0" r="8.6" color="#1ea8e8"/>
<circle class="d" cx="1137.2" cy="828.7" r="8.6" color="#1ea8e8"/>
<circle class="d" cx="1176.6" cy="795.7" r="8.6" color="#1ea8e8"/>
<circle class="d" cx="1107.7" cy="859.2" r="8.6" color="#1ea8e8"/>
<circle class="c" cx="1081.0" cy="819.8" r="8.6" color="#8697cd"/>
<circle class="b" cx="1207.8" cy="799.8" r="8.6" color="#cf719c"/>
<circle class="d" cx="1174.1" cy="797.7" r="8.6" color="#29a7e7"/>
<circle class="c" cx="985.5" cy="801.0" r="8.6" color="#8797cc"/>
<circle class="d" cx="1240.8" cy="812.2" r="8.6" color="#1ea8e8"/>
<circle class="d" cx="1113.3" cy="781.5" r="8.6" color="#1ea8e8"/>
<circle class="d" cx="1222.7" cy="826.3" r="8.6" color="#35a6e5"/>
<circle class="d" cx="1113.1" cy="829.1" r="8.6" color="#26a8e7"/>
<circle class="d" cx="1068.1" cy="854.2" r="8.6" color="#21a8e8"/>
<circle class="d" cx="931.6" cy="825.7" r="8.6" color="#fa3171"/>
<circle class="d" cx="1087.2" cy="783.2" r="8.6" color="#31a7e6"/>
<circle class="b" cx="878.6" cy="835.4" r="8.6" color="#cd729e"/>
<circle class="d" cx="1218.7" cy="823.8" r="8.6" color="#1ea8e8"/>
<circle class="d" cx="1110.2" cy="799.8" r="8.6" color="#1ea8e8"/>
<circle class="d" cx="1117.3" cy="800.9" r="8.6" color="#2da7e6"/>
<circle class="d" cx="1086.5" cy="790.4" r="8.6" color="#1fa8e8"/>
<circle class="d" cx="1141.5" cy="806.3" r="8.6" color="#1ea8e8"/>
<circle class="d" cx="1162.2" cy="855.9" r="8.6" color="#1ea8e8"/>
<circle class="b" cx="908.8" cy="814.5" r="8.6" color="#d06f9b"/>
<circle class="d" cx="1052.2" cy="837.6" r="8.6" color="#1ea8e8"/>
<circle class="d" cx="1204.7" cy="805.8" r="8.6" color="#29a7e7"/>
<circle class="b" cx="1166.6" cy="836.7" r="8.6" color="#d46c98"/>
<circle class="b" cx="845.1" cy="819.7" r="8.6" color="#d0709c"/>
<circle class="d" cx="1056.3" cy="821.2" r="8.6" color="#f83672"/>
<circle class="d" cx="1068.4" cy="798.1" r="8.6" color="#1ea8e8"/>
<circle class="d" cx="1014.2" cy="815.4" r="8.6" color="#f83873"/>
<circle class="d" cx="1008.3" cy="821.8" r="8.6" color="#f73974"/>
<circle class="d" cx="1163.4" cy="827.0" r="8.6" color="#24a8e7"/>
<circle class="d" cx="1183.1" cy="789.5" r="8.6" color="#1ea8e8"/>
<circle class="d" cx="1154.8" cy="822.0" r="8.6" color="#30a7e6"/>
<circle class="d" cx="1166.5" cy="835.6" r="8.6" color="#1ea8e8"/>
<circle class="d" cx="1148.7" cy="794.5" r="8.6" color="#1ea8e8"/>
<circle class="d" cx="1132.0" cy="786.6" r="8.6" color="#1ea8e8"/>
<circle class="b" cx="923.0" cy="802.4" r="8.6" color="#d16f9a"/>
<circle class="d" cx="1175.0" cy="853.3" r="8.6" color="#1ea8e8"/>
<circle class="d" cx="981.5" cy="804.0" r="8.6" color="#fb2e70"/>
<circle class="d" cx="1146.0" cy="856.1" r="8.6" color="#2ba7e7"/>
<circle class="b" cx="921.3" cy="811.5" r="8.6" color="#d36d98"/>
<circle class="c" cx="862.3" cy="825.5" r="8.6" color="#f2447a"/>
<circle class="d" cx="1198.7" cy="834.0" r="8.6" color="#1ea8e8"/>
<circle class="c" cx="1020.8" cy="792.0" r="8.6" color="#8398ce"/>
<circle class="d" cx="1104.9" cy="803.8" r="8.6" color="#34a6e5"/>
<circle class="d" cx="1159.6" cy="793.1" r="8.6" color="#2ea7e6"/>
<circle class="b" cx="982.3" cy="838.0" r="8.6" color="#d06f9b"/>
<circle class="b" cx="1042.6" cy="793.9" r="8.6" color="#d66a96"/>
<circle class="d" cx="1131.6" cy="829.3" r="8.6" color="#1ea8e8"/>
<circle class="c" cx="1030.8" cy="825.9" r="8.6" color="#8597cd"/>
<circle class="b" cx="974.1" cy="838.3" r="8.6" color="#d66a96"/>
<circle class="b" cx="1197.7" cy="804.8" r="8.6" color="#ce719d"/>
<circle class="d" cx="1117.2" cy="791.7" r="8.6" color="#1ea8e8"/>
<circle class="c" cx="977.2" cy="836.8" r="8.6" color="#8797cc"/>
<circle class="d" cx="1128.3" cy="823.9" r="8.6" color="#22a8e8"/>
<circle class="c" cx="935.5" cy="832.4" r="8.6" color="#8b95ca"/>
<circle class="d" cx="1209.7" cy="828.2" r="8.6" color="#1ea8e8"/>
<circle class="c" cx="1080.9" cy="828.7" r="8.6" color="#9891c3"/>
<circle class="d" cx="1223.8" cy="813.2" r="8.6" color="#2ba7e7"/>
<circle class="d" cx="1134.7" cy="778.5" r="8.6" color="#1ea8e8"/>
<circle class="c" cx="1005.3" cy="816.4" r="8.6" color="#8199cf"/>
<circle class="d" cx="1155.6" cy="849.3" r="8.6" color="#1ea8e8"/>
<circle class="d" cx="990.1" cy="837.1" r="8.6" color="#f93572"/>
<circle class="c" cx="1059.9" cy="822.9" r="8.6" color="#779bd3"/>
<circle class="b" cx="902.5" cy="803.8" r="8.6" color="#d26e99"/>
<circle class="c" cx="959.0" cy="821.3" r="8.6" color="#8996cb"/>
<circle class="c" cx="991.6" cy="841.3" r="8.6" color="#8398ce"/>
<circle class="d" cx="1148.3" cy="856.8" r="8.6" color="#1ea8e8"/>
<circle class="b" cx="980.1" cy="795.8" r="8.6" color="#cc739f"/>
<circle class="d" cx="1053.6" cy="805.6" r="8.6" color="#fb2f70"/>
<circle class="d" cx="1119.8" cy="855.5" r="8.6" color="#27a7e7"/>
<circle class="d" cx="1169.8" cy="830.4" r="8.6" color="#1ea8e8"/>
<circle class="d" cx="1188.7" cy="789.9" r="8.6" color="#2da7e6"/>
<circle class="d" cx="1093.6" cy="798.2" r="8.6" color="#1ea8e8"/>
<circle class="d" cx="1151.7" cy="827.8" r="8.6" color="#1ea8e8"/>
<circle class="d" cx="1097.1" cy="843.9" r="8.6" color="#24a8e7"/>
<circle class="d" cx="1145.7" cy="828.6" r="8.6" color="#33a7e6"/>
<circle class="d" cx="1159.6" cy="830.5" r="8.6" color="#1ea8e8"/>
<circle class="b" cx="966.3" cy="823.6" r="8.6" color="#cd729e"/>
<circle class="b" cx="952.1" cy="796.0" r="8.6" color="#d76995"/>
<circle class="d" cx="885.6" cy="805.5" r="8.6" color="#1ea8e8"/>
<circle class="d" cx="840.6" cy="825.0" r="8.6" color="#fc2b6f"/>
<circle class="d" cx="1248.9" cy="827.2" r="8.6" color="#34a7e5"/>
<circle class="d" cx="949.5" cy="842.9" r="8.6" color="#fa3171"/>
<circle class="d" cx="1120.1" cy="824.1" r="8.6" color="#1ea8e8"/>
<circle class="d" cx="1123.4" cy="779.0" r="8.6" color="#1ea8e8"/>
<circle class="d" cx="880.3" cy="826.9" r="8.6" color="#f63c75"/>
<circle class="b" cx="1042.3" cy="807.0" r="8.6" color="#d86894"/>
<circle class="b" cx="1014.5" cy="806.2" r="8.6" color="#d96793"/>
<circle class="c" cx="857.5" cy="821.2" r="8.6" color="#8597cd"/>
<circle class="d" cx="1219.8" cy="809.0" r="8.6" color="#2fa7e6"/>
<circle class="d" cx="1213.6" cy="824.1" r="8.6" color="#1ea8e8"/>
<circle class="d" cx="1053.8" cy="803.4" r="8.6" color="#fa3070"/>
<circle class="d" cx="1104.6" cy="844.2" r="8.6" color="#33a7e6"/>
<circle class="b" cx="864.6" cy="821.2" r="8.6" color="#d46c98"/>
<circle class="d" cx="1212.2" cy="817.8" r="8.6" color="#33a7e6"/>
<circle class="d" cx="891.8" cy="802.8" r="8.6" color="#1ea8e8"/>
<circle class="d" cx="1063.5" cy="811.8" r="8.6" color="#25a8e7"/>
<circle class="d" cx="1204.2" cy="796.6" r="8.6" color="#1ea8e8"/>
<circle class="d" cx="1164.7" cy="800.2" r="8.6" color="#2ea7e6"/>
<circle class="c" cx="1175.6" cy="844.2" r="8.6" color="#9393c6"/>
<circle class="b" cx="1028.9" cy="848.0" r="8.6" color="#d76995"/>
<circle class="d" cx="1218.9" cy="828.7" r="8.6" color="#1ea8e8"/>
<circle class="b" cx="1003.1" cy="826.9" r="8.6" color="#d76995"/>
<circle class="d" cx="1104.6" cy="858.0" r="8.6" color="#1ea8e8"/>
<circle class="c" cx="975.4" cy="820.2" r="8.6" color="#9193c7"/>
<circle class="c" cx="1063.4" cy="794.1" r="8.6" color="#789bd3"/>
<circle class="c" cx="1035.6" cy="835.4" r="8.6" color="#799bd3"/>
<circle class="d" cx="1076.6" cy="834.4" r="8.6" color="#1ea8e8"/>
<circle class="d" cx="1158.8" cy="824.7" r="8.6" color="#22a8e8"/>
<circle class="d" cx="1258.1" cy="824.9" r="8.6" color="#1fa8e8"/>
<circle class="d" cx="1218.2" cy="804.1" r="8.6" color="#1ea8e8"/>
<circle class="d" cx="1156.5" cy="824.8" r="8.6" color="#1ea8e8"/>
<circle class="d" cx="1208.9" cy="838.1" r="8.6" color="#1ea8e8"/>
<circle class="c" cx="953.3" cy="798.3" r="8.6" color="#f53e76"/>
<circle class="c" cx="1021.3" cy="835.2" r="8.6" color="#799bd2"/>
<circle class="c" cx="1088.2" cy="819.2" r="8.6" color="#9393c6"/>
<circle class="d" cx="1138.9" cy="789.2" r="8.6" color="#2fa7e6"/>
<circle class="d" cx="1163.4" cy="795.4" r="8.6" color="#33a7e6"/>
<circle class="d" cx="1266.9" cy="821.3" r="8.6" color="#1ea8e8"/>
<circle class="d" cx="1257.0" cy="819.0" r="8.6" color="#1ea8e8"/>
<circle class="d" cx="1259.0" cy="823.0" r="8.6" color="#35a6e5"/>
<circle class="d" cx="1250.0" cy="826.0" r="8.6" color="#1ea8e8"/>
<circle class="d" cx="1249.0" cy="817.0" r="8.6" color="#1ea8e8"/>
</g>
<g>
<circle class="d" cx="1037.3" cy="890.4" r="8.6" color="#1ea8e8"/>
<circle class="d" cx="1038.5" cy="928.5" r="8.6" color="#1ea8e8"/>
<circle class="d" cx="1031.9" cy="932.5" r="8.6" color="#1ea8e8"/>
<circle class="d" cx="1038.2" cy="944.8" r="8.6" color="#1ea8e8"/>
<circle class="d" cx="1037.3" cy="911.6" r="8.6" color="#1ea8e8"/>
<circle class="d" cx="1030.5" cy="902.7" r="8.6" color="#1ea8e8"/>
<circle class="d" cx="1035.0" cy="949.6" r="8.6" color="#1ea8e8"/>
<circle class="d" cx="1036.3" cy="887.6" r="8.6" color="#1ea8e8"/>
<circle class="d" cx="1034.4" cy="941.5" r="8.6" color="#1ea8e8"/>
<circle class="d" cx="1034.3" cy="926.4" r="8.6" color="#1ea8e8"/>
<circle class="d" cx="1039.7" cy="914.7" r="8.6" color="#1ea8e8"/>
<circle class="d" cx="1039.5" cy="916.9" r="8.6" color="#1ea8e8"/>
<circle class="d" cx="1039.3" cy="917.1" r="8.6" color="#1ea8e8"/>
<circle class="d" cx="1034.1" cy="956.9" r="8.6" color="#1ea8e8"/>
<circle class="d" cx="1032.0" cy="940.5" r="8.6" color="#1ea8e8"/>
<circle class="d" cx="1037.7" cy="888.2" r="8.6" color="#1ea8e8"/>
<circle class="d" cx="1031.9" cy="902.4" r="8.6" color="#1ea8e8"/>
<circle class="d" cx="1038.3" cy="955.9" r="8.6" color="#1ea8e8"/>
<circle class="d" cx="1032.3" cy="957.6" r="8.6" color="#1ea8e8"/>
<circle class="d" cx="1037.4" cy="942.6" r="8.6" color="#1ea8e8"/>
<circle class="d" cx="1033.9" cy="939.8" r="8.6" color="#1ea8e8"/>
<circle class="d" cx="1031.8" cy="944.9" r="8.6" color="#1ea8e8"/>
<circle class="d" cx="1035.9" cy="969.1" r="8.6" color="#1ea8e8"/>
<circle class="d" cx="1034.7" cy="898.4" r="8.6" color="#1ea8e8"/>
<circle class="d" cx="1036.7" cy="940.9" r="8.6" color="#1ea8e8"/>
<circle class="d" cx="1034.7" cy="914.6" r="8.6" color="#1ea8e8"/>
<circle class="d" cx="1031.4" cy="962.7" r="8.6" color="#1ea8e8"/>
<circle class="d" cx="1038.5" cy="956.1" r="8.6" color="#1ea8e8"/>
<circle class="d" cx="1035.9" cy="896.5" r="8.6" color="#1ea8e8"/>
<circle class="d" cx="1041.3" cy="936.4" r="8.6" color="#1ea8e8"/>
<circle class="d" cx="1038.0" cy="933.2" r="8.6" color="#1ea8e8"/>
<circle class="d" cx="1036.5" cy="889.0" r="8.6" color="#1ea8e8"/>
<circle class="d" cx="1034.3" cy="939.0" r="8.6" color="#1ea8e8"/>
<circle class="d" cx="1030.8" cy="960.2" r="8.6" color="#1ea8e8"/>
<circle class="d" cx="1036.5" cy="942.1" r="8.6" color="#1ea8e8"/>
<circle class="d" cx="1037.9" cy="895.5" r="8.6" color="#1ea8e8"/>
<circle class="d" cx="1036.4" cy="916.1" r="8.6" color="#1ea8e8"/>
<circle class="d" cx="1039.0" cy="966.4" r="8.6" color="#1ea8e8"/>
<circle class="d" cx="1030.5" cy="955.0" r="8.6" color="#1ea8e8"/>
<circle class="d" cx="1036.5" cy="900.6" r="8.6" color="#1ea8e8"/>
<circle class="d" cx="1036.2" cy="965.8" r="8.6" color="#1ea8e8"/>
<circle class="d" cx="1034.0" cy="963.2" r="8.6" color="#1ea8e8"/>
<circle class="d" cx="1035.8" cy="957.9" r="8.6" color="#1ea8e8"/>
<circle class="d" cx="1038.4" cy="900.7" r="8.6" color="#1ea8e8"/>
<circle class="d" cx="1038.1" cy="896.0" r="8.6" color="#1ea8e8"/>
<circle class="d" cx="1036.3" cy="922.4" r="8.6" color="#1ea8e8"/>
<circle class="d" cx="1036.2" cy="940.5" r="8.6" color="#1ea8e8"/>
<circle class="d" cx="1033.9" cy="964.2" r="8.6" color="#1ea8e8"/>
<circle class="d" cx="1034.8" cy="908.9" r="8.6" color="#1ea8e8"/>
<circle class="d" cx="1037.7" cy="957.7" r="8.6" color="#1ea8e8"/>
<circle class="d" cx="1033.3" cy="934.9" r="8.6" color="#1ea8e8"/>
<circle class="d" cx="1039.8" cy="925.4" r="8.6" color="#1ea8e8"/>
<circle class="d" cx="1038.4" cy="955.4" r="8.6" color="#1ea8e8"/>
<circle class="d" cx="1035.0" cy="909.1" r="8.6" color="#1ea8e8"/>
<circle class="d" cx="1034.8" cy="934.4" r="8.6" color="#1ea8e8"/>
<circle class="d" cx="1038.8" cy="895.9" r="8.6" color="#1ea8e8"/>
<circle class="d" cx="1035.3" cy="930.5" r="8.6" color="#1ea8e8"/>
<circle class="d" cx="1039.8" cy="905.3" r="8.6" color="#1ea8e8"/>
<circle class="d" cx="1038.2" cy="933.1" r="8.6" color="#1ea8e8"/>
<circle class="d" cx="1034.1" cy="903.6" r="8.6" color="#1ea8e8"/>
<circle class="d" cx="1040.1" cy="905.1" r="8.6" color="#1ea8e8"/>
<circle class="d" cx="1040.1" cy="937.3" r="8.6" color="#1ea8e8"/>
<circle class="d" cx="1036.4" cy="947.5" r="8.6" color="#1ea8e8"/>
<circle class="d" cx="1038.7" cy="922.3" r="8.6" color="#1ea8e8"/>
<circle class="d" cx="1038.6" cy="951.7" r="8.6" color="#1ea8e8"/>
<circle class="d" cx="1031.1" cy="924.4" r="8.6" color="#1ea8e8"/>
<circle class="d" cx="1034.0" cy="920.3" r="8.6" color="#1ea8e8"/>
<circle class="d" cx="1040.7" cy="907.7" r="8.6" color="#1ea8e8"/>
<circle class="d" cx="1038.5" cy="922.9" r="8.6" color="#1ea8e8"/>
<circle class="d" cx="1036.2" cy="913.9" r="8.6" color="#1ea8e8"/>
<circle class="d" cx="1035.7" cy="891.9" r="8.6" color="#1ea8e8"/>
<circle class="d" cx="1031.3" cy="898.2" r="8.6" color="#1ea8e8"/>
<circle class="d" cx="1039.0" cy="952.5" r="8.6" color="#1ea8e8"/>
<circle class="d" cx="1036.5" cy="944.5" r="8.6" color="#1ea8e8"/>
<circle class="d" cx="1034.3" cy="900.8" r="8.6" color="#1ea8e8"/>
<circle class="d" cx="1032.4" cy="961.8" r="8.6" color="#1ea8e8"/>
<circle class="d" cx="1038.0" cy="934.0" r="8.6" color="#1ea8e8"/>
<circle class="d" cx="1033.5" cy="895.0" r="8.6" color="#1ea8e8"/>
<circle class="d" cx="1035.0" cy="896.4" r="8.6" color="#1ea8e8"/>
<circle class="d" cx="1036.5" cy="895.4" r="8.6" color="#1ea8e8"/>
<circle class="d" cx="1031.4" cy="922.2" r="8.6" color="#1ea8e8"/>
<circle class="d" cx="1034.0" cy="966.7" r="8.6" color="#1ea8e8"/>
<circle class="d" cx="1040.0" cy="916.1" r="8.6" color="#1ea8e8"/>
<circle class="d" cx="1037.8" cy="892.6" r="8.6" color="#1ea8e8"/>
<circle class="d" cx="1035.1" cy="899.5" r="8.6" color="#1ea8e8"/>
<circle class="d" cx="1033.8" cy="957.0" r="8.6" color="#1ea8e8"/>
<circle class="d" cx="1033.1" cy="930.7" r="8.6" color="#1ea8e8"/>
<circle class="d" cx="1039.5" cy="905.9" r="8.6" color="#1ea8e8"/>
<circle class="d" cx="1034.7" cy="923.1" r="8.6" color="#1ea8e8"/>
<circle class="d" cx="1035.1" cy="953.6" r="8.6" color="#1ea8e8"/>
<circle class="d" cx="1039.6" cy="959.8" r="8.6" color="#1ea8e8"/>
<circle class="d" cx="1042.0" cy="945.5" r="8.6" color="#1ea8e8"/>
<circle class="d" cx="1031.5" cy="892.9" r="8.6" color="#1ea8e8"/>
<circle class="d" cx="1036.7" cy="957.8" r="8.6" color="#1ea8e8"/>
<circle class="d" cx="1038.6" cy="913.6" r="8.6" color="#1ea8e8"/>
<circle class="d" cx="1029.3" cy="909.7" r="8.6" color="#1ea8e8"/>
<circle class="d" cx="1030.8" cy="950.7" r="8.6" color="#1ea8e8"/>
<circle class="d" cx="1033.1" cy="918.7" r="8.6" color="#1ea8e8"/>
<circle class="d" cx="1035.4" cy="960.6" r="8.6" color="#1ea8e8"/>
<circle class="d" cx="1039.5" cy="913.3" r="8.6" color="#1ea8e8"/>
<circle class="d" cx="1034.0" cy="949.0" r="8.6" color="#1ea8e8"/>
<circle class="d" cx="1035.3" cy="898.9" r="8.6" color="#1ea8e8"/>
<circle class="d" cx="1031.8" cy="955.1" r="8.6" color="#1ea8e8"/>
<circle class="d" cx="1034.3" cy="888.2" r="8.6" color="#1ea8e8"/>
<circle class="d" cx="1037.5" cy="887.7" r="8.6" color="#1ea8e8"/>
<circle class="d" cx="1030.6" cy="955.0" r="8.6" color="#1ea8e8"/>
<circle class="d" cx="1032.0" cy="912.9" r="8.6" color="#1ea8e8"/>
<circle class="d" cx="1036.1" cy="955.7" r="8.6" color="#1ea8e8"/>
<circle class="d" cx="1037.5" cy="901.1" r="8.6" color="#1ea8e8"/>
<circle class="d" cx="1036.9" cy="947.9" r="8.6" color="#1ea8e8"/>
<circle class="d" cx="1037.0" cy="907.6" r="8.6" color="#1ea8e8"/>
<circle class="d" cx="1032.5" cy="926.8" r="8.6" color="#1ea8e8"/>
<circle class="d" cx="1038.5" cy="898.5" r="8.6" color="#1ea8e8"/>
<circle class="d" cx="1036.9" cy="965.7" r="8.6" color="#1ea8e8"/>
<circle class="d" cx="1040.2" cy="918.2" r="8.6" color="#1ea8e8"/>
<circle class="d" cx="1035.2" cy="969.0" r="8.6" color="#1ea8e8"/>
<circle class="d" cx="1041.6" cy="910.4" r="8.6" color="#1ea8e8"/>
<circle class="d" cx="1029.9" cy="935.3" r="8.6" color="#1ea8e8"/>
<circle class="d" cx="1039.1" cy="940.7" r="8.6" color="#1ea8e8"/>
<circle class="d" cx="1031.0" cy="921.7" r="8.6" color="#1ea8e8"/>
<circle class="d" cx="1035.4" cy="925.2" r="8.6" color="#1ea8e8"/>
<circle class="d" cx="1041.5" cy="897.4" r="8.6" color="#1ea8e8"/>
<circle class="d" cx="1037.1" cy="924.4" r="8.6" color="#1ea8e8"/>
<circle class="d" cx="1035.0" cy="946.4" r="8.6" color="#1ea8e8"/>
<circle class="d" cx="1041.3" cy="898.6" r="8.6" color="#1ea8e8"/>
<circle class="d" cx="1035.8" cy="959.9" r="8.6" color="#1ea8e8"/>
<circle class="d" cx="1031.5" cy="963.4" r="8.6" color="#1ea8e8"/>
<circle class="d" cx="1039.7" cy="939.9" r="8.6" color="#1ea8e8"/>
<circle class="d" cx="1036.3" cy="890.9" r="8.6" color="#1ea8e8"/>
<circle class="d" cx="1037.8" cy="927.8" r="8.6" color="#1ea8e8"/>
<circle class="d" cx="1037.2" cy="957.2" r="8.6" color="#1ea8e8"/>
<circle class="d" cx="1035.0" cy="902.0" r="8.6" color="#1ea8e8"/>
<circle class="d" cx="1035.5" cy="931.6" r="8.6" color="#1ea8e8"/>
<circle class="d" cx="1034.1" cy="913.8" r="8.6" color="#1ea8e8"/>
<circle class="d" cx="1038.0" cy="912.1" r="8.6" color="#1ea8e8"/>
<circle class="d" cx="1039.2" cy="958.4" r="8.6" color="#1ea8e8"/>
<circle class="d" cx="1036.8" cy="955.9" r="8.6" color="#1ea8e8"/>
<circle class="d" cx="1035.2" cy="957.3" r="8.6" color="#1ea8e8"/>
<circle class="d" cx="1043.4" cy="906.3" r="8.6" color="#1ea8e8"/>
<circle class="d" cx="1033.7" cy="888.3" r="8.6" color="#1ea8e8"/>
<circle class="d" cx="1037.2" cy="941.6" r="8.6" color="#1ea8e8"/>
<circle class="d" cx="1035.1" cy="906.0" r="8.6" color="#1ea8e8"/>
<circle class="d" cx="1037.2" cy="902.7" r="8.6" color="#1ea8e8"/>
<circle class="d" cx="1032.4" cy="906.2" r="8.6" color="#1ea8e8"/>
<circle class="d" cx="1037.9" cy="901.6" r="8.6" color="#1ea8e8"/>
<circle class="d" cx="1039.1" cy="888.6" r="8.6" color="#1ea8e8"/>
<circle class="d" cx="1039.9" cy="948.1" r="8.6" color="#1ea8e8"/>
<circle class="d" cx="1034.4" cy="914.2" r="8.6" color="#1ea8e8"/>
<circle class="d" cx="1039.8" cy="922.9" r="8.6" color="#1ea8e8"/>
<circle class="d" cx="1042.1" cy="946.6" r="8.6" color="#1ea8e8"/>
<circle class="d" cx="1037.3" cy="898.3" r="8.6" color="#1ea8e8"/>
<circle class="d" cx="1039.3" cy="914.7" r="8.6" color="#1ea8e8"/>
<circle class="d" cx="1037.0" cy="902.1" r="8.6" color="#1ea8e8"/>
<circle class="d" cx="1039.3" cy="942.7" r="8.6" color="#1ea8e8"/>
<circle class="d" cx="1034.5" cy="906.6" r="8.6" color="#1ea8e8"/>
<circle class="d" cx="1040.4" cy="948.4" r="8.6" color="#1ea8e8"/>
<circle class="d" cx="1036.3" cy="914.5" r="8.6" color="#1ea8e8"/>
<circle class="d" cx="1039.1" cy="944.0" r="8.6" color="#1ea8e8"/>
<circle class="d" cx="1032.9" cy="896.2" r="8.6" color="#1ea8e8"/>
<circle class="d" cx="1036.1" cy="928.2" r="8.6" color="#1ea8e8"/>
<circle class="d" cx="1042.3" cy="958.6" r="8.6" color="#1ea8e8"/>
<circle class="d" cx="1031.7" cy="917.7" r="8.6" color="#1ea8e8"/>
<circle class="d" cx="1032.8" cy="931.0" r="8.6" color="#1ea8e8"/>
<circle class="d" cx="1030.9" cy="895.3" r="8.6" color="#1ea8e8"/>
<circle class="d" cx="1031.7" cy="927.2" r="8.6" color="#1ea8e8"/>
<circle class="d" cx="1033.5" cy="936.7" r="8.6" color="#1ea8e8"/>
<circle class="d" cx="1037.9" cy="921.8" r="8.6" color="#1ea8e8"/>
<circle class="d" cx="1031.0" cy="944.0" r="8.6" color="#1ea8e8"/>
<circle class="d" cx="1039.5" cy="895.2" r="8.6" color="#1ea8e8"/>
<circle class="d" cx="1039.4" cy="938.7" r="8.6" color="#1ea8e8"/>
<circle class="d" cx="1041.6" cy="934.9" r="8.6" color="#1ea8e8"/>
<circle class="d" cx="1032.5" cy="926.9" r="8.6" color="#1ea8e8"/>
<circle class="d" cx="1033.1" cy="927.1" r="8.6" color="#1ea8e8"/>
<circle class="d" cx="1038.0" cy="905.0" r="8.6" color="#1ea8e8"/>
<circle class="d" cx="1033.1" cy="915.5" r="8.6" color="#1ea8e8"/>
<circle class="d" cx="1035.0" cy="904.7" r="8.6" color="#1ea8e8"/>
<circle class="d" cx="1031.2" cy="923.4" r="8.6" color="#1ea8e8"/>
<circle class="d" cx="1032.5" cy="895.5" r="8.6" color="#1ea8e8"/>
<circle class="d" cx="1035.0" cy="908.8" r="8.6" color="#1ea8e8"/>
<circle class="d" cx="1028.9" cy="943.9" r="8.6" color="#1ea8e8"/>
<circle class="d" cx="1039.3" cy="924.7" r="8.6" color="#1ea8e8"/>
<circle class="d" cx="1041.5" cy="921.6" r="8.6" color="#1ea8e8"/>
<circle class="d" cx="1033.1" cy="896.6" r="8.6" color="#1ea8e8"/>
<circle class="d" cx="1040.1" cy="917.6" r="8.6" color="#1ea8e8"/>
<circle class="d" cx="1039.9" cy="930.8" r="8.6" color="#1ea8e8"/>
<circle class="d" cx="1032.3" cy="941.7" r="8.6" color="#1ea8e8"/>
<circle class="d" cx="1036.8" cy="967.4" r="8.6" color="#1ea8e8"/>
<circle class="d" cx="1030.7" cy="955.4" r="8.6" color="#1ea8e8"/>
<circle class="d" cx="1031.1" cy="920.2" r="8.6" color="#1ea8e8"/>
<circle class="d" cx="1036.6" cy="894.7" r="8.6" color="#1ea8e8"/>
<circle class="d" cx="1032.5" cy="895.7" r="8.6" color="#1ea8e8"/>
<circle class="d" cx="1036.1" cy="903.9" r="8.6" color="#1ea8e8"/>
<circle class="d" cx="1034.8" cy="888.5" r="8.6" color="#1ea8e8"/>
<circle class="d" cx="1036.4" cy="949.4" r="8.6" color="#1ea8e8"/>
<circle class="d" cx="1037.3" cy="933.5" r="8.6" color="#1ea8e8"/>
<circle class="d" cx="1039.3" cy="938.4" r="8.6" color="#1ea8e8"/>
<circle class="d" cx="1034.5" cy="935.6" r="8.6" color="#1ea8e8"/>
<circle class="d" cx="1036.3" cy="963.6" r="8.6" color="#1ea8e8"/>
<circle class="d" cx="1036.8" cy="924.4" r="8.6" color="#1ea8e8"/>
<circle class="d" cx="1033.4" cy="897.4" r="8.6" color="#1ea8e8"/>
<circle class="d" cx="1038.4" cy="948.4" r="8.6" color="#1ea8e8"/>
<circle class="d" cx="1038.3" cy="887.4" r="8.6" color="#1ea8e8"/>
<circle class="d" cx="1035.3" cy="903.8" r="8.6" color="#1ea8e8"/>
<circle class="d" cx="1043.2" cy="922.5" r="8.6" color="#1ea8e8"/>
<circle class="d" cx="1030.9" cy="899.8" r="8.6" color="#1ea8e8"/>
<circle class="d" cx="1034.8" cy="933.2" r="8.6" color="#1ea8e8"/>
<circle class="d" cx="1036.1" cy="949.8" r="8.6" color="#1ea8e8"/>
<circle class="d" cx="1033.5" cy="967.5" r="8.6" color="#1ea8e8"/>
<circle class="d" cx="1035.3" cy="944.8" r="8.6" color="#1ea8e8"/>
<circle class="d" cx="1031.3" cy="914.9" r="8.6" color="#1ea8e8"/>
<circle class="d" cx="1036.7" cy="938.8" r="8.6" color="#1ea8e8"/>
<circle class="d" cx="1036.4" cy="951.6" r="8.6" color="#1ea8e8"/>
<circle class="d" cx="1037.2" cy="952.0" r="8.6" color="#1ea8e8"/>
<circle class="d" cx="1031.4" cy="920.7" r="8.6" color="#1ea8e8"/>
<circle class="d" cx="1035.6" cy="924.3" r="8.6" color="#1ea8e8"/>
<circle class="d" cx="1037.0" cy="889.1" r="8.6" color="#1ea8e8"/>
<circle class="d" cx="1034.9" cy="890.8" r="8.6" color="#1ea8e8"/>
<circle class="d" cx="1036.9" cy="923.2" r="8.6" color="#1ea8e8"/>
<circle class="d" cx="1033.5" cy="892.1" r="8.6" color="#1ea8e8"/>
<circle class="d" cx="1035.6" cy="909.3" r="8.6" color="#1ea8e8"/>
<circle class="d" cx="1033.5" cy="944.7" r="8.6" color="#1ea8e8"/>
<circle class="d" cx="1035.9" cy="945.3" r="8.6" color="#1ea8e8"/>
<circle class="d" cx="1030.0" cy="897.3" r="8.6" color="#1ea8e8"/>
<circle class="d" cx="1033.9" cy="953.4" r="8.6" color="#1ea8e8"/>
<circle class="d" cx="1032.3" cy="942.5" r="8.6" color="#1ea8e8"/>
<circle class="d" cx="1030.8" cy="923.7" r="8.6" color="#1ea8e8"/>
<circle class="d" cx="1036.5" cy="959.3" r="8.6" color="#1ea8e8"/>
<circle class="d" cx="1032.2" cy="935.0" r="8.6" color="#1ea8e8"/>
<circle class="d" cx="1035.0" cy="936.2" r="8.6" color="#1ea8e8"/>
<circle class="d" cx="1032.2" cy="966.8" r="8.6" color="#1ea8e8"/>
<circle class="d" cx="1042.3" cy="957.8" r="8.6" color="#1ea8e8"/>
<circle class="d" cx="1037.9" cy="950.4" r="8.6" color="#1ea8e8"/>
<circle class="d" cx="1032.2" cy="905.2" r="8.6" color="#1ea8e8"/>
<circle class="d" cx="1036.6" cy="907.7" r="8.6" color="#1ea8e8"/>
<circle class="d" cx="1041.4" cy="925.1" r="8.6" color="#1ea8e8"/>
<circle class="d" cx="1039.2" cy="955.9" r="8.6" color="#1ea8e8"/>
<circle class="d" cx="1036.4" cy="952.8" r="8.6" color="#1ea8e8"/>
<circle class="d" cx="1035.9" cy="912.3" r="8.6" color="#1ea8e8"/>
<circle class="d" cx="1034.1" cy="956.6" r="8.6" color="#1ea8e8"/>
<circle class="d" cx="1031.5" cy="941.3" r="8.6" color="#1ea8e8"/>
<circle class="d" cx="1037.1" cy="914.2" r="8.6" color="#1ea8e8"/>
<circle class="d" cx="1038.4" cy="911.7" r="8.6" color="#1ea8e8"/>
<circle class="d" cx="1035.3" cy="903.4" r="8.6" color="#1ea8e8"/>
<circle class="d" cx="1039.2" cy="925.9" r="8.6" color="#1ea8e8"/>
<circle class="d" cx="1036.0" cy="920.4" r="8.6" color="#1ea8e8"/>
<circle class="d" cx="1036.5" cy="920.5" r="8.6" color="#1ea8e8"/>
<circle class="d" cx="1040.4" cy="962.9" r="8.6" color="#1ea8e8"/>
<circle class="d" cx="1037.1" cy="924.2" r="8.6" color="#1ea8e8"/>
<circle class="d" cx="1031.9" cy="929.3" r="8.6" color="#1ea8e8"/>
<circle class="d" cx="1032.3" cy="923.8" r="8.6" color="#1ea8e8"/>
<circle class="d" cx="1032.2" cy="958.8" r="8.6" color="#1ea8e8"/>
<circle class="d" cx="1034.4" cy="890.0" r="8.6" color="#1ea8e8"/>
<circle class="d" cx="1032.4" cy="952.1" r="8.6" color="#1ea8e8"/>
<circle class="d" cx="1037.0" cy="932.9" r="8.6" color="#1ea8e8"/>
<circle class="d" cx="1040.5" cy="931.2" r="8.6" color="#1ea8e8"/>
<circle class="d" cx="1033.5" cy="967.0" r="8.6" color="#1ea8e8"/>
<circle class="d" cx="1039.4" cy="961.1" r="8.6" color="#1ea8e8"/>
<circle class="d" cx="1030.4" cy="913.3" r="8.6" color="#1ea8e8"/>
<circle class="d" cx="1040.6" cy="922.8" r="8.6" color="#1ea8e8"/>
<circle class="d" cx="1033.1" cy="944.3" r="8.6" color="#1ea8e8"/>
<circle class="d" cx="1035.3" cy="931.6" r="8.6" color="#1ea8e8"/>
<circle class="d" cx="1039.3" cy="910.5" r="8.6" color="#1ea8e8"/>
<circle class="d" cx="1031.1" cy="900.4" r="8.6" color="#1ea8e8"/>
<circle class="d" cx="1034.2" cy="907.7" r="8.6" color="#1ea8e8"/>
<circle class="d" cx="1034.9" cy="917.4" r="8.6" color="#1ea8e8"/>
<circle class="d" cx="1036.8" cy="931.5" r="8.6" color="#1ea8e8"/>
<circle class="d" cx="1031.3" cy="928.9" r="8.6" color="#1ea8e8"/>
<circle class="d" cx="1036.8" cy="968.1" r="8.6" color="#1ea8e8"/>
<circle class="d" cx="1037.2" cy="954.5" r="8.6" color="#1ea8e8"/>
<circle class="d" cx="1038.6" cy="921.9" r="8.6" color="#1ea8e8"/>
<circle class="d" cx="1039.1" cy="891.0" r="8.6" color="#1ea8e8"/>
<circle class="d" cx="1034.9" cy="950.4" r="8.6" color="#1ea8e8"/>
<circle class="d" cx="1032.3" cy="900.6" r="8.6" color="#1ea8e8"/>
<circle class="d" cx="1039.5" cy="908.8" r="8.6" color="#1ea8e8"/>
<circle class="d" cx="1040.0" cy="956.4" r="8.6" color="#1ea8e8"/>
<circle class="d" cx="1037.6" cy="900.0" r="8.6" color="#1ea8e8"/>
<circle class="d" cx="1035.6" cy="954.6" r="8.6" color="#1ea8e8"/>
<circle class="d" cx="1030.4" cy="945.3" r="8.6" color="#1ea8e8"/>
<circle class="d" cx="1032.3" cy="907.1" r="8.6" color="#1ea8e8"/>
<circle class="d" cx="1033.5" cy="942.7" r="8.6" color="#1ea8e8"/>
<circle class="d" cx="1029.5" cy="915.8" r="8.6" color="#1ea8e8"/>
<circle class="d" cx="1037.7" cy="905.8" r="8.6" color="#1ea8e8"/>
<circle class="d" cx="1042.2" cy="913.4" r="8.6" color="#1ea8e8"/>
<circle class="d" cx="1035.8" cy="929.7" r="8.6" color="#1ea8e8"/>
<circle class="d" cx="1036.5" cy="919.9" r="8.6" color="#1ea8e8"/>
<circle class="d" cx="1038.9" cy="955.0" r="8.6" color="#1ea8e8"/>
<circle class="d" cx="1033.7" cy="947.9" r="8.6" color="#1ea8e8"/>
<circle class="d" cx="1038.2" cy="958.1" r="8.6" color="#1ea8e8"/>
<circle class="d" cx="1036.0" cy="908.0" r="8.6" color="#1ea8e8"/>
<circle class="d" cx="1035.4" cy="966.3" r="8.6" color="#1ea8e8"/>
<circle class="d" cx="1037.4" cy="963.0" r="8.6" color="#1ea8e8"/>
<circle class="d" cx="1038.3" cy="895.4" r="8.6" color="#1ea8e8"/>
<circle class="d" cx="1041.3" cy="936.0" r="8.6" color="#1ea8e8"/>
<circle class="d" cx="1031.3" cy="939.7" r="8.6" color="#1ea8e8"/>
<circle class="d" cx="1032.4" cy="907.9" r="8.6" color="#1ea8e8"/>
<circle class="d" cx="1037.7" cy="932.9" r="8.6" color="#1ea8e8"/>
<circle class="d" cx="1036.5" cy="907.2" r="8.6" color="#1ea8e8"/>
<circle class="d" cx="1038.9" cy="942.6" r="8.6" color="#1ea8e8"/>
<circle class="d" cx="1035.6" cy="930.3" r="8.6" color="#1ea8e8"/>
<circle class="d" cx="1034.4" cy="929.8" r="8.6" color="#1ea8e8"/>
<circle class="d" cx="1038.1" cy="960.2" r="8.6" color="#1ea8e8"/>
<circle class="d" cx="1031.8" cy="917.2" r="8.6" color="#1ea8e8"/>
<circle class="d" cx="1036.2" cy="895.0" r="8.6" color="#1ea8e8"/>
<circle class="d" cx="1029.6" cy="943.5" r="8.6" color="#1ea8e8"/>
<circle class="d" cx="1036.0" cy="892.1" r="8.6" color="#1ea8e8"/>
<circle class="d" cx="1022.6" cy="924.3" r="8.6" color="#1ea8e8"/>
<circle class="d" cx="1013.3" cy="929.8" r="8.6" color="#1ea8e8"/>
<circle class="d" cx="1016.4" cy="924.3" r="8.6" color="#1ea8e8"/>
<circle class="d" cx="1027.8" cy="926.6" r="8.6" color="#1ea8e8"/>
<circle class="d" cx="1019.3" cy="929.2" r="8.6" color="#1ea8e8"/>
<circle class="d" cx="1017.6" cy="925.6" r="8.6" color="#1ea8e8"/>
<circle class="d" cx="1025.3" cy="931.5" r="8.6" color="#1ea8e8"/>
<circle class="d" cx="1028.2" cy="928.4" r="8.6" color="#1ea8e8"/>
<circle class="d" cx="1012.1" cy="928.1" r="8.6" color="#1ea8e8"/>
<circle class="d" cx="1028.5" cy="929.4" r="8.6" color="#1ea8e8"/>
<circle class="d" cx="1022.0" cy="928.7" r="8.6" color="#1ea8e8"/>
<circle class="d" cx="1015.8" cy="931.6" r="8.6" color="#1ea8e8"/>
<circle class="d" cx="1024.6" cy="932.0" r="8.6" color="#1ea8e8"/>
<circle class="d" cx="1014.2" cy="926.2" r="8.6" color="#1ea8e8"/>
<circle class="d" cx="1015.1" cy="925.2" r="8.6" color="#1ea8e8"/>
<circle class="d" cx="1020.9" cy="923.7" r="8.6" color="#1ea8e8"/>
<circle class="d" cx="1023.4" cy="927.9" r="8.6" color="#1ea8e8"/>
<circle class="d" cx="1023.9" cy="924.7" r="8.6" color="#1ea8e8"/>
<circle class="d" cx="1045.5" cy="931.3" r="8.6" color="#1ea8e8"/>
<circle class="d" cx="1046.5" cy="933.7" r="8.6" color="#1ea8e8"/>
<circle class="d" cx="1043.5" cy="928.8" r="8.6" color="#1ea8e8"/>
<circle class="d" cx="1044.6" cy="927.1" r="8.6" color="#1ea8e8"/>
<circle class="d" cx="1048.1" cy="931.6" r="8.6" color="#1ea8e8"/>
<circle class="d" cx="1046.1" cy="921.9" r="8.6" color="#1ea8e8"/>
<circle class="d" cx="1047.0" cy="930.8" r="8.6" color="#1ea8e8"/>
<circle class="d" cx="1047.5" cy="931.7" r="8.6" color="#1ea8e8"/>
<circle class="d" cx="1046.5" cy="925.2" r="8.6" color="#1ea8e8"/>
<circle class="d" cx="1130.0" cy="928.4" r="8.6" color="#ff1e6b"/>
<circle class="d" cx="1158.0" cy="928.4" r="8.6" color="#ff1e6b"/>
<circle class="d" cx="1160.5" cy="928.4" r="8.6" color="#ff1e6b"/>
<circle class="d" cx="1167.3" cy="928.4" r="8.6" color="#ff1e6b"/>
<circle class="d" cx="1170.4" cy="928.4" r="8.6" color="#ff1e6b"/>
<circle class="d" cx="1173.8" cy="928.4" r="8.6" color="#ff1e6b"/>
<circle class="d" cx="1176.9" cy="928.4" r="8.6" color="#ff1e6b"/>
<circle class="d" cx="1179.7" cy="928.4" r="8.6" color="#ff1e6b"/>
<circle class="d" cx="1184.1" cy="928.4" r="8.6" color="#ff1e6b"/>
<circle class="d" cx="1187.6" cy="928.4" r="8.6" color="#ff1e6b"/>
<circle class="d" cx="1191.0" cy="928.4" r="8.6" color="#ff1e6b"/>
<circle class="d" cx="1193.0" cy="928.4" r="8.6" color="#ff1e6b"/>
<circle class="d" cx="1197.3" cy="928.4" r="8.6" color="#ff1e6b"/>
<circle class="d" cx="1198.7" cy="928.4" r="8.6" color="#ff1e6b"/>
<circle class="d" cx="1203.6" cy="928.4" r="8.6" color="#ff1e6b"/>
<circle class="d" cx="1206.4" cy="928.4" r="8.6" color="#ff1e6b"/>
<circle class="d" cx="1209.3" cy="928.4" r="8.6" color="#ff1e6b"/>
<circle class="d" cx="1212.3" cy="928.4" r="8.6" color="#ff1e6b"/>
<circle class="d" cx="1215.2" cy="928.4" r="8.6" color="#ff1e6b"/>
<circle class="d" cx="1220.2" cy="928.4" r="8.6" color="#ff1e6b"/>
<circle class="d" cx="1223.5" cy="928.4" r="8.6" color="#ff1e6b"/>
<circle class="d" cx="1225.6" cy="928.4" r="8.6" color="#ff1e6b"/>
<circle class="d" cx="1228.8" cy="928.4" r="8.6" color="#ff1e6b"/>
<circle class="d" cx="1232.1" cy="928.4" r="8.6" color="#ff1e6b"/>
<circle class="d" cx="1236.6" cy="928.4" r="8.6" color="#ff1e6b"/>
<circle class="d" cx="1238.8" cy="928.4" r="8.6" color="#ff1e6b"/>
<circle class="d" cx="1240.2" cy="928.4" r="8.6" color="#ff1e6b"/>
<circle class="d" cx="1245.8" cy="928.4" r="8.6" color="#ff1e6b"/>
<circle class="d" cx="1254.1" cy="928.4" r="8.6" color="#ff1e6b"/>
<circle class="d" cx="1256.3" cy="928.4" r="8.6" color="#ff1e6b"/>
<circle class="d" cx="1261.6" cy="928.4" r="8.6" color="#ff1e6b"/>
<circle class="d" cx="1263.8" cy="928.4" r="8.6" color="#ff1e6b"/>
<circle class="d" cx="1266.2" cy="928.4" r="8.6" color="#ff1e6b"/>
<circle class="d" cx="1269.1" cy="928.4" r="8.6" color="#ff1e6b"/>
<circle class="d" cx="1272.2" cy="928.4" r="8.6" color="#ff1e6b"/>
<circle class="d" cx="1276.3" cy="928.4" r="8.6" color="#ff1e6b"/>
<circle class="d" cx="1280.6" cy="928.4" r="8.6" color="#ff1e6b"/>
<circle class="d" cx="1284.2" cy="928.4" r="8.6" color="#ff1e6b"/>
<circle class="d" cx="1285.4" cy="928.4" r="8.6" color="#ff1e6b"/>
<circle class="d" cx="1288.8" cy="928.4" r="8.6" color="#ff1e6b"/>
<circle class="d" cx="1292.1" cy="928.4" r="8.6" color="#ff1e6b"/>
<circle class="d" cx="1296.7" cy="928.4" r="8.6" color="#ff1e6b"/>
</g>
<g>
<circle class="d" cx="1072.0" cy="1037.0" r="8.6" color="#1ea8e8"/>
<circle class="d" cx="988.0" cy="1037.5" r="8.6" color="#ff1e6b"/>
<circle class="d" cx="992.0" cy="1037.5" r="8.6" color="#ff1e6b"/>
<circle class="d" cx="993.5" cy="1037.5" r="8.6" color="#ff1e6b"/>
<circle class="d" cx="999.3" cy="1037.5" r="8.6" color="#ff1e6b"/>
<circle class="d" cx="1000.0" cy="1037.5" r="8.6" color="#ff1e6b"/>
<circle class="d" cx="1001.4" cy="1037.5" r="8.6" color="#ff1e6b"/>
<circle class="d" cx="1001.6" cy="1037.5" r="8.6" color="#ff1e6b"/>
<circle class="d" cx="1002.5" cy="1037.5" r="8.6" color="#ff1e6b"/>
<circle class="d" cx="1004.7" cy="1037.5" r="8.6" color="#ff1e6b"/>
<circle class="d" cx="1005.3" cy="1037.5" r="8.6" color="#ff1e6b"/>
<circle class="d" cx="1005.5" cy="1037.5" r="8.6" color="#ff1e6b"/>
<circle class="d" cx="1008.0" cy="1037.5" r="8.6" color="#ff1e6b"/>
<circle class="d" cx="1008.2" cy="1037.5" r="8.6" color="#ff1e6b"/>
<circle class="d" cx="1009.9" cy="1037.5" r="8.6" color="#ff1e6b"/>
<circle class="d" cx="1010.4" cy="1037.5" r="8.6" color="#ff1e6b"/>
<circle class="d" cx="1012.3" cy="1037.5" r="8.6" color="#ff1e6b"/>
<circle class="d" cx="1012.8" cy="1037.5" r="8.6" color="#ff1e6b"/>
<circle class="d" cx="1014.8" cy="1037.5" r="8.6" color="#ff1e6b"/>
<circle class="d" cx="1015.3" cy="1037.5" r="8.6" color="#ff1e6b"/>
<circle class="d" cx="1015.4" cy="1037.5" r="8.6" color="#ff1e6b"/>
<circle class="d" cx="1016.2" cy="1037.5" r="8.6" color="#ff1e6b"/>
<circle class="d" cx="1018.4" cy="1037.5" r="8.6" color="#ff1e6b"/>
<circle class="d" cx="1018.4" cy="1037.5" r="8.6" color="#ff1e6b"/>
<circle class="d" cx="1020.2" cy="1037.5" r="8.6" color="#ff1e6b"/>
<circle class="d" cx="1020.8" cy="1037.5" r="8.6" color="#ff1e6b"/>
<circle class="d" cx="1023.3" cy="1037.5" r="8.6" color="#ff1e6b"/>
<circle class="d" cx="1023.1" cy="1037.5" r="8.6" color="#ff1e6b"/>
<circle class="d" cx="1024.5" cy="1037.5" r="8.6" color="#ff1e6b"/>
<circle class="d" cx="1026.5" cy="1037.5" r="8.6" color="#ff1e6b"/>
<circle class="d" cx="1026.2" cy="1037.5" r="8.6" color="#ff1e6b"/>
<circle class="d" cx="1027.7" cy="1037.5" r="8.6" color="#ff1e6b"/>
<circle class="d" cx="1028.0" cy="1037.5" r="8.6" color="#ff1e6b"/>
<circle class="d" cx="1029.4" cy="1037.5" r="8.6" color="#ff1e6b"/>
<circle class="d" cx="1031.8" cy="1037.5" r="8.6" color="#ff1e6b"/>
<circle class="d" cx="1037.0" cy="1037.5" r="8.6" color="#ff1e6b"/>
<circle class="d" cx="1041.0" cy="1037.5" r="8.6" color="#ff1e6b"/>
<circle class="b" cx="1060.6" cy="1024.7" r="8.6" color="#c27ba7"/>
<circle class="b" cx="1062.6" cy="1021.5" r="8.6" color="#c27ba7"/>
<circle class="b" cx="1061.2" cy="1031.5" r="8.6" color="#c27ba7"/>
<circle class="b" cx="1060.6" cy="1017.5" r="8.6" color="#c27ba7"/>
<circle class="b" cx="1060.4" cy="1034.3" r="8.6" color="#c27ba7"/>
<circle class="b" cx="1061.0" cy="1057.3" r="8.6" color="#c27ba7"/>
<circle class="b" cx="1060.4" cy="1021.5" r="8.6" color="#c27ba7"/>
<circle class="b" cx="1060.5" cy="1020.6" r="8.6" color="#c27ba7"/>
<circle class="b" cx="1062.7" cy="999.2" r="8.6" color="#c27ba7"/>
<circle class="b" cx="1062.6" cy="1021.2" r="8.6" color="#c27ba7"/>
<circle class="b" cx="1063.0" cy="1001.2" r="8.6" color="#c27ba7"/>
<circle class="b" cx="1062.0" cy="1040.3" r="8.6" color="#c27ba7"/>
<circle class="b" cx="1061.3" cy="1076.1" r="8.6" color="#c27ba7"/>
<circle class="b" cx="1063.0" cy="1073.2" r="8.6" color="#c27ba7"/>
<circle class="b" cx="1060.1" cy="1021.7" r="8.6" color="#c27ba7"/>
<circle class="b" cx="1062.8" cy="1034.0" r="8.6" color="#c27ba7"/>
<circle class="b" cx="1062.0" cy="1039.2" r="8.6" color="#c27ba7"/>
<circle class="b" cx="1061.6" cy="1053.2" r="8.6" color="#c27ba7"/>
<circle class="b" cx="1062.5" cy="1036.4" r="8.6" color="#c27ba7"/>
<circle class="b" cx="1059.5" cy="1015.8" r="8.6" color="#c27ba7"/>
<circle class="b" cx="1062.5" cy="1076.7" r="8.6" color="#c27ba7"/>
<circle class="b" cx="1061.6" cy="1035.8" r="8.6" color="#c27ba7"/>
<circle class="b" cx="1060.5" cy="1046.4" r="8.6" color="#c27ba7"/>
<circle class="b" cx="1061.2" cy="1032.0" r="8.6" color="#c27ba7"/>
<circle class="b" cx="1059.7" cy="1022.0" r="8.6" color="#c27ba7"/>
<circle class="b" cx="1061.9" cy="1027.7" r="8.6" color="#c27ba7"/>
<circle class="b" cx="1062.1" cy="1023.2" r="8.6" color="#c27ba7"/>
<circle class="b" cx="1062.6" cy="1048.6" r="8.6" color="#c27ba7"/>
<circle class="b" cx="1059.9" cy="1074.0" r="8.6" color="#c27ba7"/>
<circle class="b" cx="1060.8" cy="1074.6" r="8.6" color="#c27ba7"/>
<circle class="b" cx="1060.8" cy="1078.8" r="8.6" color="#c27ba7"/>
<circle class="b" cx="1062.8" cy="1041.1" r="8.6" color="#c27ba7"/>
<circle class="b" cx="1062.5" cy="1057.2" r="8.6" color="#c27ba7"/>
<circle class="b" cx="1062.0" cy="1028.1" r="8.6" color="#c27ba7"/>
<circle class="b" cx="1063.0" cy="1061.7" r="8.6" color="#c27ba7"/>
<circle class="b" cx="1062.0" cy="1058.7" r="8.6" color="#c27ba7"/>
<circle class="b" cx="1060.3" cy="1005.7" r="8.6" color="#c27ba7"/>
<circle class="b" cx="1063.0" cy="1024.0" r="8.6" color="#c27ba7"/>
<circle class="b" cx="1060.2" cy="1070.6" r="8.6" color="#c27ba7"/>
<circle class="b" cx="1061.8" cy="1004.6" r="8.6" color="#c27ba7"/>
<circle class="b" cx="1060.8" cy="1003.5" r="8.6" color="#c27ba7"/>
<circle class="b" cx="1063.0" cy="1005.9" r="8.6" color="#c27ba7"/>
<circle class="b" cx="1060.4" cy="1052.2" r="8.6" color="#c27ba7"/>
<circle class="b" cx="1061.6" cy="1013.8" r="8.6" color="#c27ba7"/>
<circle class="b" cx="1060.8" cy="1029.5" r="8.6" color="#c27ba7"/>
<circle class="b" cx="1061.7" cy="998.7" r="8.6" color="#c27ba7"/>
<circle class="b" cx="1061.2" cy="1048.8" r="8.6" color="#c27ba7"/>
<circle class="b" cx="1062.0" cy="1048.3" r="8.6" color="#c27ba7"/>
<circle class="b" cx="1061.7" cy="1025.0" r="8.6" color="#c27ba7"/>
<circle class="b" cx="1060.6" cy="1061.3" r="8.6" color="#c27ba7"/>
<circle class="b" cx="1060.5" cy="1051.0" r="8.6" color="#c27ba7"/>
<circle class="b" cx="1061.6" cy="1074.3" r="8.6" color="#c27ba7"/>
<circle class="b" cx="1059.7" cy="1046.9" r="8.6" color="#c27ba7"/>
<circle class="b" cx="1060.0" cy="1050.0" r="8.6" color="#c27ba7"/>
<circle class="b" cx="1060.0" cy="1044.3" r="8.6" color="#c27ba7"/>
<circle class="b" cx="1060.6" cy="1013.1" r="8.6" color="#c27ba7"/>
<circle class="b" cx="1062.0" cy="1028.3" r="8.6" color="#c27ba7"/>
<circle class="b" cx="1061.6" cy="1051.1" r="8.6" color="#c27ba7"/>
<circle class="b" cx="1059.8" cy="1068.1" r="8.6" color="#c27ba7"/>
<circle class="b" cx="1061.5" cy="1032.0" r="8.6" color="#c27ba7"/>
<circle class="b" cx="1059.4" cy="1003.2" r="8.6" color="#c27ba7"/>
<circle class="b" cx="1060.8" cy="1046.4" r="8.6" color="#c27ba7"/>
<circle class="b" cx="1061.9" cy="1029.1" r="8.6" color="#c27ba7"/>
<circle class="b" cx="1061.0" cy="1055.9" r="8.6" color="#c27ba7"/>
<circle class="b" cx="1062.2" cy="1069.3" r="8.6" color="#c27ba7"/>
<circle class="b" cx="1062.6" cy="1023.5" r="8.6" color="#c27ba7"/>
<circle class="b" cx="1061.7" cy="1039.3" r="8.6" color="#c27ba7"/>
<circle class="b" cx="1061.1" cy="1075.3" r="8.6" color="#c27ba7"/>
<circle class="b" cx="1062.9" cy="1042.5" r="8.6" color="#c27ba7"/>
<circle class="b" cx="1062.4" cy="998.7" r="8.6" color="#c27ba7"/>
<circle class="b" cx="1060.1" cy="1066.4" r="8.6" color="#c27ba7"/>
<circle class="b" cx="1062.9" cy="1063.4" r="8.6" color="#c27ba7"/>
<circle class="b" cx="1063.0" cy="1071.1" r="8.6" color="#c27ba7"/>
<circle class="b" cx="1059.4" cy="1003.0" r="8.6" color="#c27ba7"/>
<circle class="b" cx="1062.5" cy="1077.6" r="8.6" color="#c27ba7"/>
<circle class="b" cx="1060.7" cy="1029.7" r="8.6" color="#c27ba7"/>
<circle class="b" cx="1061.8" cy="1031.1" r="8.6" color="#c27ba7"/>
<circle class="b" cx="1061.9" cy="1015.0" r="8.6" color="#c27ba7"/>
<circle class="b" cx="1062.4" cy="1069.4" r="8.6" color="#c27ba7"/>
<circle class="b" cx="1059.8" cy="1068.0" r="8.6" color="#c27ba7"/>
<circle class="b" cx="1062.9" cy="1058.5" r="8.6" color="#c27ba7"/>
<circle class="b" cx="1062.6" cy="1025.2" r="8.6" color="#c27ba7"/>
<circle class="b" cx="1063.0" cy="1044.5" r="8.6" color="#c27ba7"/>
<circle class="b" cx="1060.2" cy="1078.1" r="8.6" color="#c27ba7"/>
<circle class="b" cx="1060.5" cy="1013.3" r="8.6" color="#c27ba7"/>
<circle class="b" cx="1063.0" cy="1018.0" r="8.6" color="#c27ba7"/>
<circle class="b" cx="1060.8" cy="1016.2" r="8.6" color="#c27ba7"/>
<circle class="b" cx="1061.7" cy="1010.8" r="8.6" color="#c27ba7"/>
<circle class="b" cx="1061.1" cy="1032.0" r="8.6" color="#c27ba7"/>
<circle class="b" cx="1059.6" cy="1015.3" r="8.6" color="#c27ba7"/>
<circle class="b" cx="1061.8" cy="1069.7" r="8.6" color="#c27ba7"/>
<circle class="b" cx="1062.5" cy="1000.0" r="8.6" color="#c27ba7"/>
<circle class="b" cx="1060.0" cy="1030.7" r="8.6" color="#c27ba7"/>
<circle class="b" cx="1062.7" cy="1028.6" r="8.6" color="#c27ba7"/>
<circle class="b" cx="1061.0" cy="1025.9" r="8.6" color="#c27ba7"/>
<circle class="b" cx="1060.0" cy="1026.3" r="8.6" color="#c27ba7"/>
<circle class="b" cx="1059.9" cy="1022.2" r="8.6" color="#c27ba7"/>
<circle class="b" cx="1061.2" cy="1076.0" r="8.6" color="#c27ba7"/>
<circle class="b" cx="1061.5" cy="1078.0" r="8.6" color="#c27ba7"/>
<circle class="b" cx="1061.8" cy="1068.0" r="8.6" color="#c27ba7"/>
<circle class="b" cx="1062.3" cy="1054.4" r="8.6" color="#c27ba7"/>
<circle class="b" cx="1063.1" cy="1066.0" r="8.6" color="#c27ba7"/>
<circle class="b" cx="1060.9" cy="998.0" r="8.6" color="#c27ba7"/>
<circle class="b" cx="1062.7" cy="1021.4" r="8.6" color="#c27ba7"/>
<circle class="b" cx="1062.9" cy="1071.3" r="8.6" color="#c27ba7"/>
<circle class="b" cx="1062.9" cy="1056.6" r="8.6" color="#c27ba7"/>
<circle class="b" cx="1060.9" cy="1039.1" r="8.6" color="#c27ba7"/>
<circle class="b" cx="1062.9" cy="1077.7" r="8.6" color="#c27ba7"/>
<circle class="b" cx="1062.4" cy="1065.4" r="8.6" color="#c27ba7"/>
<circle class="b" cx="1061.1" cy="1075.2" r="8.6" color="#c27ba7"/>
<circle class="b" cx="1062.5" cy="1009.9" r="8.6" color="#c27ba7"/>
<circle class="b" cx="1063.1" cy="1001.7" r="8.6" color="#c27ba7"/>
<circle class="b" cx="1061.0" cy="1001.2" r="8.6" color="#c27ba7"/>
<circle class="b" cx="1061.3" cy="1009.0" r="8.6" color="#c27ba7"/>
<circle class="b" cx="1062.4" cy="1074.7" r="8.6" color="#c27ba7"/>
<circle class="b" cx="1060.2" cy="1062.0" r="8.6" color="#c27ba7"/>
<circle class="b" cx="1059.8" cy="1063.4" r="8.6" color="#c27ba7"/>
<circle class="b" cx="1059.6" cy="1061.3" r="8.6" color="#c27ba7"/>
<circle class="b" cx="1062.0" cy="1076.9" r="8.6" color="#c27ba7"/>
<circle class="b" cx="1061.4" cy="1021.2" r="8.6" color="#c27ba7"/>
<circle class="b" cx="1060.0" cy="1022.5" r="8.6" color="#c27ba7"/>
<circle class="b" cx="1061.2" cy="1028.9" r="8.6" color="#c27ba7"/>
<circle class="b" cx="1061.0" cy="1078.7" r="8.6" color="#c27ba7"/>
<circle class="b" cx="1063.2" cy="1004.9" r="8.6" color="#c27ba7"/>
<circle class="b" cx="1060.4" cy="1028.1" r="8.6" color="#c27ba7"/>
<circle class="b" cx="1061.1" cy="1019.5" r="8.6" color="#c27ba7"/>
<circle class="b" cx="1060.7" cy="1024.0" r="8.6" color="#c27ba7"/>
<circle class="b" cx="1062.6" cy="1063.3" r="8.6" color="#c27ba7"/>
<circle class="b" cx="1061.4" cy="1047.3" r="8.6" color="#c27ba7"/>
<circle class="b" cx="1061.0" cy="1014.4" r="8.6" color="#c27ba7"/>
<circle class="b" cx="1062.4" cy="1012.5" r="8.6" color="#c27ba7"/>
<circle class="b" cx="1059.6" cy="1047.5" r="8.6" color="#c27ba7"/>
<circle class="b" cx="1061.4" cy="1013.6" r="8.6" color="#c27ba7"/>
<circle class="b" cx="1060.0" cy="1052.6" r="8.6" color="#c27ba7"/>
<circle class="b" cx="1062.6" cy="1031.5" r="8.6" color="#c27ba7"/>
<circle class="b" cx="1060.5" cy="1037.5" r="8.6" color="#c27ba7"/>
<circle class="b" cx="1060.0" cy="1034.5" r="8.6" color="#c27ba7"/>
<circle class="b" cx="1061.8" cy="1028.1" r="8.6" color="#c27ba7"/>
<circle class="b" cx="1060.1" cy="1001.4" r="8.6" color="#c27ba7"/>
<circle class="b" cx="1062.7" cy="1018.8" r="8.6" color="#c27ba7"/>
<circle class="b" cx="1063.2" cy="1048.4" r="8.6" color="#c27ba7"/>
<circle class="b" cx="1061.3" cy="1041.4" r="8.6" color="#c27ba7"/>
<circle class="b" cx="1060.4" cy="1067.7" r="8.6" color="#c27ba7"/>
<circle class="b" cx="1061.9" cy="1044.9" r="8.6" color="#c27ba7"/>
<circle class="b" cx="1059.8" cy="1009.0" r="8.6" color="#c27ba7"/>
<circle class="b" cx="1061.9" cy="1008.6" r="8.6" color="#c27ba7"/>
<circle class="b" cx="1060.6" cy="1022.0" r="8.6" color="#c27ba7"/>
<circle class="b" cx="1062.9" cy="1002.8" r="8.6" color="#c27ba7"/>
<circle class="b" cx="1061.4" cy="1075.4" r="8.6" color="#c27ba7"/>
<circle class="b" cx="1061.3" cy="1066.7" r="8.6" color="#c27ba7"/>
<circle class="b" cx="1061.7" cy="1042.5" r="8.6" color="#c27ba7"/>
<circle class="b" cx="1060.8" cy="1021.3" r="8.6" color="#c27ba7"/>
<circle class="b" cx="1063.0" cy="1042.6" r="8.6" color="#c27ba7"/>
<circle class="b" cx="1060.9" cy="1039.1" r="8.6" color="#c27ba7"/>
<circle class="b" cx="1062.3" cy="1055.7" r="8.6" color="#c27ba7"/>
<circle class="b" cx="1060.8" cy="1063.0" r="8.6" color="#c27ba7"/>
<circle class="b" cx="1062.3" cy="1043.5" r="8.6" color="#c27ba7"/>
<circle class="b" cx="1063.2" cy="1026.4" r="8.6" color="#c27ba7"/>
<circle class="b" cx="1059.7" cy="1048.4" r="8.6" color="#c27ba7"/>
<circle class="b" cx="1061.9" cy="1076.8" r="8.6" color="#c27ba7"/>
<circle class="b" cx="1062.1" cy="1048.8" r="8.6" color="#c27ba7"/>
<circle class="b" cx="1060.1" cy="1038.0" r="8.6" color="#c27ba7"/>
<circle class="b" cx="1060.0" cy="1026.6" r="8.6" color="#c27ba7"/>
<circle class="b" cx="1060.2" cy="1058.5" r="8.6" color="#c27ba7"/>
<circle class="b" cx="1062.9" cy="1076.9" r="8.6" color="#c27ba7"/>
<circle class="b" cx="1060.4" cy="1060.4" r="8.6" color="#c27ba7"/>
<circle class="b" cx="1061.9" cy="1054.5" r="8.6" color="#c27ba7"/>
<circle class="b" cx="1060.1" cy="1057.1" r="8.6" color="#c27ba7"/>
<circle class="b" cx="1060.1" cy="1049.1" r="8.6" color="#c27ba7"/>
<circle class="b" cx="1061.2" cy="1057.2" r="8.6" color="#c27ba7"/>
<circle class="b" cx="1060.7" cy="1067.3" r="8.6" color="#c27ba7"/>
<circle class="b" cx="1060.3" cy="1050.4" r="8.6" color="#c27ba7"/>
<circle class="b" cx="1060.4" cy="1033.9" r="8.6" color="#c27ba7"/>
<circle class="b" cx="1062.6" cy="1026.5" r="8.6" color="#c27ba7"/>
<circle class="b" cx="1062.6" cy="1013.9" r="8.6" color="#c27ba7"/>
<circle class="b" cx="1060.0" cy="1005.2" r="8.6" color="#c27ba7"/>
<circle class="b" cx="1060.2" cy="1039.5" r="8.6" color="#c27ba7"/>
<circle class="b" cx="1059.3" cy="1023.4" r="8.6" color="#c27ba7"/>
<circle class="b" cx="1060.7" cy="1059.5" r="8.6" color="#c27ba7"/>
<circle class="b" cx="1061.0" cy="1056.0" r="8.6" color="#c27ba7"/>
<circle class="b" cx="1062.2" cy="1038.7" r="8.6" color="#c27ba7"/>
<circle class="b" cx="1061.6" cy="1044.6" r="8.6" color="#c27ba7"/>
<circle class="b" cx="1059.5" cy="1035.6" r="8.6" color="#c27ba7"/>
<circle class="b" cx="1063.0" cy="1044.0" r="8.6" color="#c27ba7"/>
<circle class="b" cx="1061.3" cy="1006.1" r="8.6" color="#c27ba7"/>
<circle class="b" cx="1059.9" cy="1049.9" r="8.6" color="#c27ba7"/>
<circle class="b" cx="1060.4" cy="1043.0" r="8.6" color="#c27ba7"/>
<circle class="b" cx="1060.0" cy="1071.6" r="8.6" color="#c27ba7"/>
<circle class="b" cx="1062.5" cy="1010.4" r="8.6" color="#c27ba7"/>
<circle class="b" cx="1060.2" cy="1024.6" r="8.6" color="#c27ba7"/>
<circle class="b" cx="1063.0" cy="1015.1" r="8.6" color="#c27ba7"/>
<circle class="b" cx="1061.8" cy="1070.9" r="8.6" color="#c27ba7"/>
<circle class="b" cx="1062.8" cy="1014.7" r="8.6" color="#c27ba7"/>
<circle class="b" cx="1062.8" cy="1054.8" r="8.6" color="#c27ba7"/>
<circle class="b" cx="1060.3" cy="1054.3" r="8.6" color="#c27ba7"/>
<circle class="b" cx="1062.9" cy="1008.4" r="8.6" color="#c27ba7"/>
<circle class="b" cx="1060.0" cy="1076.9" r="8.6" color="#c27ba7"/>
<circle class="b" cx="1062.9" cy="1013.1" r="8.6" color="#c27ba7"/>
<circle class="b" cx="1062.4" cy="1049.5" r="8.6" color="#c27ba7"/>
<circle class="b" cx="1062.5" cy="1078.6" r="8.6" color="#c27ba7"/>
<circle class="b" cx="1060.9" cy="1037.3" r="8.6" color="#c27ba7"/>
<circle class="b" cx="1063.1" cy="1005.0" r="8.6" color="#c27ba7"/>
<circle class="b" cx="1061.5" cy="1059.8" r="8.6" color="#c27ba7"/>
<circle class="b" cx="1060.4" cy="1018.6" r="8.6" color="#c27ba7"/>
<circle class="b" cx="1062.2" cy="1063.3" r="8.6" color="#c27ba7"/>
<circle class="b" cx="1059.7" cy="1060.9" r="8.6" color="#c27ba7"/>
<circle class="b" cx="1062.5" cy="1061.7" r="8.6" color="#c27ba7"/>
<circle class="b" cx="1061.8" cy="998.1" r="8.6" color="#c27ba7"/>
<circle class="b" cx="1061.9" cy="1037.4" r="8.6" color="#c27ba7"/>
<circle class="b" cx="1060.2" cy="1001.7" r="8.6" color="#c27ba7"/>
<circle class="b" cx="1060.0" cy="1029.2" r="8.6" color="#c27ba7"/>
<circle class="b" cx="1062.6" cy="1029.2" r="8.6" color="#c27ba7"/>
<circle class="b" cx="1061.7" cy="1061.9" r="8.6" color="#c27ba7"/>
<circle class="b" cx="1061.3" cy="1001.1" r="8.6" color="#c27ba7"/>
<circle class="b" cx="1060.4" cy="1041.2" r="8.6" color="#c27ba7"/>
<circle class="b" cx="1062.3" cy="1013.3" r="8.6" color="#c27ba7"/>
<circle class="b" cx="1062.3" cy="1067.6" r="8.6" color="#c27ba7"/>
<circle class="b" cx="1061.6" cy="1034.0" r="8.6" color="#c27ba7"/>
<circle class="b" cx="1062.2" cy="1029.1" r="8.6" color="#c27ba7"/>
<circle class="b" cx="1059.5" cy="1034.5" r="8.6" color="#c27ba7"/>
<circle class="b" cx="1060.4" cy="1027.2" r="8.6" color="#c27ba7"/>
<circle class="b" cx="1059.3" cy="1070.1" r="8.6" color="#c27ba7"/>
<circle class="b" cx="1061.5" cy="998.7" r="8.6" color="#c27ba7"/>
<circle class="b" cx="1061.5" cy="1066.4" r="8.6" color="#c27ba7"/>
<circle class="b" cx="1060.1" cy="1004.8" r="8.6" color="#c27ba7"/>
<circle class="b" cx="1059.5" cy="1021.7" r="8.6" color="#c27ba7"/>
<circle class="b" cx="1062.6" cy="1013.9" r="8.6" color="#c27ba7"/>
<circle class="b" cx="1061.4" cy="1001.0" r="8.6" color="#c27ba7"/>
<circle class="b" cx="1062.8" cy="1047.1" r="8.6" color="#c27ba7"/>
<circle class="b" cx="1061.2" cy="1017.4" r="8.6" color="#c27ba7"/>
<circle class="b" cx="1061.5" cy="1014.8" r="8.6" color="#c27ba7"/>
<circle class="b" cx="1060.5" cy="1013.1" r="8.6" color="#c27ba7"/>
<circle class="b" cx="1061.8" cy="1043.6" r="8.6" color="#c27ba7"/>
<circle class="b" cx="1062.4" cy="1022.4" r="8.6" color="#c27ba7"/>
<circle class="b" cx="1062.4" cy="1044.5" r="8.6" color="#c27ba7"/>
<circle class="b" cx="1059.5" cy="1065.8" r="8.6" color="#c27ba7"/>
<circle class="b" cx="1061.4" cy="1079.4" r="8.6" color="#c27ba7"/>
<circle class="b" cx="1060.5" cy="1031.1" r="8.6" color="#c27ba7"/>
<circle class="b" cx="1063.1" cy="1045.8" r="8.6" color="#c27ba7"/>
<circle class="b" cx="1061.4" cy="1077.1" r="8.6" color="#c27ba7"/>
<circle class="b" cx="1059.4" cy="1004.1" r="8.6" color="#c27ba7"/>
<circle class="b" cx="1060.8" cy="1012.0" r="8.6" color="#c27ba7"/>
<circle class="b" cx="1060.8" cy="1071.9" r="8.6" color="#c27ba7"/>
<circle class="b" cx="1062.8" cy="1011.4" r="8.6" color="#c27ba7"/>
<circle class="b" cx="1062.7" cy="1077.3" r="8.6" color="#c27ba7"/>
<circle class="b" cx="1059.7" cy="1047.1" r="8.6" color="#c27ba7"/>
<circle class="b" cx="1063.2" cy="1051.1" r="8.6" color="#c27ba7"/>
<circle class="b" cx="1062.8" cy="1022.4" r="8.6" color="#c27ba7"/>
<circle class="b" cx="1063.0" cy="1004.3" r="8.6" color="#c27ba7"/>
<circle class="b" cx="1059.8" cy="1008.1" r="8.6" color="#c27ba7"/>
<circle class="b" cx="1060.0" cy="1046.3" r="8.6" color="#c27ba7"/>
<circle class="b" cx="1061.9" cy="1052.3" r="8.6" color="#c27ba7"/>
<circle class="b" cx="1062.2" cy="1034.9" r="8.6" color="#c27ba7"/>
<circle class="b" cx="1063.1" cy="1025.5" r="8.6" color="#c27ba7"/>
<circle class="b" cx="1060.5" cy="1045.0" r="8.6" color="#c27ba7"/>
<circle class="b" cx="1060.0" cy="1059.2" r="8.6" color="#c27ba7"/>
<circle class="b" cx="1062.4" cy="999.2" r="8.6" color="#c27ba7"/>
<circle class="b" cx="1060.4" cy="1049.4" r="8.6" color="#c27ba7"/>
<circle class="b" cx="1059.4" cy="1019.8" r="8.6" color="#c27ba7"/>
<circle class="b" cx="1059.9" cy="1042.9" r="8.6" color="#c27ba7"/>
<circle class="b" cx="1063.1" cy="1063.8" r="8.6" color="#c27ba7"/>
<circle class="b" cx="1059.3" cy="1012.2" r="8.6" color="#c27ba7"/>
<circle class="b" cx="1062.0" cy="1023.8" r="8.6" color="#c27ba7"/>
<circle class="b" cx="1062.7" cy="1052.2" r="8.6" color="#c27ba7"/>
<circle class="b" cx="1060.4" cy="1008.6" r="8.6" color="#c27ba7"/>
<circle class="b" cx="1062.2" cy="1007.2" r="8.6" color="#c27ba7"/>
<circle class="b" cx="1062.9" cy="1016.8" r="8.6" color="#c27ba7"/>
<circle class="b" cx="1059.5" cy="1073.2" r="8.6" color="#c27ba7"/>
<circle class="b" cx="1060.0" cy="1008.9" r="8.6" color="#c27ba7"/>
<circle class="b" cx="1062.6" cy="1077.0" r="8.6" color="#c27ba7"/>
<circle class="b" cx="1061.0" cy="1027.0" r="8.6" color="#c27ba7"/>
<circle class="b" cx="1060.1" cy="1026.3" r="8.6" color="#c27ba7"/>
<circle class="b" cx="1059.4" cy="1018.1" r="8.6" color="#c27ba7"/>
<circle class="b" cx="1062.8" cy="1042.8" r="8.6" color="#c27ba7"/>
<circle class="b" cx="1059.8" cy="1011.8" r="8.6" color="#c27ba7"/>
<circle class="b" cx="1063.1" cy="1019.8" r="8.6" color="#c27ba7"/>
<circle class="b" cx="1060.3" cy="1063.4" r="8.6" color="#c27ba7"/>
<circle class="b" cx="1059.4" cy="1050.4" r="8.6" color="#c27ba7"/>
<circle class="b" cx="1060.8" cy="1023.0" r="8.6" color="#c27ba7"/>
<circle class="b" cx="1060.4" cy="1059.8" r="8.6" color="#c27ba7"/>
<circle class="b" cx="1062.7" cy="1034.0" r="8.6" color="#c27ba7"/>
<circle class="b" cx="1059.5" cy="1055.1" r="8.6" color="#c27ba7"/>
<circle class="b" cx="1059.7" cy="1043.8" r="8.6" color="#c27ba7"/>
<circle class="b" cx="1063.1" cy="1020.2" r="8.6" color="#c27ba7"/>
<circle class="b" cx="1061.9" cy="1072.9" r="8.6" color="#c27ba7"/>
<circle class="b" cx="1063.0" cy="1061.5" r="8.6" color="#c27ba7"/>
<circle class="b" cx="1060.0" cy="1039.5" r="8.6" color="#c27ba7"/>
<circle class="b" cx="1059.9" cy="1032.8" r="8.6" color="#c27ba7"/>
<circle class="b" cx="1059.9" cy="1040.0" r="8.6" color="#c27ba7"/>
<circle class="b" cx="1062.4" cy="1026.0" r="8.6" color="#c27ba7"/>
<circle class="b" cx="1061.6" cy="1072.3" r="8.6" color="#c27ba7"/>
<circle class="b" cx="1062.8" cy="1045.1" r="8.6" color="#c27ba7"/>
<circle class="b" cx="1062.0" cy="1024.3" r="8.6" color="#c27ba7"/>
<circle class="b" cx="1060.9" cy="1061.6" r="8.6" color="#c27ba7"/>
<circle class="b" cx="1062.7" cy="1026.5" r="8.6" color="#c27ba7"/>
<circle class="b" cx="1060.7" cy="1040.1" r="8.6" color="#c27ba7"/>
<circle class="b" cx="1059.4" cy="998.7" r="8.6" color="#c27ba7"/>
<circle class="b" cx="1060.3" cy="1017.8" r="8.6" color="#c27ba7"/>
<circle class="b" cx="1062.0" cy="1033.7" r="8.6" color="#c27ba7"/>
<circle class="b" cx="1061.2" cy="1012.7" r="8.6" color="#c27ba7"/>
<circle class="b" cx="1061.9" cy="1035.4" r="8.6" color="#c27ba7"/>
<circle class="b" cx="1061.4" cy="1027.3" r="8.6" color="#c27ba7"/>
<circle class="b" cx="1059.8" cy="1025.1" r="8.6" color="#c27ba7"/>
<circle class="b" cx="1060.1" cy="1055.3" r="8.6" color="#c27ba7"/>
<circle class="b" cx="1061.4" cy="1038.0" r="8.6" color="#c27ba7"/>
<circle class="b" cx="1061.2" cy="1060.3" r="8.6" color="#c27ba7"/>
<circle class="b" cx="1062.2" cy="1072.3" r="8.6" color="#c27ba7"/>
<circle class="b" cx="1062.5" cy="1043.7" r="8.6" color="#c27ba7"/>
<circle class="b" cx="1062.1" cy="1005.1" r="8.6" color="#c27ba7"/>
<circle class="b" cx="1060.1" cy="1068.3" r="8.6" color="#c27ba7"/>
<circle class="b" cx="1060.4" cy="1068.2" r="8.6" color="#c27ba7"/>
<circle class="b" cx="1061.7" cy="1049.8" r="8.6" color="#c27ba7"/>
<circle class="b" cx="1062.8" cy="1057.9" r="8.6" color="#c27ba7"/>
<circle class="b" cx="1062.7" cy="1068.3" r="8.6" color="#c27ba7"/>
<circle class="b" cx="1059.8" cy="1029.2" r="8.6" color="#c27ba7"/>
<circle class="b" cx="1061.1" cy="1067.3" r="8.6" color="#c27ba7"/>
<circle class="b" cx="1061.4" cy="1004.0" r="8.6" color="#c27ba7"/>
<circle class="b" cx="1060.3" cy="1024.7" r="8.6" color="#c27ba7"/>
<circle class="b" cx="1059.5" cy="1040.7" r="8.6" color="#c27ba7"/>
<circle class="b" cx="1060.4" cy="1005.7" r="8.6" color="#c27ba7"/>
<circle class="b" cx="1061.1" cy="1075.6" r="8.6" color="#c27ba7"/>
<circle class="b" cx="1061.1" cy="1025.5" r="8.6" color="#c27ba7"/>
<circle class="b" cx="1060.1" cy="1020.5" r="8.6" color="#c27ba7"/>
<circle class="b" cx="1060.8" cy="1050.8" r="8.6" color="#c27ba7"/>
<circle class="b" cx="1059.6" cy="1073.6" r="8.6" color="#c27ba7"/>
<circle class="b" cx="1061.1" cy="1058.0" r="8.6" color="#c27ba7"/>
<circle class="b" cx="1061.0" cy="1069.2" r="8.6" color="#c27ba7"/>
<circle class="b" cx="1062.4" cy="1034.5" r="8.6" color="#c27ba7"/>
<circle class="b" cx="1060.5" cy="1005.4" r="8.6" color="#c27ba7"/>
<circle class="b" cx="1061.3" cy="1036.9" r="8.6" color="#c27ba7"/>
<circle class="b" cx="1066.0" cy="1033.0" r="8.6" color="#c27ba7"/>
<circle class="b" cx="1066.5" cy="1041.0" r="8.6" color="#c27ba7"/>
<circle class="b" cx="1066.0" cy="1037.0" r="8.6" color="#c27ba7"/>
<circle class="b" cx="1065.0" cy="1045.0" r="8.6" color="#c27ba7"/>
<circle class="b" cx="1065.0" cy="1029.0" r="8.6" color="#c27ba7"/>
</g>
</g>
<!-- axes -->
<g opacity="0.999">
<rect x="347" y="208" width="4.8" height="898" fill="#000"/>
<rect x="347" y="1101" width="1470.8" height="4.8" fill="#000"/>
<rect x="337" y="270.8" width="10.5" height="4.6" fill="#333"/>
<rect x="337" y="380.0" width="10.5" height="4.6" fill="#333"/>
<rect x="337" y="489.2" width="10.5" height="4.6" fill="#333"/>
<rect x="337" y="598.4" width="10.5" height="4.6" fill="#333"/>
<rect x="337" y="707.6" width="10.5" height="4.6" fill="#333"/>
<rect x="337" y="816.8" width="10.5" height="4.6" fill="#333"/>
<rect x="337" y="926.0" width="10.5" height="4.6" fill="#333"/>
<rect x="337" y="1035.2" width="10.5" height="4.6" fill="#333"/>
<rect x="530.9" y="1105.5" width="4.6" height="9.8" fill="#333"/>
<rect x="792.9" y="1105.5" width="4.6" height="9.8" fill="#333"/>
<rect x="1054.9" y="1105.5" width="4.6" height="9.8" fill="#333"/>
<rect x="1316.9" y="1105.5" width="4.6" height="9.8" fill="#333"/>
<rect x="1578.9" y="1105.5" width="4.6" height="9.8" fill="#333"/>
<text transform="translate(327.4,287.4) scale(1.02,1.03)" text-anchor="end" class="at">GLEASON</text>
<text transform="translate(327.4,396.6) scale(1.02,1.03)" text-anchor="end" class="at">DPROS</text>
<text transform="translate(327.4,505.8) scale(1.02,1.03)" text-anchor="end" class="at">PSA</text>
<text transform="translate(327.4,615.0) scale(1.02,1.03)" text-anchor="end" class="at">ID</text>
<text transform="translate(327.4,724.2) scale(1.02,1.03)" text-anchor="end" class="at">AGE</text>
<text transform="translate(327.4,833.4) scale(1.02,1.03)" text-anchor="end" class="at">VOL</text>
<text transform="translate(327.4,942.6) scale(1.02,1.03)" text-anchor="end" class="at">DCAPS</text>
<text transform="translate(327.4,1051.8) scale(1.02,1.03)" text-anchor="end" class="at">RACE</text>
<text transform="translate(532.9,1153.8) scale(1.03,1.03)" text-anchor="middle" class="at">−1.0</text>
<text transform="translate(794.9,1153.8) scale(1.03,1.03)" text-anchor="middle" class="at">−0.5</text>
<text transform="translate(1056.9,1153.8) scale(1.03,1.03)" text-anchor="middle" class="at">0.0</text>
<text transform="translate(1318.9,1153.8) scale(1.03,1.03)" text-anchor="middle" class="at">0.5</text>
<text transform="translate(1580.9,1153.8) scale(1.03,1.03)" text-anchor="middle" class="at">1.0</text>

<text transform="translate(1082.5,1262) scale(0.994,1.065)" text-anchor="middle" class="tt">SHAP contribution</text>
<text transform="translate(61,654.5) rotate(-90) scale(0.98,1.065)" text-anchor="middle" class="tt">Features</text>
</g>
</svg>
</body></html>
